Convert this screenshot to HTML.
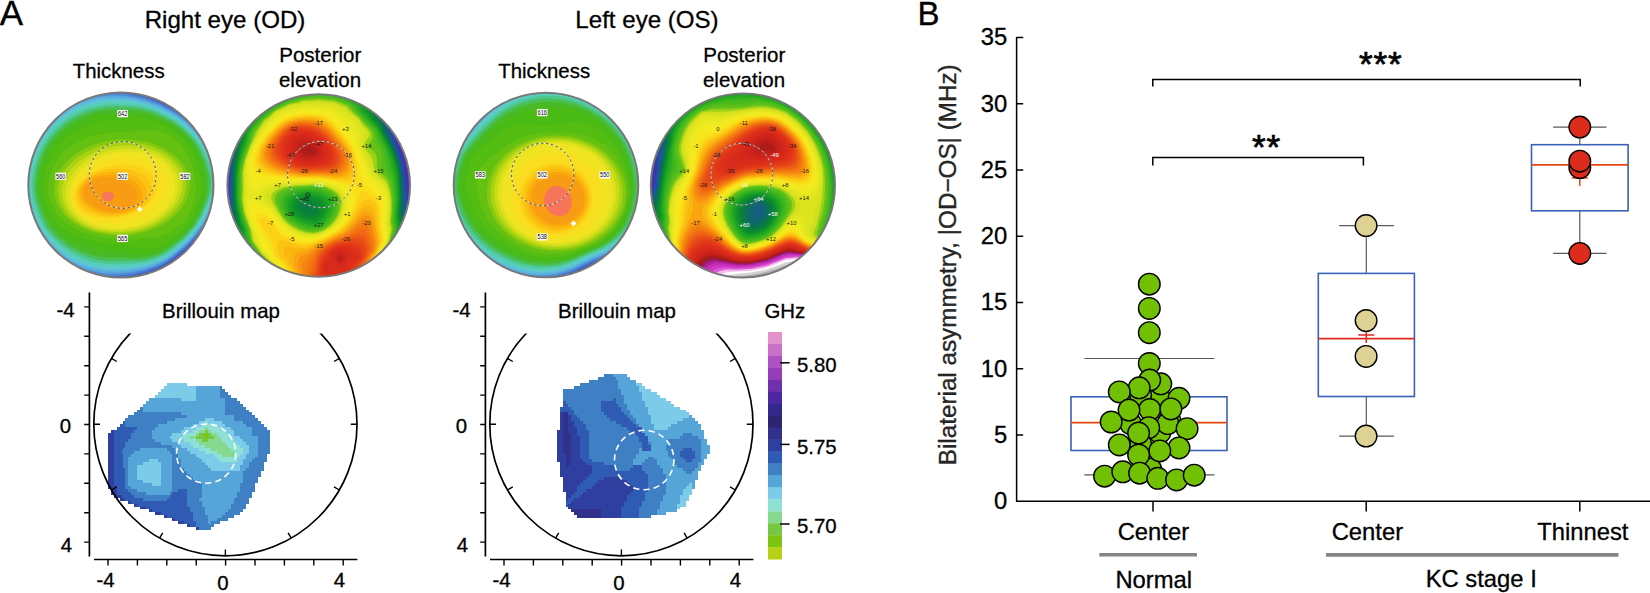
<!DOCTYPE html>
<html lang="en"><head><meta charset="utf-8"><title>Figure</title>
<style>
html,body{margin:0;padding:0;background:#fff;}
body{width:1650px;height:593px;overflow:hidden;}
svg{display:block;}
svg text{font-family:"Liberation Sans",Arial,Helvetica,sans-serif;stroke:#000;stroke-width:0.3px;}
svg text.sm, svg .sm text{stroke:none;}
</style></head><body>
<svg width="1650" height="593" viewBox="0 0 1650 593">
<rect width="1650" height="593" fill="#fff"/>
<text x="-0.3" y="25" font-size="35" text-anchor="start" fill="#000" >A</text>
<text x="917.6" y="25" font-size="33" text-anchor="start" fill="#000" >B</text>
<text x="225" y="27.7" font-size="24.1" text-anchor="middle" fill="#000" >Right eye (OD)</text>
<text x="647" y="27.7" font-size="24.1" text-anchor="middle" fill="#000" >Left eye (OS)</text>
<text x="118.7" y="77.6" font-size="20.4" text-anchor="middle" fill="#000" >Thickness</text>
<text x="544.2" y="77.6" font-size="20.4" text-anchor="middle" fill="#000" >Thickness</text>
<text x="320.3" y="62.2" font-size="20.5" text-anchor="middle" fill="#000" >Posterior</text>
<text x="320" y="87.1" font-size="20.5" text-anchor="middle" fill="#000" >elevation</text>
<text x="744.3" y="61.6" font-size="20.5" text-anchor="middle" fill="#000" >Posterior</text>
<text x="744" y="87.1" font-size="20.5" text-anchor="middle" fill="#000" >elevation</text>
<defs><clipPath id="bclip"><rect x="0" y="333.6" width="900" height="260"/></clipPath></defs>
<clipPath id="odec"><circle cx="318.7" cy="185.5" r="91.3"/></clipPath><g clip-path="url(#odec)" fill-rule="evenodd"><rect x="225.39999999999998" y="92.2" width="186.6" height="186.6" fill="#9A9A9A"/><path fill="#AEAEAE" d="M224.4,91.2 412.4,91.2 412.4,279.2 224.4,279.2Z"/><path fill="#D2D2D2" d="M224.4,91.2 412.4,91.2 412.4,279.2 224.4,279.2Z"/><path fill="#FEFBFE" d="M224.4,91.2 412.4,91.2 412.4,279.2 224.4,279.2Z"/><path fill="#F5BAED" d="M224.4,91.2 412.4,91.2 412.4,279.2 224.4,279.2Z"/><path fill="#DE57D4" d="M224.4,91.2 412.4,91.2 412.4,279.2 224.4,279.2Z"/><path fill="#D038C5" d="M224.4,91.2 412.4,91.2 412.4,279.2 224.4,279.2Z"/><path fill="#C52EB9" d="M224.4,91.2 412.4,91.2 412.4,279.2 224.4,279.2Z"/><path fill="#B0239E" d="M224.4,91.2 412.4,91.2 412.4,279.2 224.4,279.2Z"/><path fill="#9C1A61" d="M224.4,91.2 412.4,91.2 412.4,279.2 224.4,279.2Z"/><path fill="#9E1A1F" d="M224.4,91.2 412.4,91.2 412.4,279.2 224.4,279.2Z"/><path fill="#B01D18" d="M224.4,91.2 412.4,91.2 412.4,279.2 224.4,279.2ZM307.4,149 307,149.2 306.8,150.2 308.1,151.2 310.4,151.5 311.9,151.2 312.1,150.2 310.7,149.2 308.4,148.8Z"/><path fill="#C02019" d="M224.4,91.2 412.4,91.2 412.4,279.2 224.4,279.2ZM305.4,144.2 302.5,145.2 300.9,147.2 300.8,150.2 302.4,152.8 305.4,154.7 309.4,155.6 313.4,155.2 315.4,154.1 316.4,152.8 316.7,151.2 316.4,149.8 315.4,148.2 313.4,146.5 310.4,145 307.4,144.2ZM340.4,257 339.2,258.2 339.4,259.2 340.4,259.9 341.4,259.7 341.7,258.2 341.4,257.4Z"/><path fill="#CA231A" d="M224.4,91.2 412.4,91.2 412.4,279.2 224.4,279.2ZM301.4,142.1 299.6,143.2 298.4,144.6 297.6,146.2 297.4,148.2 297.7,150.2 298.6,152.2 301.4,155.2 305.4,157.1 310.4,157.8 314.4,157.2 316.4,156.3 317.7,155.2 318.8,153.2 318.8,150.2 317.4,147.7 314.9,145.2 311.4,142.9 308.4,141.8 304.4,141.4ZM339.4,255 337.9,256.2 337.4,258.2 338.4,260.5 339.4,261.3 340.4,261.5 341.4,261.3 342.4,260.3 342.8,259.2 342.9,257.2 342.4,256 341.4,255.1Z"/><path fill="#CF251B" d="M224.4,91.2 412.4,91.2 412.4,279.2 224.4,279.2ZM303.4,139.2 300.4,139.8 298.4,140.7 296.7,142.2 295.3,144.2 294.7,146.2 294.7,149.2 295.9,152.2 297.3,154.2 301.4,157.4 304.4,158.7 307.4,159.3 310.4,159.5 313.8,159.2 316.4,158.5 318.6,157.2 320.4,155.2 321.1,152.2 320.3,149.2 318.4,146.3 315.1,143.2 311.4,140.8 307.4,139.5ZM340.4,253.2 338.4,253.7 337.4,254.4 336.4,255.7 336,257.2 336.3,259.2 337.4,261.2 338.4,262.2 340.4,262.9 341.4,262.7 342.9,261.2 344,257.2 343.6,255.2 342.9,254.2Z"/><path fill="#D4271C" d="M224.4,91.2 412.4,91.2 412.4,279.2 224.4,279.2ZM302.4,137.2 299.4,137.7 296.4,139.2 294.3,141.2 292.6,144.2 292.1,147.2 292.4,149.7 293.4,152.2 295.4,155.1 297.7,157.2 300.4,158.8 304,160.2 307.4,160.9 311.4,161 315.4,160.5 318.4,159.4 320.4,158.2 322.2,156.2 323.1,153.2 322.2,149.2 320.3,146.2 316.4,142.2 312,139.2 307.4,137.6ZM338.4,252.1 336.5,253.2 335.4,254.5 334.6,256.2 334.6,258.2 335.4,260.2 337.4,262.9 339.4,264.2 341.4,264.3 342.4,263.7 343.5,262.2 345,257.2 345.1,255.2 344.4,253.4 342.9,252.2 340.4,251.7Z"/><path fill="#D82A1B" d="M224.4,91.2 412.4,91.2 412.4,279.2 224.4,279.2ZM298.4,136 295.4,137.3 292.4,140.1 290.6,143.2 289.8,146.2 289.9,149.2 291,152.2 293,155.2 295,157.2 297.8,159.2 301.4,160.9 305.4,162 309.4,162.4 314.4,162.1 318.3,161.2 321.4,159.7 323.2,158.2 324.5,156.2 325,154.2 324.5,150.2 322.3,146.2 317.4,141.1 313.4,138.1 308.4,136.1 303.4,135.4ZM325.4,266 324.7,267.2 325,268.2 325.4,268.9 326.4,269.3 327.4,268.4 327.5,267.2 326.4,265.9ZM337.4,251.1 335.4,252.4 333.9,254.2 333,257.2 333.4,259.2 336.4,263.7 338.4,265.5 340.4,266.2 342.4,265.9 343.4,265.2 344.4,263.5 345,260.2 346.6,256.2 346.8,254.2 346.5,253.2 344.6,251.2 342.4,250.4 339.4,250.4Z"/><path fill="#DA2C1A" d="M224.4,91.2 412.4,91.2 412.4,279.2 224.4,279.2ZM298.4,134.1 295.3,135.2 292.4,137.2 289.9,140.2 288,144.2 287.5,148.2 288.2,151.2 289.8,154.2 292.4,157.2 295.4,159.6 299.4,161.7 303.4,163 308.4,163.6 313.4,163.5 318.4,162.7 322.3,161.2 325,159.2 326.3,157.2 326.9,155.2 326.6,151.2 324.2,146.2 319.4,140.9 314.4,136.9 309.4,134.7 303.4,133.7ZM339.4,249.1 336.4,250.2 333.7,252.2 331.7,255.2 331.2,258.2 331.9,260.2 336.4,266.2 338.4,268 341.4,268.8 343.4,268.2 345.6,266.2 346.1,264.2 346.1,260.2 348.9,256.2 349.4,254.2 348.7,252.2 346.4,250.2 343.4,249.1ZM325.4,263.9 324.4,264.7 323.5,266.2 323.7,269.2 325.4,272.1 326.4,272.9 328.4,273.1 329.4,272.2 329.8,271.2 330.1,269.2 329.9,267.2 328.3,264.2 327.4,263.6Z"/><path fill="#DD2F19" d="M224.4,91.2 412.4,91.2 412.4,279.2 224.4,279.2ZM301.4,132.2 297.4,132.6 293.4,134.3 290,137.2 287.2,141.2 285.6,145.2 285.4,149.2 286.7,153.2 288.9,156.2 292.1,159.2 296.4,161.8 300.4,163.5 305.4,164.6 311.4,164.8 317.6,164.2 322.4,162.9 326.4,160.6 327.6,159.2 328.6,157.2 328.9,153.2 327.3,148.2 323.7,143.2 318.4,138 313.4,134.7 307.4,132.7ZM338.4,248.1 334.4,250 331.9,252.2 329.9,255.2 328.3,259.2 324.4,262.7 322.8,265.2 322.4,268.2 323.4,272.5 325.4,276.6 327.4,278 329.4,278.4 332.4,277.7 334.5,276.2 336.6,273.2 342.4,271.9 345.4,270.2 347.5,268.2 348.7,266.2 348.8,261.2 349.4,260.4 355.4,258.6 357.2,257.2 357.4,256.2 356.4,255.2 351.9,251.2 348.9,249.2 346.4,248.2 343.4,247.6Z"/><path fill="#E03418" d="M224.4,91.2 412.4,91.2 412.4,279.2 337.9,279.2 347.4,271.7 349.6,269.2 352.6,264.2 358.4,259.3 359.5,257.2 359.2,255.2 356.4,251.4 353.9,249.2 349.4,247.1 343.4,246.2 340.4,246.4 337.4,247.2 332.4,249.9 329.3,253.2 323.4,261.7 321.8,265.2 321.4,268.2 322.2,276.2 323.2,279.2 224.4,279.2ZM297.4,131.1 293.8,132.2 290.4,134.5 287.1,138.2 284.3,143.2 283.2,147.2 283.4,150.6 284.9,154.2 287.4,157.4 291.4,160.6 296.1,163.2 301.4,165.1 306.4,165.9 313.4,165.9 320.4,165 325.4,163.4 328.7,161.2 330.1,159.2 330.8,157.2 331,154.2 330.3,151.2 329,148.2 327.2,145.2 322,139.2 316.4,134.7 311.4,132.3 304.4,130.8Z"/><path fill="#E33B18" d="M224.4,91.2 412.4,91.2 412.4,279.2 342.7,279.2 348.4,273.7 354.7,265.2 359.6,260.2 360.8,258.2 361.2,256.2 360.9,254.2 359.4,251 358.2,249.2 356,247.2 351.4,245.5 344.4,244.9 339.4,245.4 334.4,247.3 330.2,250.2 326,255.2 322.4,260.7 321.1,264.2 320.6,267.2 320.6,273.2 320,277.2 320.2,279.2 224.4,279.2ZM295.4,130 291.4,131.9 287.6,135.2 284.5,139.2 281.9,144.2 281,148.2 281.2,151.2 283,155.2 285.6,158.2 289.4,161.2 295,164.2 300.4,166 305.4,166.9 313.4,167 321.4,166.1 327.4,164.4 330.6,162.2 332.1,160.2 333,157.2 332.9,154.2 332.1,151.2 330.8,148.2 328.3,144.2 321.4,136.7 316.4,133 310.4,130.5 302.4,129.4Z"/><path fill="#E64318" d="M224.4,91.2 412.4,91.2 412.4,279.2 346.1,279.2 350.4,274.2 356.1,266.2 361.1,260.2 362.2,258.2 362.8,255.2 362.2,250.2 361.2,248.2 359.4,245.9 357.4,244.6 355.4,243.9 349.4,243.3 341.4,243.8 336.4,245.1 330.8,248.2 326.4,252.2 322.7,257.2 320.8,261.2 319.6,267.2 319.5,272.2 317.9,277.2 317.8,279.2 224.4,279.2ZM299.4,128.2 294.4,128.9 290.4,130.9 285.7,135.2 281.4,141.2 279.2,146.2 278.8,150.2 279.9,154.2 282.4,157.7 286.5,161.2 291.8,164.2 298.4,166.7 304.4,167.9 313.4,168 323.4,167 329.4,165.4 332.4,163.4 334.1,161.2 334.8,159.2 335.1,156.2 334.6,153.2 333.6,150.2 331.4,146.2 325.4,138.6 319.4,133.2 314.4,130.4 307.4,128.5Z"/><path fill="#E94C17" d="M224.4,91.2 412.4,91.2 412.4,279.2 348.7,279.2 362.4,260.2 363.9,257.2 364.8,253.2 364.8,250.2 364.4,248.2 362.3,244.2 359.4,242 357.4,241.3 354.4,241.1 342.4,242.4 337.4,243.6 331.4,246.4 325.4,251.2 322.1,255.2 320,259.2 319.1,263.2 318.3,271.2 316.2,276.2 315.7,279.2 224.4,279.2ZM297.4,127.1 292.4,128.3 288,131.2 283.1,136.2 279,142.2 276.9,147.2 276.7,151.2 277.9,155.2 280.4,158.5 285.1,162.2 290.7,165.2 297.4,167.6 303.4,168.8 312.4,169 325.4,168 330.4,166.9 332.4,166 334.4,164.5 336,162.2 337,159.2 337.1,156.2 336.5,153.2 334.9,149.2 332.5,145.2 325.4,136.6 319.4,131.5 313.4,128.5 305.4,127Z"/><path fill="#EC5A15" d="M224.4,91.2 412.4,91.2 412.4,279.2 351,279.2 363.6,260.2 365.6,256.2 367,251.2 367.1,249.2 366.5,246.2 364.4,241.6 361.4,238.9 358.4,238.1 354.4,238.5 337.4,242.5 330.4,245.7 324.5,250.2 320.9,254.2 318.7,258.2 317.9,261.2 316.8,270.2 314.1,276.2 313.5,279.2 224.4,279.2ZM296.4,126.1 291.4,127.6 286.4,131 281.4,136.2 276.6,143.2 274.9,147.2 274.4,151.2 275.4,155.2 278.3,159.2 283.4,163.1 289.4,166.1 296.4,168.5 303.4,169.9 312.4,170 328.4,169 333.4,167.6 336.4,165.4 338.4,162.3 339.1,159.2 339.1,156.2 338,152.2 336.1,148.2 333.5,144.2 329.6,139.2 325.4,134.7 319.4,129.8 313.4,127.1 305.4,125.8Z"/><path fill="#F06812" d="M224.4,91.2 412.4,91.2 412.4,279.2 353,279.2 360.7,266.2 365.4,259.2 368.3,253.2 369.2,250.2 369.3,248.2 368.6,244.2 366.4,238.7 363.4,235.3 360.4,234.4 357.4,234.9 347.4,238.5 335.4,242.1 328.4,245.7 322.4,250.2 319.6,253.2 317.2,257.2 316.3,260.2 315.1,268.2 314.4,270.4 312,275.2 311.2,279.2 224.4,279.2ZM295.4,125.2 289.7,127.2 284.4,131.1 278.8,137.2 274.1,144.2 272.6,148.2 272.4,153 274,157.2 276.5,160.2 281.4,163.8 288.4,167.1 296.4,169.6 303.4,170.9 311.4,171 330.4,170.2 334.4,169.2 336.4,168.1 338.4,166.3 340.4,163.2 341.1,160.2 341,156.2 339.9,152.2 337.9,148.2 334.5,143.2 329.6,137.2 325.4,132.7 319.4,128.1 313.4,125.7 304.4,124.5Z"/><path fill="#F27611" d="M224.4,91.2 412.4,91.2 412.4,279.2 354.8,279.2 362,266.2 367.1,258.2 370.3,252.2 371.3,249.2 370.6,242.2 368.4,235.9 365.4,230.9 364.4,230.1 362.4,229.6 359.4,230.4 347.4,236.8 337.4,240.1 332.4,242.3 325.5,246.2 320.3,250.2 316.7,254.2 314.5,258.2 312.4,266.9 309.1,275.2 308.7,279.2 224.4,279.2ZM295.4,124.1 289.4,126.1 283.7,130.2 277.1,137.2 272.3,144.2 270.6,148.2 270.2,153.2 271.4,157.2 274.4,161 279.4,164.6 286.4,167.8 294.4,170.3 302.4,171.7 308.4,172 332.4,171.4 336.4,170.2 338.4,169 340.4,167.2 342.3,164.2 343.1,161.2 343.1,157.2 342.1,153.2 340.2,149.2 337,144.2 331.4,137.2 326.4,131.8 320.4,127.1 314.4,124.6 309.4,123.7 304.4,123.4Z"/><path fill="#F58310" d="M224.4,91.2 412.4,91.2 412.4,279.2 356.5,279.2 363.7,265.2 372.4,251.2 373,249.2 373.1,245.2 372.6,241.2 369.4,230.5 367.2,225.2 366.3,224.2 364.4,223.7 362.4,224.3 360.4,225.5 353.1,231.2 348.6,234.2 329.4,242.6 321.9,247.2 316.9,251.2 312.5,256.2 307.9,264.2 306,273.2 306.2,279.2 224.4,279.2ZM294.4,123.2 288.4,125.4 283.1,129.2 276.3,136.2 270.4,144.2 268.4,149.2 268.1,154.2 269.4,158.2 272.4,162 276.9,165.2 283.5,168.2 292.4,170.9 301.4,172.6 306.4,172.9 332.4,172.7 337.4,171.6 341.4,169.2 343.7,166.2 345,162.2 345.1,158.2 344.3,154.2 342,149.2 338.7,144.2 332.4,136.3 327.4,130.8 321.4,126 318.4,124.5 314.4,123.2 309.4,122.5 304.4,122.2 299.4,122.4Z"/><path fill="#F79310" d="M224.4,91.2 412.4,91.2 412.4,279.2 358.1,279.2 364.4,266.1 373.7,251.2 374.6,247.2 374.7,243.2 374.4,240.4 370.4,224.1 368.4,220.5 367.4,219.7 365.4,219.1 363.4,219.5 360.4,221.3 352.2,229.2 346.9,233.2 343.3,235.2 330.4,241 319.5,247.2 314.1,251.2 304.8,259.2 302.7,262.2 302,265.2 302.7,274.2 303.7,279.2 224.4,279.2ZM301.4,121.1 293.4,122.4 287.4,124.8 281.3,129.2 273.8,137.2 268.7,144.2 266.4,150.2 266,153.2 266.3,156.2 267.3,159.2 268.6,161.2 270.5,163.2 273.2,165.2 279.3,168.2 288.7,171.2 299.4,173.3 305.4,173.8 319.4,173.6 333.4,174 339.4,172.7 343.4,170.3 345.4,167.6 346.7,164.2 347.1,160.2 346.5,155.2 344.8,151.2 341.9,146.2 332.4,134.2 325.5,127.2 322.4,124.9 319.4,123.3 315.8,122.2 311.4,121.5Z"/><path fill="#F9A50F" d="M224.4,91.2 412.4,91.2 412.4,279.2 359.6,279.2 365.6,266.2 374.8,251.2 376.3,244.2 376.2,240.2 372.1,221.2 370.8,218.2 369.4,216.3 368.4,215.6 366.4,214.9 363.4,215.5 360.4,217.4 350.4,228.2 344.4,232.9 320.2,245.2 309.4,251.7 302.8,255.2 300.2,257.2 298.4,260.2 297.8,264.2 298.4,268.2 301.3,279.2 224.4,279.2ZM299.4,120.2 291.4,121.8 288.1,123.2 284.4,125.4 277.5,131.2 269.8,140.2 265.6,147.2 264,153.2 264.4,158.2 265.8,161.2 267.4,163.2 272.4,167 278.4,169.6 288.4,172.4 299.4,174.3 305.4,174.6 319.4,174.5 335.4,175.2 341.4,174 345.4,171.5 347.7,168.2 348.7,164.2 348.9,159.2 347.9,154.2 346.1,150.2 343,145.2 330.7,130.2 327.4,126.9 324.4,124.5 318.4,121.5 314.4,120.6 309.4,120Z"/><path fill="#FAB50F" d="M224.4,91.2 412.4,91.2 412.4,279.2 361.1,279.2 366.3,267.2 375.7,251.2 377.2,246.2 377.9,242.2 377.7,239.2 374.4,220.9 373.2,216.2 371.7,213.2 370.4,211.7 368.4,210.5 366.4,210.3 363.4,211.2 360.4,213.5 349.4,226.7 345.6,230.2 342.4,232.5 312.4,247.8 307.4,249.8 298.4,252.3 294.9,254.2 294.2,255.2 293.6,257.2 293.8,264.2 299.1,279.2 224.4,279.2ZM298.4,119.2 290.4,121.1 286.4,122.8 283.4,124.7 276.4,130.6 268.2,140.2 264,147.2 262.5,151.2 262,154.2 261.9,157.2 262.4,159.5 263.6,162.2 265.1,164.2 269.4,167.6 275.4,170.3 286.3,173.2 297.4,175 304.4,175.5 319.4,175.4 336.4,176.5 340.4,176.2 343.4,175.4 347.3,173.2 349.4,170.2 350.7,165.2 350.6,159.2 349.4,153.9 347.3,149.2 344.1,144.2 331.4,128.8 328.4,125.7 325.1,123.2 321.5,121.2 318.4,120.1 309.4,118.8 303.4,118.8Z"/><path fill="#FBC412" d="M224.4,91.2 412.4,91.2 412.4,279.2 362.5,279.2 367.5,267.2 376.6,251.2 378.4,246.2 379.5,241.2 377.1,227.2 375.8,216.2 374.9,212.2 373.6,209.2 372.1,207.2 369.4,205.3 367.4,204.9 364.4,205.7 361.4,208 358.4,211.6 350.1,223.2 345.6,228.2 341.4,231.5 335,235.2 319.4,242.9 313.4,245.5 308.4,247.2 304.4,248 300.4,248.2 288.4,247 286.4,247.3 284.9,248.2 284.2,249.2 283.9,251.2 284.5,254.2 288.4,260.7 290.4,265.2 293.9,271.2 297.1,279.2 224.4,279.2ZM298.4,118.1 289.4,120.2 286.4,121.5 282.4,124 275.4,129.9 267.4,139.1 262.3,147.2 260.8,151.2 260,154.2 259.8,157.2 260.2,160.2 261.4,163.2 262.8,165.2 267.4,169 273.4,171.5 283.4,173.9 295.4,175.8 303.4,176.4 319.4,176.3 333.4,177.7 339.4,178 345.4,177.3 347.4,176.5 349.4,175.2 350.9,173.2 351.8,171.2 352.7,166.2 352.3,159.2 350.8,153.2 348.5,148.2 345.4,143.4 332,127.2 326.4,122.2 322.9,120.2 319.4,118.9 314.4,117.9 309.4,117.6Z"/><path fill="#FBD216" d="M224.4,91.2 412.4,91.2 412.4,279.2 363.9,279.2 368.8,267.2 377.9,250.2 380.5,243.2 381.2,240.2 378.8,227.2 377.8,213.2 376.4,207.2 374.4,203.5 372.4,201.3 369.4,199.5 366.4,199 363.4,200.1 361.4,202.1 350.2,220.2 344.4,227.2 338,232.2 325.4,238.9 313.4,243.9 309.4,245 305.4,245.6 298.4,245.1 288.4,241.7 282.4,240.4 279.4,240.4 278.1,241.2 277.1,244.2 277.1,248.2 277.8,251.2 279.4,255.2 280.6,257.2 285.5,262.2 291,270.2 295.1,279.2 224.4,279.2ZM297.4,117 288.4,119.4 284.4,121.3 280.4,123.9 273.4,130.3 265.4,139.7 260.3,148.2 258,155.2 257.7,159.2 258.2,162.2 259.4,164.9 261.2,167.2 265.4,170.5 270.4,172.7 278.4,174.5 290.4,176.3 301.4,177.2 320.4,177.2 342.4,179.8 348.4,179.5 351.5,178.2 353.2,176.2 354,174.2 354.8,168.2 354.2,160.2 352.4,153.2 350.2,148.2 347.2,143.2 333.3,126.2 330.4,123.2 327.4,120.9 323.4,118.8 319.4,117.5 314.4,116.6 309.4,116.3 302.4,116.4ZM267.4,224.9 268.2,226.2 268.6,226.2 268.4,224.8Z"/><path fill="#F9DF1A" d="M224.4,91.2 412.4,91.2 412.4,279.2 365.3,279.2 370,267.2 379.3,249.2 382.4,241.2 382.7,239.2 380,225.2 379.7,209.2 378,203.2 375.4,198.8 371.4,194.9 366.4,192.1 362.4,191.1 361.4,191.4 360.4,192.5 356,205.2 351.7,214.2 347.5,221.2 343.4,226.2 338.4,230.4 330.4,235.3 321.4,239.6 312.4,242.7 306.4,243.6 300.4,243.1 296.4,241.9 284.4,236.8 280.4,234.5 277.9,232.2 275.9,229.2 272.7,223.2 270.4,220.6 267.4,218.7 264.4,217.6 262.4,217.4 260.4,218.4 259.9,219.2 259.7,221.2 260.6,224.2 270.4,239.2 272,243.2 274,251.2 276.3,256.2 277.6,258.2 283.4,263.2 288.2,269.2 290.7,273.2 293.3,279.2 224.4,279.2ZM302.4,115.2 297.4,115.8 291.4,117.2 287.4,118.5 284.4,119.9 276.4,125.5 267.4,135.1 260.3,145.2 258.2,149.2 256.5,154.2 255.8,158.2 255.8,162.2 256.6,165.2 258.4,168.2 261.4,171.1 264.4,173 268.4,174.4 273.4,175.4 296.4,177.9 321.4,178.2 352.4,183.5 354.4,183.7 356.3,183.2 357.2,181.2 357.4,176.2 357.1,168.2 356.2,161.2 354.6,155.2 352.8,150.2 350.4,145.2 347.4,140.7 340.4,132.8 333.4,123.7 330.4,120.9 327.4,118.9 322.4,116.8 316.4,115.5 310.4,115Z"/><path fill="#F7E71D" d="M224.4,91.2 412.4,91.2 412.4,279.2 366.6,279.2 370.7,268.2 376.4,256.2 379.7,250.2 383.9,240.2 383.7,236.2 381.5,225.2 381.3,221.2 382,210.2 381.5,206.2 380.4,201.8 378.4,197.6 376.4,194.7 373.4,191.6 366,185.2 362.5,180.2 360.7,175.2 358.2,162.2 356.3,155.2 352.3,145.2 348.5,139.2 341.4,131.6 334.6,122.2 330.4,118.6 326.4,116.4 321.4,114.8 315.4,113.9 309.4,113.6 298.4,114.3 287.4,117.1 284.4,118.4 279.9,121.2 274.4,125.6 265.4,135.5 260,143.2 257.2,148.2 255.2,153.2 253.8,159.2 253.6,163.2 254.4,167.4 255.8,170.2 258.5,173.2 261.4,175.1 265.4,176.3 271.4,177.1 294.4,178.8 316.4,178.8 321.4,179.1 338.4,182.6 343.8,184.2 347.4,185.7 350.4,187.6 352.8,190.2 354.1,193.2 354.6,196.2 354.5,200.2 353.6,204.2 352,209.2 349.2,215.2 345.6,221.2 342.4,225.2 338.4,228.9 333.6,232.2 325.4,236.7 318.4,239.6 311.4,241.5 306.4,241.9 302.4,241.5 298.4,240.4 285.4,234.4 282.4,232.4 280.1,230.2 273.4,220.8 269.4,217 266.4,215 263.4,213.6 260.4,212.9 258.1,213.2 256.8,214.2 256,216.2 256,219.2 256.7,222.2 258.6,226.2 263.8,234.2 268.4,243.2 271.1,251.2 276,259.2 282,264.2 287,270.2 289.3,274.2 291.5,279.2 224.4,279.2Z"/><path fill="#F4E91F" d="M224.4,91.2 412.4,91.2 412.4,279.2 368,279.2 372.3,267.2 377.3,256.2 380.6,250.2 384.9,240.2 384.8,235.2 383,226.2 382.7,223.2 383.8,212.2 383.8,208.2 383.1,203.2 382,199.2 380.4,195.5 378.3,192.2 375.5,189.2 369,183.2 365.2,178.2 363.1,173.2 358.7,157.2 352.8,142.2 349.5,137.2 342.5,130.2 336.6,121.2 332.1,117.2 326.4,114.4 319.4,112.8 310.4,112.1 299.4,112.7 286.4,115.9 283.4,117.3 277.4,121.2 273.4,124.6 264.4,134.7 258.5,143.2 255.3,149.2 252.8,156.2 251.7,162.2 251.8,168.2 253,173.2 254.4,176 255.5,177.2 257.4,178.3 260.4,179 298.4,180 319.4,179.8 324.4,180.6 331.5,182.2 338.4,184.2 342.4,185.8 346.4,188.2 348.6,190.2 350.5,193.2 351.6,197.2 351.7,201.2 350.9,206.2 349.2,211.2 346.9,216.2 343.8,221.2 339.5,226.2 335.4,229.7 329.9,233.2 323.4,236.5 316.4,239 310.4,240.2 305.4,240.2 298.4,238.5 286.4,232.6 281.4,228.5 273.4,218.2 268.4,213.6 264.4,211 261.4,209.8 258.4,209 255.4,209.2 254.4,209.7 253.4,211.1 253,213.2 253.3,217.2 254.4,222 256.4,226.4 261.8,235.2 267.9,250.2 274.3,259.2 280.4,264.6 284.3,269.2 287,273.2 289.8,279.2 224.4,279.2Z"/><path fill="#EEE920" d="M224.4,91.2 412.4,91.2 412.4,279.2 369.3,279.2 373.9,266.2 377.8,257.2 381.9,249.2 385.8,240.2 385.9,233.2 384.4,226.2 384.1,223.2 385.4,212.2 385.5,207.2 384.7,201.2 383.4,196.5 381.4,192.2 379.4,189.2 370.4,180.5 367.2,176.2 365,171.2 361.6,160.2 353.8,139.2 351.2,135.2 344.3,129.2 340.5,122.2 338.4,119.3 336.3,117.2 333.5,115.2 327.4,112.5 322.4,111.4 311.4,110.4 298.4,111.3 284.4,115 274.7,121.2 266.3,130.2 263.4,133.8 255.9,145.2 253.9,149.2 251.4,156.2 250.2,161.2 249.6,168.2 249.8,173.2 250.8,178.2 252.4,181.7 253.4,182.8 255.4,183.7 258.4,183.6 268.4,181.8 276.4,181 316.4,180.6 325.4,181.8 336.8,185.2 341.4,187.4 345.2,190.2 347.5,193.2 348.8,196.2 349.4,200.2 349.1,205.2 347.7,210.2 345.1,216.2 342,221.2 338.7,225.2 334.1,229.2 328.4,232.9 322.4,235.8 316.4,237.8 310.4,238.8 305.4,238.7 301.4,237.8 297.4,236.4 290.4,233 286,230.2 281.4,225.9 272.4,214.7 268.4,211 265.4,208.8 261.4,206.8 257.4,205.4 254.4,204.9 252.4,205.4 251.4,206.5 250.7,208.2 250.3,211.2 252.4,221 254.4,226.1 259.6,235.2 261.4,241.2 264.7,249.2 266,251.2 273.8,260.2 279.2,265.2 281.8,268.2 285.3,273.2 288.1,279.2 224.4,279.2Z"/><path fill="#E6E71F" d="M224.4,91.2 412.4,91.2 412.4,279.2 370.6,279.2 375.4,265.2 378.7,257.2 381.9,251.2 385.4,243.3 386.8,239.2 387.1,232.2 385.6,225.2 385.4,223.2 386.9,212.2 387,207.2 386.3,200.2 384.8,194.2 383,190.2 381,187.2 372.4,179 368.9,174.2 367.1,170.2 363.8,160.2 359.2,149.2 355.4,135 352.6,131.2 347.2,127.2 344,121.2 341.8,118.2 338.8,115.2 336.4,113.5 329.4,110.6 324.4,109.5 311.4,108.5 298.4,109.4 292.4,111.3 287.4,112.1 283.4,113.4 274.4,119.2 264.3,130.2 257.4,140.5 254,146.2 249.1,159.2 248.3,164.2 247.6,172.2 248.3,180.2 249.4,185.8 250.4,188.7 251.4,190.3 252.4,190.9 254.4,190.5 261.2,187.2 266.4,185.2 272.4,183.5 278.4,182.6 316.4,181.5 322.4,182.1 330.1,184.2 335.6,186.2 340.4,188.8 343.4,191.3 346,195.2 347.2,199.2 347.3,204.2 345.9,210.2 343.4,216.2 340.3,221.2 336.9,225.2 332.2,229.2 326.4,232.8 321.4,235.1 315.4,236.9 309.4,237.5 304.4,237 297.4,234.7 288.4,229.9 282.9,225.2 273.4,213.3 267.4,207.4 263.4,204.7 255.9,201.2 252.4,199 251.4,198.7 250.4,199.2 249.4,200.8 248.6,204.2 248.2,209.2 248.5,212.2 252,224.2 257.9,236.2 259.5,242.2 263.9,251.2 279.4,267.2 283.6,273.2 286.5,279.2 224.4,279.2Z"/><path fill="#DDE41D" d="M224.4,91.2 412.4,91.2 412.4,279.2 371.9,279.2 376.5,265.2 379.3,258.2 382.8,251.2 386.6,242.2 388,237.2 388.3,230.2 386.9,225.2 386.8,223.2 388.3,212.2 388.4,207.1 387.7,199.2 386.1,192.2 384.4,188.2 382.5,185.2 373.4,176.6 370,171.2 366.3,160.2 361.8,151.2 360.4,147.2 359.7,143.2 360,134.2 359.4,131.2 357.4,127.3 354.4,122.9 352.6,121.2 346.4,116.9 340.4,111.8 336.4,109.7 326.4,107 318.4,107.1 311.4,106.1 300.4,106.9 295.4,107.9 285.4,110.6 278.9,113.2 276.4,114.9 270.8,120.2 263.4,128.8 256.4,139.8 251.9,148.2 248.2,158.2 247.1,163.2 245.9,173.2 247,191.2 246.3,199.2 246.6,209.2 247.3,213.2 250.8,224.2 254.7,233.2 256.4,240.2 262.5,251.2 277.9,267.2 281.9,273.2 284.9,279.2 224.4,279.2ZM292.1,183.2 313.4,182.4 320.4,182.7 326.4,184.2 332.4,186.3 337.4,188.8 340.7,191.2 343.2,194.2 344.6,197.2 345.4,201.2 345.3,205.2 344.2,210.2 342.2,215.2 339.3,220.2 336.1,224.2 332.9,227.2 328.4,230.5 323.4,233.2 319.4,234.7 314.4,235.9 310.4,236.2 306.4,235.9 301.4,234.7 293.4,231.2 286.4,226.5 282.1,222.2 273.4,210.8 269.4,206.2 265.4,202.6 258.4,198.2 258,197.2 258.4,195.2 261.2,192.2 265.6,189.2 271.4,186.4 278.4,184.4Z"/><path fill="#D1E01C" d="M224.4,91.2 412.4,91.2 412.4,279.2 373.2,279.2 378.7,262.2 384.9,248.2 387.8,241.2 388.8,237.2 389.7,230.2 389.5,228.2 388.4,224.8 388.3,222.2 389.7,211.2 389.4,201.3 388.2,193.2 385.8,186.2 383.1,182.2 376.2,176.2 373.4,172.7 371.8,169.2 368.7,159.2 362.7,148.2 362,145.2 362.2,142.2 365,134.2 364.8,132.2 363.9,130.2 356.2,119.2 348.9,114.2 343.1,109.2 339.4,107.2 334.2,105.2 330.4,104.3 316.4,103.6 305.4,103.4 295.4,105.7 290.4,106.3 283.4,109.6 277.4,111.8 275.4,113.1 267.3,121.2 260.4,130.2 251.6,146.2 246.7,159.2 244.6,171.2 245,191.2 244.4,199.2 245.6,211.2 250.1,225.2 253,232.2 254.4,240.2 262.4,252.7 274,264.2 276.5,267.2 280.4,273.2 283.3,279.2 224.4,279.2ZM294.5,184.2 313.4,183.3 320.4,183.7 325.9,185.2 331.4,187.2 336.4,189.9 339.4,192.4 341.6,195.2 343.3,199.2 343.7,203.2 343.3,207.2 341.9,212.2 339.6,217.2 336.9,221.2 333.3,225.2 327.4,229.8 321.4,232.9 315.4,234.6 309.4,234.9 303.4,233.9 296.4,231.1 289.4,227.1 284.4,222.7 280.6,218.2 267.7,200.2 266.3,197.2 266.3,195.2 267.4,193.2 269.3,191.2 272,189.2 276,187.2 283.4,185.4Z"/><path fill="#9CD118" d="M224.4,91.2 412.4,91.2 412.4,279.2 374.5,279.2 377,270.2 380.1,261.2 388.9,240.2 391,230.2 391.1,228.2 389.9,224.2 389.6,221.2 390.8,211.2 390.6,200.2 389.7,193.2 388.4,187.6 386.5,183.2 384.5,180.2 377.5,174.2 375.8,172.2 374.2,168.2 372.9,161.2 372,158.2 370.3,155.2 366.4,150.5 365,148.2 364.4,146.2 364.7,143.2 365.7,141.2 368.7,137.2 369.4,135.2 369.3,133.2 367.7,130.2 362.4,124.3 358.1,118.2 351.7,113.2 346.4,107.5 344.4,106.4 333.4,101.9 325.4,101.5 318.4,100.4 311.4,101.3 303.8,101.2 296.4,103.7 289.4,104.8 283.4,108.1 275.4,111.4 270.4,116.4 264.7,121.2 258.4,130.2 250.5,146.2 245.4,160.2 243.3,172.2 243.5,191.2 243,200.2 244.7,212.2 251.5,231.2 253,240.2 261.7,253.2 274.4,266.2 278.3,272.2 281.7,279.2 224.4,279.2ZM296,185.2 313.4,184.3 320.4,184.8 326.4,186.6 332.4,189.2 335.7,191.2 338.8,194.2 340.7,197.2 341.8,201.2 341.9,205.2 340.9,210.2 339,215.2 336.7,219.2 333.6,223.2 329.2,227.2 324.4,230.4 318.4,232.8 312.4,233.7 306.4,233.2 299.4,231 292.4,227.4 287.4,223.8 283,219.2 278.1,212.2 272.9,203.2 271.1,198.2 271.4,195.2 272.5,193.2 274.4,191.2 279.4,188.3 286.4,186.5Z"/><path fill="#65C21A" d="M224.4,91.2 412.4,91.2 412.4,279.2 375.8,279.2 380.8,262.2 390,239.2 392.4,229.2 392.3,227.2 391.1,223.2 390.9,220.2 391.9,211.2 391.7,198.2 390.6,190.2 389.4,185.1 387.8,181.2 386,178.2 383.4,175.6 379.1,172.2 377.7,170.2 376.9,166.2 376.9,158.2 375.9,154.2 374.4,152.1 369.3,148.2 367.8,146.2 368.4,144.2 371.4,140.4 372.4,137.4 372.3,133.2 370.6,130.2 363.7,123.2 359.2,117.2 353.2,112.2 347.4,105.4 333.5,100.2 318.4,98.7 311.4,99.5 303.4,99.9 296.4,102.1 289.4,103.7 276.4,109.7 274.1,111.2 269.4,115.7 263.6,120.2 255.8,131.2 249.6,146.2 244.4,160.2 242.2,172.2 242.3,191.2 241.8,199.2 243.8,212.2 250.2,230.2 252,240.2 253,242.2 260.6,253.2 265.4,258.8 272.2,265.2 273.8,267.2 277.4,273.2 280.2,279.2 224.4,279.2ZM297.3,186.2 312.4,185.4 317.4,185.5 320.4,185.9 326.4,187.8 331.4,190.2 334.5,192.2 337.5,195.2 339.2,198.2 340.2,202.2 340.1,206.2 339,211.2 336.9,216.2 334.3,220.2 330.9,224.2 327.4,227.2 322.4,230.2 317.4,231.9 312.4,232.4 306.4,231.8 299.4,229.5 292.4,225.8 287.4,222 283.1,217.2 278.7,210.2 275.4,203.2 274.5,199.2 274.6,197.2 275.2,195.2 277.6,192.2 282.4,189.3 288.4,187.6Z"/><path fill="#55BE1B" d="M224.4,91.2 412.4,91.2 412.4,279.2 377.1,279.2 381.2,264.2 390.8,239.2 393.4,229.2 393.4,227.2 392.2,222.2 392,219.2 392.8,212.2 392.9,199.2 391.5,187.2 389.5,180.2 387.4,176 382.3,170.2 381.2,168.2 380.9,165.2 381.4,158.2 380.8,153.2 379.8,150.2 376.4,145.2 375.6,143.2 374.5,134.2 373.5,131.2 364.7,122.2 359.7,116.2 355.3,112.2 350.4,106.2 348.4,104.4 334.4,99.2 318.4,97.4 303.4,98.8 288.4,103 275.4,109.3 263.4,119 254,131.2 251.2,140.2 243.7,159.2 241.3,172.2 241.2,191.2 240.8,199.2 243.3,213.2 249,229.2 251.1,240.2 252.4,242.7 259.5,253.2 264.5,259.2 272.4,267.2 275.4,272.2 278.7,279.2 224.4,279.2ZM298.5,187.2 312.4,186.4 317.4,186.6 320.4,187.1 325.4,188.8 330.4,191.2 333.4,193.2 336.2,196.2 337.8,199.2 338.5,203.2 338.3,207.2 337,212.2 335.2,216.2 332.6,220.2 329.1,224.2 325.4,227.2 321.4,229.4 316.4,230.9 311.4,231.2 305.3,230.2 298.4,227.6 292.4,224.2 287.4,220.2 283.2,215.2 279.9,209.2 277.7,203.2 277.3,199.2 278.4,195.6 281.4,192.3 285.3,190.2 291.4,188.4Z"/><path fill="#48BA1D" d="M224.4,91.2 412.4,91.2 412.4,279.2 378.4,279.2 382.6,263.2 391.7,239.2 394.1,230.2 394.3,227.2 393.1,221.2 392.9,218.2 393.6,212.2 394,199.2 392.9,187.2 391.4,180.3 389.4,174.7 385.3,167.2 384.9,165.2 384.6,158.2 383.4,151.9 382.4,149 378.2,142.2 374.9,131.2 373.4,129.1 366.3,122.2 361.1,116.2 356.9,112.2 352.1,106.2 349.4,103.8 343.4,101.1 334.4,98.1 325.4,96.7 318.4,96.2 303.4,97.8 288.4,102.1 274.4,109.1 263.4,117.8 253.1,130.2 249.8,141.2 242.9,159.2 240.4,172.2 240,199.2 242.4,212.6 247.9,228.2 250,239.2 251.4,242.5 257.6,252.2 263.4,259.4 271.6,268.2 274.5,273.2 277.2,279.2 224.4,279.2ZM299.7,188.2 312.4,187.6 317.4,187.8 320.4,188.4 325.3,190.2 329.3,192.2 332.4,194.4 334.9,197.2 336.3,200.2 336.9,204.2 336.5,208.2 335.3,212.2 333.4,216.4 330.4,220.8 327.2,224.2 323.3,227.2 319.4,229 314.4,229.9 309.4,229.7 303.4,228.2 297.4,225.6 291.4,221.9 287.4,218.4 284.1,214.2 281.2,208.2 279.9,203.2 279.9,199.2 281.1,196.2 283.9,193.2 287.5,191.2 293.4,189.3Z"/><path fill="#3CB51E" d="M224.4,91.2 412.4,91.2 412.4,279.2 379.7,279.2 383.8,263.2 392.5,239.2 394.9,230.2 395.1,226.2 393.9,218.2 395,199.2 394.1,187.2 393.4,182.6 391.4,174.1 388,166.2 387.2,159.2 386.3,155.2 384.4,149 379.7,141.2 376.1,131.2 374.1,128.2 358.3,112.2 353.4,105.7 350.4,103.2 344.4,100.3 336.4,97.5 327.4,95.6 319.4,95.1 313.4,95.3 305.4,96.4 298.4,98 289.4,100.8 283.8,103.2 274.4,108.2 263.4,116.8 260,120.2 252,130.2 248.5,142.2 244.4,152.5 241.9,160.2 239.6,172.2 239.3,199.2 241.6,212.2 244,220.2 247.1,228.2 248.8,238.2 250.4,242.2 256.4,252 262.8,260.2 270.8,269.2 273.1,273.2 275.7,279.2 224.4,279.2ZM301.1,189.2 312.4,188.8 316.4,189 320.4,189.8 324.4,191.3 328.4,193.5 331.4,195.7 333.5,198.2 334.7,201.2 335.1,205.2 334.5,209.2 333.2,213.2 331.2,217.2 328.3,221.2 325.3,224.2 321.4,226.9 317.4,228.3 313.4,228.7 308.4,228.1 303.4,226.7 297.4,224 291.4,220.2 288,217.2 285.1,213.2 282.9,208.2 282,204.2 282.1,200.2 283.4,197.1 286.1,194.2 289.5,192.2 295.4,190.2Z"/><path fill="#30AF20" d="M224.4,91.2 412.4,91.2 412.4,279.2 381,279.2 384.9,263.2 393.7,238.2 395.6,230.2 395.9,226.2 394.7,217.2 395.9,198.2 395.2,186.2 393.4,175.3 390.1,165.2 388.9,158.2 385.6,148.2 380.8,140.2 377.2,131.2 374.5,127.2 359.7,112.2 355.6,106.2 352.3,103.2 345.4,99.5 338.4,96.9 328.4,94.6 320.4,93.9 310.4,94.5 299.4,96.6 290.4,99.5 280.4,103.9 271.6,109.2 262.4,116.6 257.2,122.2 251,130.2 249.6,134.2 247.3,143.2 244.3,150.2 242,157.2 239.3,169.2 238.5,185.2 238.6,198.2 239.3,204.2 240.4,210.2 242.8,219.2 246.3,228.2 247.4,236.2 249.1,241.2 256.1,253.2 269.9,270.2 274.2,279.2 224.4,279.2ZM303.1,190.2 313.4,190.1 320.4,191.4 324.4,193 328,195.2 330.4,197.3 332.4,200.2 333.1,203.2 333.2,206.2 332.5,210.2 331,214.2 328.7,218.2 326.4,221.2 323.4,224 320.4,226 316.4,227.2 312.4,227.3 307.4,226.4 302.4,224.8 297.1,222.2 292.4,219.2 288.4,215.6 286.2,212.2 284.7,208.2 284,204.2 284.5,200.2 286.1,197.2 288.4,195 292.4,192.7 297.4,191.1Z"/><path fill="#23A922" d="M224.4,91.2 412.4,91.2 412.4,279.2 382.3,279.2 386.3,262.2 394.8,237.2 396.8,227.2 395.5,216.2 396.8,199.2 396.2,185.2 394.3,172.2 391.9,165.2 390.6,158.2 386.4,147.2 382.2,140.2 378.2,131.2 376.5,128.2 369.8,121.2 365.4,116.1 361,112.2 357.5,106.2 355.6,104.2 351.4,101.4 344.4,97.9 340.4,96.3 329.4,93.6 321.4,92.8 310.4,93.3 298.4,95.9 291.4,98.2 280.4,103 270.3,109.2 263.4,114.7 256.9,121.2 252.4,126.6 250.1,130.2 248.5,134.2 246.4,143.2 243.8,149.2 242.1,154.2 239.9,162.2 238.7,168.2 238.2,173.2 237.8,186.2 237.9,198.2 238.7,205.2 242.3,220.2 245.5,228.2 246.1,235.2 247.7,240.2 255,253.2 268.3,270.2 270.5,274.2 272.7,279.2 224.4,279.2ZM298.8,192.2 303.4,191.4 307.4,191.3 312.4,191.5 317.4,192.2 320.6,193.2 324.4,195 327.5,197.2 329.4,199.2 330.5,201.2 331.2,204.2 331.1,207.2 330.3,211.2 328.6,215.2 326.8,218.2 324.3,221.2 321.4,223.7 318.4,225.3 315.4,225.8 311.4,225.7 306.4,224.6 301.4,222.7 296.4,220.1 292.2,217.2 289.1,214.2 287.4,211.2 286.3,207.2 286.1,203.2 286.9,200.2 288.9,197.2 291.4,195.2 295.4,193.2Z"/><path fill="#1BA125" d="M224.4,91.2 412.4,91.2 412.4,279.2 383.7,279.2 387.5,262.2 395.7,237.2 397.7,226.2 396.3,216.2 397.6,199.2 397.2,186.2 395.8,173.2 393.4,165.2 392,158.2 387,146.2 382.9,139.2 378.8,130.2 377,127.2 371.1,121.2 366.3,115.2 361.8,111.2 359.6,106.2 356.7,103.2 345.4,97.2 340.4,95.1 328.4,92.2 320.4,91.6 310.4,92.2 298.4,94.8 291.4,97.2 279.4,102.5 268.9,109.2 263.4,113.6 255.4,121.6 251.4,126.6 249.1,130.2 247.1,135.2 245.5,143.2 242.1,151.2 238.3,166.2 237.4,174.2 237.2,186.2 237.2,197.2 238.1,206.2 241.6,221.2 244.6,228.2 244.9,234.2 246.3,239.2 253.9,253.2 267.3,271.2 271.2,279.2 224.4,279.2ZM300.9,193.2 308.4,192.7 313.4,193.2 317.4,194 323.4,196.7 325.4,198.2 327.3,200.2 328.4,202.2 329,205.2 328.9,208.2 328.2,211.2 325.4,217.2 323,220.2 320.4,222.5 317.4,223.9 314.4,224.2 310.4,223.9 306.4,222.9 301.4,220.9 296.4,218.2 292.4,215.2 290.4,213.1 289,210.2 288.1,206.2 288.3,203.2 289.4,200.2 290.9,198.2 293.4,196.1 297.3,194.2Z"/><path fill="#139927" d="M224.4,91.2 309.8,91.2 294.4,95 280.4,101 266.4,110.1 256.4,119.2 251.4,125.2 248.1,130.2 246.6,133.2 245.5,137.2 244.8,142.2 241.8,149.2 238,163.2 236.5,178.2 236.4,194.2 237.1,204.2 237.6,208.2 239.4,214.4 240.7,221.2 243.3,228.2 243.5,233.2 244.1,236.2 245.7,240.2 252.2,252.2 265.7,271.2 269.6,279.2 224.4,279.2ZM329.3,91.2 412.4,91.2 412.4,279.2 385,279.2 388.6,262.2 396.6,237.2 398.5,226.2 397,215.2 397.9,207.2 398.4,198.2 398.1,185.2 396.7,172.2 394.6,165.2 393.1,158.2 388.6,147.2 383.5,138.2 378.1,127.2 376.4,125 371.5,120.2 367.4,114.2 363.9,110.2 363.1,107.2 361.8,105.2 356.3,101.2 344.4,95.4 339.4,93.6ZM305.2,194.2 312.4,194.9 318.4,196.6 322.9,199.2 325.5,202.2 326.3,204.2 326.6,207.2 325.6,212.2 324.3,215.2 322.4,217.9 320.4,220 318.4,221.4 315.4,222.3 312.4,222.3 308.4,221.6 304.4,220.2 299.4,217.9 295.4,215.3 293.1,213.2 291.4,210.8 290.4,207.2 290.5,204.2 291.5,201.2 293,199.2 295.3,197.2 298.4,195.6 301.4,194.7Z"/><path fill="#0E912B" d="M224.4,91.2 305.4,91.2 293.4,94.6 279.4,100.8 266.4,109.3 255.5,119.2 250.6,125.2 247.3,130.2 245.7,133.2 244.4,137.2 243.8,142.2 240.9,149.2 237.3,163.2 235.9,178.2 235.8,194.2 236.5,204.2 237.2,209.2 239,215.2 239.8,221.2 242,228.2 242.1,232.2 242.8,235.2 244.8,240.2 247.8,245.2 251.4,252.3 264.5,271.2 268.4,279.2 224.4,279.2ZM333.7,91.2 412.4,91.2 412.4,279.2 386.1,279.2 389.1,264.2 393.4,249.2 397.1,238.2 399.3,226.2 399,222.2 397.6,215.2 398.6,207.2 399,200.2 398.8,185.2 397.4,171.7 393.4,156.7 388.9,146.2 383.4,136.2 379.1,127.2 377.4,124.8 373.4,121.1 371.9,119.2 366.6,110.2 365.3,106.2 364.7,105.2 358.9,101.2 345.4,94.9 340.4,93ZM301,196.2 303.4,195.7 306.4,195.6 313.4,196.9 319.2,199.2 322.4,201.8 324.1,205.2 324.4,207.2 324.1,210.2 322.4,214.7 319.4,218.4 317.4,219.7 314.4,220.5 311.4,220.4 308.4,219.8 304.4,218.5 300.4,216.6 296.7,214.2 294.6,212.2 293.3,210.2 292.6,208.2 292.4,205.2 292.8,203.2 293.8,201.2 295.6,199.2 298.4,197.2Z"/><path fill="#0C8931" d="M224.4,91.2 301.9,91.2 291.4,94.5 282.4,98.5 277.4,101.2 264.4,110 253.7,120.2 247,129.2 243.9,135.2 243,138.2 242.5,142.2 240,149.2 238.7,156.2 236.6,163.2 235.3,177.2 235.3,195.2 236.2,207.2 238.3,215.2 238.9,221.2 240.3,227.2 240.6,232.2 242.9,238.2 247,245.2 250.5,252.2 263.2,271.2 267.1,279.2 224.4,279.2ZM337.7,91.2 412.4,91.2 412.4,279.2 387.2,279.2 390,264.2 393.9,250.2 397.8,238.2 400.1,226.2 399.9,222.2 398.3,215.2 399.3,207.2 399.7,196.2 399.4,185.2 398.4,174.2 398,171.2 394.9,159.2 393.4,154.8 389.6,146.2 382.4,132.6 380,127.2 378.1,124.2 373,119.2 368.8,110.2 367.3,106.2 366,104.2 363.5,102.2 359.4,100 344.4,93.4ZM303.7,197.2 307.4,197.5 314.4,199.6 317.7,201.2 320.4,203.7 321.5,206.2 321.6,210.2 320,214.2 317.4,217 315.4,218 312.4,218.4 306.4,217.2 300.1,214.2 297.5,212.2 295.8,210.2 295,208.2 294.7,206.2 295,204.2 295.8,202.2 298.7,199.2 301.4,197.8Z"/><path fill="#0A813A" d="M224.4,91.2 298.7,91.2 289.4,94.5 281.4,98.2 276.4,101 264.4,109.2 252.8,120.2 245.5,130.2 242.4,136.2 241.4,139.2 238.8,150.2 237.9,156.2 235.9,163.2 234.7,177.2 234.7,195.2 235.5,207.2 237.5,215.2 239.2,232.2 241.8,238.2 246.4,245.8 250.1,253.2 261.9,271.2 265.8,279.2 224.4,279.2ZM341.3,91.2 412.4,91.2 412.4,279.2 388.3,279.2 391,264.2 394.5,251.2 398.6,238.2 400.9,225.2 400.7,221.2 399,215.2 400.1,207.2 400.3,195.2 399.4,177.2 398.4,170 394.4,155.5 391.3,148.2 383,132.2 380.4,126.1 378.4,123 374.4,119.1 369.7,107.2 367.4,103.5 364.7,101.2 361.4,99.4ZM301.4,200.2 303.4,199.4 305.4,199.4 313.4,202.6 316.1,204.2 317.7,206.2 318.3,208.2 318,211.2 316.9,213.2 314.4,215.1 310.4,215.6 305.3,214.2 300.4,211.3 298.1,208.2 297.7,205.2 299.1,202.2Z"/><path fill="#0A784A" d="M224.4,91.2 295.8,91.2 282.4,96.9 275.4,100.9 263.4,109.2 251.8,120.2 243.9,131.2 239.9,139.2 237,156.2 235.1,163.2 234.1,177.2 234.4,185.2 234,194.2 234.6,200.2 234.8,207.2 236.6,215.2 238,232.2 240.7,238.2 245.6,246.2 249.7,254.2 260.6,271.2 264.6,279.2 224.4,279.2ZM344.4,91.2 412.4,91.2 412.4,279.2 389.4,279.2 392.2,263.2 395.4,251.2 399.4,238.2 401.8,225.2 401.5,220.2 399.9,215.2 400.8,207.2 401,194.2 400.1,177.2 398.4,167 394.7,154.2 392.1,148.2 383.3,131.2 381.1,125.2 379.4,122.4 376.1,118.2 372.1,108.2 369.2,103.2 366.4,100.6 363.4,98.8ZM303.3,205.2 304.4,204.6 306.7,205.2 310.2,207.2 311.1,208.2 311.2,209.2 310.5,210.2 309.4,210.5 307.4,210.3 305.4,209.5 303.7,208.2 303.1,207.2Z"/><path fill="#0C6F5C" d="M224.4,91.2 293.4,91.2 279.4,97.6 266.4,106.1 261.2,110.2 250.9,120.2 242.8,131.2 238.6,139.2 236.1,155.2 234.5,162.2 233.4,177.2 233.8,185.2 233.4,194.2 234,200.2 234,207.2 235.5,215.2 236.9,232.2 239.6,238.2 244.6,246.2 250.4,257 259.3,271.2 263.3,279.2 224.4,279.2ZM347.3,91.2 412.4,91.2 412.4,279.2 390.5,279.2 393.2,263.2 396.3,251.2 400.2,238.2 402.3,228.2 402.8,224.2 402.5,219.2 401,214.2 401.7,207.2 401.5,200.2 401.8,194.2 400.8,177.2 398.7,165.2 395.1,153.2 387.6,137.2 384.2,131.2 382.3,125.2 378.6,118.2 377.4,114.7 373.1,106.2 371.1,103.2 368.2,100.2 364.4,97.8Z"/><path fill="#116770" d="M224.4,91.2 291.2,91.2 278.4,97.4 265.4,105.9 254.7,115.2 250,120.2 241.8,131.2 237.8,138.2 237,141.2 233.8,161.2 232.8,176.2 233.2,185.2 232.7,194.2 233.3,200.2 233.2,207.2 234.3,215.2 235.8,232.2 237.9,237.2 244.1,247.2 249.4,257.1 258,271.2 261.9,279.2 224.4,279.2ZM350.3,91.2 412.4,91.2 412.4,279.2 391.7,279.2 394.2,263.2 396.9,252.2 401.3,237.2 403.4,227.2 403.9,222.2 403.7,218.2 402.3,213.2 402.6,207.2 402.1,200.2 402.5,193.2 401.5,177.2 399.3,164.2 395.8,153.2 394.3,149.2 391.1,143.2 388.1,136.2 384.8,130.2 383.2,124.2 378.8,113.2 373.1,103.2 370.4,100.2 366.2,97.2 361.7,95.2Z"/><path fill="#175E84" d="M224.4,91.2 289.2,91.2 277.4,97.1 265.4,105.1 260.2,109.2 250.8,118.2 241.4,130.2 237.1,137.2 235.8,141.2 233.9,153.2 232.5,165.2 232.1,177.2 232.6,185.2 232,194.2 232.5,200.2 232.4,208.2 234.5,231.2 236.7,237.2 243.4,247.8 248.4,257.2 256.2,270.2 260.6,279.2 224.4,279.2ZM353.9,91.2 412.4,91.2 412.4,279.2 392.8,279.2 395.5,262.2 397.9,252.2 402.1,237.2 404.3,227.2 405.1,221.2 405,217.2 403.7,212.2 402.9,201.2 403.3,193.2 402.5,185.2 402.4,178.2 399.6,162.2 395.6,150.2 391.9,143.2 389.1,136.2 386.2,130.2 384.7,124.2 380.8,113.2 376.5,105.2 372.5,100.2 368.4,96.9 363.4,94.4Z"/><path fill="#1F5597" d="M224.4,91.2 287.2,91.2 276.4,96.9 264.4,104.9 259.2,109.2 249.8,118.2 241,129.2 236.4,136.2 234.7,141.2 232.7,153.2 231.6,165.2 231.3,177.2 231.9,185.2 231.3,194.2 232,217.2 233.5,231.2 234.4,234.5 236.1,238.2 243.1,249.2 255.5,271.2 259.3,279.2 224.4,279.2ZM358.1,91.2 412.4,91.2 412.4,279.2 394,279.2 396.7,261.2 404.7,230.2 406.3,220.2 406.3,217.2 405,211.2 403.8,200.2 404.1,193.2 403.2,186.2 403.1,177.2 400.4,162.2 398.2,156.2 396.5,150.2 392.3,142.2 387.8,130.2 386.4,124.2 383,114.2 379.7,107.2 375.5,101.2 371.3,97.2 365.4,93.8Z"/><path fill="#274CA9" d="M224.4,91.2 285.4,91.2 275.4,96.6 263.4,104.8 254.4,112.6 248.8,118.2 239.1,130.2 235.3,136.2 233.6,141.2 231.5,153.2 230.6,167.2 230.5,177.2 231.1,185.2 230.5,193.2 230.5,206.2 230.9,218.2 232.4,231.2 233.4,234.7 235,238.2 242.5,250.2 254.2,271.2 257.9,279.2 224.4,279.2ZM362.4,91.2 412.4,91.2 412.4,279.2 395.1,279.2 396.4,269.2 398,260.2 405.9,229.2 407.5,219.2 407.4,216.2 406.4,211.2 404.9,200.2 405,194.2 403.9,185.2 403.9,177.2 402.5,170.2 401.6,163.2 399,156.2 397,149.2 393.3,142.2 389.7,131.2 387.9,123.2 384.4,113.2 382.1,108.2 378.3,102.2 373.6,97.2 368.4,93.7Z"/><path fill="#2F42AF" d="M224.4,91.2 283.5,91.2 275.4,95.7 263,104.2 253.7,112.2 247.7,118.2 238.7,129.2 234.7,135.2 232.5,141.2 230.5,152.2 229.5,168.2 230.3,185.2 229.5,204.2 229.8,218.2 231.3,231.2 233.8,238.2 242.4,252.1 252.9,271.2 256.6,279.2 224.4,279.2ZM366.2,91.2 412.4,91.2 412.4,279.2 396.3,279.2 397.5,269.2 399.3,259.2 407.2,228.2 408.7,219.2 408.5,215.2 406.3,200.2 405.8,192.2 404.7,185.2 404.8,177.2 403.3,170.2 402.5,163.2 399.9,156.2 398.1,149.2 394.1,141.2 391.3,131.2 389.6,123.2 386.6,114.2 384.4,109 381,103.2 376.8,98.2 371.9,94.2Z"/><path fill="#3838AD" d="M224.4,91.2 281.8,91.2 273.4,96.1 261.4,104.5 251.5,113.2 245.8,119.2 237.5,129.2 233.7,135.2 231.4,141.2 229.4,152.1 228.4,169.2 229.3,185.2 228.4,202.2 228.7,218.2 230,230.2 231.4,235.2 233.2,239.2 241.8,253.2 251.6,271.2 255.2,279.2 224.4,279.2ZM369.5,91.2 412.4,91.2 412.4,279.2 397.6,279.2 398.6,269.2 400.3,259.2 408.5,227.2 409.8,219.2 409.7,215.2 408.2,202.2 405.7,185.2 405.7,177.2 404.3,170.2 403.6,163.2 400.8,155.2 399.2,149.2 395.4,140.6 393.1,132.2 391.3,123.2 388.7,115.2 386.3,109.2 382.9,103.2 378.9,98.2 374.4,94.2Z"/><path fill="#4533AD" d="M224.4,91.2 280.1,91.2 272.4,95.8 260.4,104.3 250.4,113.2 243.9,120.2 236.4,129.2 232.6,135.2 230.4,141.2 228.4,151.2 227.4,168.2 228.4,185.2 227.4,203.2 227.6,219.2 229,230.2 230.3,235.2 232,239.2 241.4,254.6 249.7,270.2 253.8,279.2 224.4,279.2ZM372.4,91.2 412.4,91.2 412.4,279.2 398.8,279.2 399.9,268.2 401.7,258.2 409.6,227.2 411,219.2 411,215.2 409.7,202.2 407,186.2 406.8,177.2 404.7,163.2 400.8,150.2 396,137.2 392.7,122.2 388.6,110.2 385.4,104.2 381.8,99.2 377.4,94.7Z"/><path fill="#5431AF" d="M224.4,91.2 278.4,91.2 266.4,99 257.4,105.8 248.2,114.2 238.4,125.2 233.8,131.2 231,136.2 229,142.2 227.3,151.2 226.4,168.2 227.4,186.2 226.4,202.2 226.4,215.2 226.8,222.2 227.9,230.2 229.2,235.2 230.9,239.2 241.4,256.9 248.4,270.2 252.5,279.2 224.4,279.2ZM375.1,91.2 412.4,91.2 412.4,279.2 400,279.2 401.1,268.2 402.8,258.2 411,226.2 412.2,218.2 411.1,202.2 408.6,187.2 407.8,176.2 405.9,163.2 403.6,154.2 397.1,135.2 394.1,121.2 390.3,110.2 387.3,104.2 383.8,99.2 379.4,94.5Z"/><path fill="#6232B4" d="M224.4,91.2 276.8,91.2 265.4,98.7 256.4,105.6 247.1,114.2 238.1,124.2 233.3,130.2 230,136.2 228,142.2 226.4,150.2 225.4,166.2 226.4,186.2 225.4,202.2 225.3,215.2 225.7,222.2 226.6,229.2 228.1,235.2 230.2,240.2 241.4,259.2 247.6,271.2 251.1,279.2 224.4,279.2ZM377.6,91.2 412.4,91.2 412.4,201.6 410.6,191.2 408.7,170.2 407.3,163.2 405.3,154.2 401.3,143.2 398.6,134.2 394.7,117.2 391.7,109.2 387.9,102.2 383.3,96.2ZM412.4,225.2 412.4,279.2 401.3,279.2 402.5,267.2 404.3,256.2Z"/><path fill="#6E35BA" d="M224.4,91.2 275.2,91.2 261.4,100.6 251.4,109 242.2,118.2 236,125.2 232.4,129.9 228.9,136.2 226.4,144.2 224.9,153.2 224.4,164.8ZM380,91.2 412.4,91.2 412.4,193.8 409.6,167.2 406.8,154.2 403.2,144.2 400.6,135.2 396.1,116.2 393,108.2 389.4,101.6 385.3,96.2ZM224.4,169.2 224.4,168.9 225.4,186.2 224.4,202ZM224.4,220.2 224.4,219.8 225.7,230.2 228.1,238.2 230.6,243.2 241.4,261.7 246.2,271.2 249.6,279.2 224.4,279.2ZM412.3,230.2 412.4,229.9 412.4,279.2 402.6,279.2 403.6,268.2 405.3,257.2 407.4,248.1Z"/><path fill="#7A38C0" d="M224.4,91.2 273.6,91.2 262.4,98.9 253.4,106.1 244.7,114.2 235.6,124.2 231.1,130.2 228.3,135.2 226.1,141.2 224.4,148.9ZM382.4,91.2 412.4,91.2 412.4,181.2 411.5,169.2 408.6,155.2 402.6,136.2 397.4,115 394.3,107.2 391,101.2 387.3,96.2ZM224.4,230.2 224.4,229.3 225.9,235.2 228.3,241.2 240.4,262.2 244.8,271.2 248.2,279.2 224.4,279.2ZM412.4,234.2 412.4,279.2 403.9,279.2 404.8,268.2 406.3,258.2 408.4,248.8Z"/><path fill="#7A38C0" d="M224.4,91.2 272.1,91.2 262.4,97.9 254.4,104.2 245.5,112.2 237.9,120.2 232.4,126.7 228.8,132.2 226.4,137.2 224.4,143.6ZM384.6,91.2 412.4,91.2 412.4,166 409.6,153.2 405.2,139.2 400.6,120.2 398.2,112.2 395.6,106.2 392.3,100.2 388.5,95.2ZM224.4,234.2 227.6,242.2 239.4,263 243.4,271.2 246.8,279.2 224.4,279.2ZM412.2,239.2 412.4,238.4 412.4,279.2 405.2,279.2 406.1,268.2 407.4,259.2 409.3,250.2Z"/></g><circle cx="318.7" cy="185.5" r="91.3" fill="none" stroke="#787878" stroke-width="2.0"/><clipPath id="odtc"><circle cx="120.9" cy="185" r="92.6"/></clipPath><g clip-path="url(#odtc)" fill-rule="evenodd"><rect x="26.30000000000001" y="90.4" width="189.2" height="189.2" fill="#64C111"/><path fill="#64C111" d="M25.3,89.4 216.3,89.4 216.3,280.4 25.3,280.4ZM121.3,139.3 109.3,140.2 95.3,143.9 90.3,145.7 79.3,151.3 74.7,154.4 65.5,162.4 59.7,170.4 57,175.4 54.6,183.4 54,190.4 55.1,198.4 58.7,207.4 62,212.4 69.3,220.2 80.3,227.5 84.3,229.6 91.3,231.4 99.3,234.2 116.3,236.1 125.3,235.4 133.3,235.5 137.3,234.6 143.3,232.4 150.3,231.3 154.3,229.7 159.3,226.4 166.3,223.3 168.9,221.4 172.3,218.1 177.3,214.6 180.1,211.4 182.4,207.4 185.4,203.4 186.9,200.4 189.2,192.4 190,188.4 189.7,181.4 188.9,176.4 187.5,172.4 184.2,165.4 182.3,162.8 175.3,155 172.3,152.8 167.8,150.4 161.3,146 158.3,144.8 152.3,143.4 146.3,141.1 142.3,140.3 136.3,140 129.3,139Z"/><path fill="#54BD12" d="M25.3,89.4 216.3,89.4 216.3,280.4 25.3,280.4ZM143.3,130.3 136.3,131.2 127.3,131.5 108.3,132.8 90.3,136.7 82.3,139.8 73.3,144.4 67.3,148.7 61.3,154.5 56.3,161.5 53.3,167.1 51.3,171.9 48.8,181.4 48.4,189.4 49,194.4 50,199.4 53.6,208.4 55.9,212.4 58.1,215.4 65.1,222.4 69.3,225.3 81.3,232 90.3,234.4 97.3,236.8 115.3,239 125.3,238.6 133.3,239.2 137.3,238.9 144.3,237.3 154.3,237.4 159.3,236.2 168.3,232.8 173,230.4 178.3,226.6 184.3,221.2 188.3,215.4 192.3,206.9 194.6,199.4 195.9,191.4 196,184.4 194.9,176.4 192.3,167.2 189.3,159.3 185.3,151 182.3,146.4 177.3,141.2 170.9,136.4 165.1,133.4 158.3,131.5 149.3,130.2Z"/><path fill="#4ABA14" d="M25.3,89.4 216.3,89.4 216.3,280.4 25.3,280.4ZM134.3,118.4 121.3,119.7 108.3,120.2 103.3,120.8 95.3,122.5 86.3,125.7 75.3,131.3 66.7,137.4 59.3,144.5 56.3,148.2 53.3,152.7 48.3,163 44.7,174.4 43.2,184.4 44.1,194.4 45.3,200 47.4,206.4 49.4,211.4 52.3,216.7 55.3,221 58.3,224.3 62.3,227.7 66.3,230.5 74.3,234.8 79.3,237 96.3,241.5 115.3,243.6 125.3,244.2 141.3,247.8 146.3,248.3 151.3,248.2 156.3,247.4 159.3,246.3 169.3,240.6 180.3,232.1 187.3,225.1 190.3,221.1 195.3,212.3 199.3,201.1 200.6,195.4 201.4,186.4 200.8,178.4 198.8,169.4 195.3,157.9 190.4,147.4 187.5,143.4 181,136.4 173.3,130.5 168.3,127.4 159.3,123.4 149.3,120.1 142.3,118.7Z"/><path fill="#47BA26" d="M25.3,89.4 216.3,89.4 216.3,280.4 25.3,280.4ZM128.3,113.4 107.3,113.9 100.3,115 94.3,116.4 85.3,119.7 77.6,123.4 71,127.4 63.3,133.4 58.3,138.3 52.4,145.4 48.3,152.4 45.4,158.4 42,168.4 40.6,174.4 39.4,183.4 39.8,190.4 41.3,199.4 44.4,209.4 46.4,214.4 51.3,223.3 54.3,227 60.3,232.8 71.3,240.5 76.3,243.1 84.3,246.3 98.3,250.4 107.3,251.6 121.3,251.9 134.3,254.1 146.3,253.8 153.3,252.5 158.3,251 168.2,245.4 181.1,235.4 190.6,225.4 198.3,212.7 203.2,199.4 205.2,187.4 205.1,180.4 203.2,170.4 198.2,155.4 192.3,144.2 182.4,133.4 171.3,125.2 156.7,118.4 148.3,115.5 143.6,114.4 135.3,113.3Z"/><path fill="#49BF54" d="M25.3,89.4 216.3,89.4 216.3,280.4 25.3,280.4ZM104.3,110.3 95.3,112 88,114.4 80.6,117.4 71.3,122.6 67.3,125.4 59,132.4 52.3,139.9 48.9,144.4 43.3,155.1 41.3,160.4 38.3,170.4 36.5,182.4 36.4,187.4 38,198.4 42.3,212.5 49.3,226.2 59.3,236.9 71.3,245.7 82.3,251.2 91.2,254.4 96.3,256 107.3,257.7 119.3,257.5 134.3,258.5 147.3,256.9 159.3,253.5 171.3,246.1 183,236.4 192.4,226.4 200.3,213.4 205.7,199.4 207.9,189.4 208.5,184.4 208.2,179.4 206.3,170.4 201.6,156.4 194.3,142.9 184.7,132.4 172.9,123.4 161.2,117.4 147.3,112.2 135.3,110 110.3,109.8Z"/><path fill="#4DC894" d="M25.3,89.4 216.3,89.4 216.3,280.4 25.3,280.4ZM104.3,107.3 95.3,108.9 87.2,111.4 79.3,114.6 70.8,119.4 65.1,123.4 57.1,130.4 50.8,137.4 46.4,143.4 41.7,152.4 38.9,159.4 35.7,170.4 34.2,180.4 34,187.4 35.2,196.4 36.5,202.4 39.7,212.4 42.3,218.5 47.1,227.4 50.3,231.5 56.8,238.4 62.7,243.4 69.3,248.2 78.9,253.4 85.3,256.1 96.3,259.6 104.3,260.9 110.3,261.4 136.3,261.1 147.3,259.4 157.3,256.4 162.3,254.1 171.2,248.4 183.3,238.4 193.5,227.4 201.3,215 207.3,200.4 210.2,190.4 211.1,185.4 211.1,181.4 210.3,176.4 206.3,162.7 202.3,152.9 197.5,144.4 194.6,140.4 184.3,129.7 176.2,123.4 171.3,120.3 161.8,115.4 154.5,112.4 147.3,109.9 140.7,108.4 134.6,107.4 129.3,107.1 111.3,106.8Z"/><path fill="#57CEB6" d="M25.3,89.4 216.3,89.4 216.3,280.4 25.3,280.4ZM108.3,104.3 99.6,105.4 91.3,107.3 82.3,110.4 75.3,113.7 67.6,118.4 60.3,124 53.6,130.4 47.7,137.4 43,144.4 39.1,152.4 35.7,161.4 33.3,170.8 32,179.4 31.7,186.4 32.4,193.4 34.2,202.4 36.9,211.4 40.2,219.4 43.9,226.4 48.1,232.4 54.3,239.3 60.3,244.8 67.3,250.1 75.3,254.8 83.2,258.4 91.3,261.2 98.3,262.9 106.3,264 114.3,264.3 132.3,263.9 139.3,263.1 147.3,261.5 154.3,259.4 160.3,257 165.1,254.4 171.3,250.3 184.4,239.4 195.2,227.4 203.3,214.2 207.5,204.4 211.4,193.4 212.9,188.4 213.5,184.4 213.3,179.8 212.3,174.7 209.3,164.7 206.5,157.4 203.1,150.4 198.2,142.4 194.3,137.5 187.3,130.2 182.3,125.9 175.3,120.7 169.3,117.2 160.3,112.8 151.3,109.1 144.3,107 136.3,105.4 130.3,104.8 117.3,104.3Z"/><path fill="#5CC9CF" d="M25.3,89.4 216.3,89.4 216.3,280.4 25.3,280.4ZM104.3,102.3 95.3,103.8 86.3,106.3 78.3,109.4 71.3,113 64.3,117.7 57.3,123.4 50.3,130.5 44.8,137.4 39.9,145.4 35.8,154.4 32.8,163.4 30.4,174.4 29.6,181.4 29.7,189.4 30.7,196.4 32.8,205.4 35.4,213.4 39.3,222.4 43.3,229.3 47.7,235.4 54.2,242.4 60.3,247.8 67.9,253.4 75.3,257.6 82.3,260.8 90.3,263.5 98.3,265.5 106.3,266.6 116.3,266.9 130.3,266.3 138.3,265.3 147.3,263.4 154.3,261.2 160.3,258.8 165.3,256.1 171.3,252.1 177.3,247.4 185.3,240.3 191.3,234 196,228.4 201.4,220.4 205.2,213.4 208.8,205.4 214.1,191.4 215.2,187.4 215.7,183.4 215.3,178.4 214.2,173.4 211.4,164.4 208.6,157.4 204.6,149.4 200.1,142.4 195.3,136.3 188.6,129.4 182.3,124 175.3,118.9 167.4,114.4 159.2,110.4 150.3,106.9 142.3,104.6 134.3,103.1 125.3,102.2 113.3,101.8Z"/><path fill="#5CBBDD" d="M25.3,89.4 216.3,89.4 216.3,173.1 213.5,164.4 211.1,158.4 206.6,149.4 202.8,143.4 197.3,136.3 192.8,131.4 185.2,124.4 177.3,118.5 170.3,114.2 160.3,109.1 152.3,105.8 144.3,103.3 136.3,101.5 127.3,100.3 117.3,99.7 108.3,99.7 100.3,100.6 93.3,101.9 84.4,104.4 77.3,107.2 71.3,110.2 65.3,114.1 58.3,119.4 52.3,125 47.3,130.4 43.3,135.6 38.4,143.4 35.4,149.4 32,158.4 30.2,164.4 28,175.4 27.4,183.4 27.6,190.4 28.5,196.4 30.8,206.4 33.2,213.4 36.5,221.4 39.7,227.4 45,235.4 50.3,241.5 56.3,247.4 62.4,252.4 69.9,257.4 77.3,261.3 85.3,264.5 94.3,267.1 102.3,268.5 110.3,269.2 119.3,269.2 129.3,268.5 137.3,267.5 145.3,265.7 153.3,263.3 160.3,260.5 165.9,257.4 172.3,253.1 180.3,246.6 187,240.4 193.5,233.4 198.9,226.4 203.5,219.4 208.2,210.4 216.3,190.7 216.3,280.4 25.3,280.4Z"/><path fill="#58A6DF" d="M25.3,89.4 216.3,89.4 216.3,166.2 213.2,158.4 208,148.4 204.8,143.4 198.5,135.4 193.8,130.4 186.2,123.4 181.1,119.4 174.3,114.8 166.4,110.4 157.3,106.1 149.3,103 142.3,100.9 133.3,99.1 124.3,98 114.3,97.4 106.3,97.7 98.3,98.6 91.3,100.1 83.3,102.3 76.3,105.1 70.3,108.1 65,111.4 57.3,117.2 51.6,122.4 46,128.4 42.3,133 37.4,140.4 34.2,146.4 30.6,155.4 28.6,161.4 26.2,172.4 25.3,179.4ZM25.3,189.4 25.3,188.7 26.3,196.4 28.8,207.4 30.8,213.4 35.1,223.4 38.3,229.2 43.8,237.4 53.3,247.7 58.7,252.4 66.3,257.9 72.3,261.5 79.3,264.7 86.3,267.3 95.3,269.6 103.3,270.9 111.3,271.5 119.3,271.4 128.3,270.7 136.3,269.6 144.3,267.8 152.3,265.3 159.3,262.5 165.3,259.4 171.3,255.5 179,249.4 185.3,243.8 192.3,236.6 197.3,230.6 203.1,222.4 208.2,213.4 216.3,195.7 216.3,280.4 25.3,280.4Z"/><path fill="#4E8AD5" d="M25.3,89.4 216.3,89.4 216.3,160.5 213.4,154.4 208.8,146.4 205.3,141.4 198.8,133.4 186,121.4 174.3,113.1 158.3,104.8 144.3,99.7 136.3,97.8 127.3,96.3 118.3,95.5 110.3,95.4 96.3,96.7 87.3,98.8 80.3,100.9 74.3,103.4 68.3,106.5 63.3,109.7 55.7,115.4 50.2,120.4 43.7,127.4 39.8,132.4 35.9,138.4 32.6,144.4 30,150.4 27.1,158.4 25.3,165.1ZM216,200.4 216.3,199.8 216.3,280.4 25.3,280.4 25.3,202.6 27.1,209.4 29.6,216.4 33.1,224.4 36.3,230.1 41.1,237.4 45.1,242.4 51.8,249.4 57.3,254.2 64.3,259.4 69.3,262.5 76.3,266 83.3,268.7 92.3,271.2 99.3,272.6 107.3,273.5 115.3,273.7 130.3,272.5 138.3,271 145.3,269.3 153.3,266.6 159.3,264.1 165.3,261 171.3,257.1 184.3,246.4 191.4,239.4 196.3,233.8 202.6,225.4 205.8,220.4 211.4,210.4Z"/><path fill="#4670CA" d="M25.3,89.4 216.3,89.4 216.3,155.9 212.7,149.4 208.9,143.4 199,131.4 186.3,119.7 174.3,111.4 158.3,103.1 144.3,97.9 128.3,94.5 120.3,93.6 112.3,93.2 97.3,94.3 82.3,97.8 76.3,99.9 70.3,102.6 60.3,108.8 54.3,113.4 49.3,117.8 43.3,124.1 38.9,129.4 34.8,135.4 30.9,142.4 28.1,148.4 25.3,156ZM216,204.4 216.3,203.7 216.3,280.4 25.3,280.4 25.3,211.3 28.4,219.4 31.6,226.4 35.1,232.4 39.8,239.4 44.3,244.9 50.5,251.4 55.3,255.6 61.7,260.4 67.3,264 72.3,266.7 79.3,269.8 85.3,271.8 93.3,273.8 100.3,275 109.3,275.8 116.3,275.8 130.3,274.4 145.3,271 159.3,265.7 165.3,262.6 171.3,258.7 184.3,248.1 196.3,235.6 206.1,222.4 212.5,211.4Z"/><path fill="#4058BE" d="M25.3,89.4 216.3,89.4 216.3,151.9 209.5,141.4 199.2,129.4 187,118.4 173.8,109.4 158.3,101.4 144.3,96.1 128.3,92.5 113.3,91.1 98.3,91.9 84.3,94.7 78.3,96.6 72.3,99 66.3,102 61.3,105 55.2,109.4 49.3,114.4 39.3,124.9 35.1,130.4 31.3,136.4 28.1,142.4 25.3,148.7ZM215.8,208.4 216.3,207.4 216.3,280.4 25.3,280.4 25.3,218.2 28.5,225.4 31.7,231.4 36.2,238.4 40.3,243.8 45.3,249.5 51.3,255.3 57.3,260.2 63.3,264.4 69.3,267.9 75.3,270.7 81.3,272.9 88.3,274.9 95.3,276.5 101.3,277.3 110.3,278 117.3,277.9 130.3,276.4 145.3,272.7 159.3,267.3 165.3,264.1 171.3,260.3 184.7,249.4 196.4,237.4 207,223.4Z"/><path fill="#4045B4" d="M25.3,89.4 100.6,89.4 89.3,91.1 77.2,94.4 67.3,98.6 57.3,104.7 47.3,112.7 38.3,122 31.3,131.4 25.3,142.2ZM119.8,89.4 216.3,89.4 216.3,148.2 209.4,138.4 199.4,127.4 187.3,116.8 175.3,108.5 160.3,100.5 147.3,95.3 132.3,91.3ZM216,211.4 216.3,210.8 216.3,280.4 25.3,280.4 25.3,224.3 28.4,230.4 32.6,237.4 36.9,243.4 41,248.4 46.3,254 51.3,258.5 57.3,263.2 63.3,267.2 69.3,270.6 75.6,273.4 82.3,275.7 89.3,277.6 102.3,279.7 110.3,280.1 117.3,280 130.3,278.3 145.3,274.5 159.3,269 171.3,261.9 185.3,250.5 196.3,239.3 207.2,225.4Z"/><path fill="#4637AC" d="M25.3,89.4 85.9,89.4 76.3,92.1 67.3,95.8 59.3,100.2 51.3,105.8 43.7,112.4 36.3,120.2 30.3,128.1 25.3,136.3ZM132.5,89.4 216.3,89.4 216.3,144.7 209.3,135.6 200.7,126.4 189.3,116.4 179.3,109.3 171.3,104.5 156.3,97 145.3,92.8ZM216,214.4 216.3,213.8 216.3,280.4 129.7,280.4 143.3,276.9 156.3,272 164.3,267.9 174.3,261.4 186.3,251.2 197.3,240 208.1,226.4ZM25.3,230.4 25.3,229.9 32.3,241.3 38.3,249.1 46.3,257.4 54.3,264.1 62.3,269.5 71.3,274.2 80.3,277.6 91.2,280.4 25.3,280.4Z"/><path fill="#4A30A8" d="M25.3,89.4 76.4,89.4 68.5,92.4 61.3,96 54.3,100.3 47.5,105.4 41.3,110.9 35.1,117.4 30.3,123.4 25.3,130.8ZM140.3,89.4 216.3,89.4 216.3,141.5 209.7,133.4 202.3,125.6 191.8,116.4 183.3,110.1 174.3,104.3 161.3,97.4 150.3,92.7ZM215.9,217.4 216.3,216.7 216.3,280.4 137.8,280.4 148.3,277 159.3,272.3 167.3,267.8 176.3,261.5 188,251.4 198.3,240.8 209.1,227.4ZM25.3,235.4 31.3,244.4 36.9,251.4 43.3,258.1 50.3,264.2 57.4,269.4 65.3,274.1 73.3,277.7 81.2,280.4 25.3,280.4Z"/><path fill="#4A30A8" d="M25.3,89.4 68.9,89.4 63.3,91.9 56.9,95.4 50.8,99.4 45.3,103.6 39.9,108.4 34.3,114.1 29.8,119.4 25.3,125.5ZM146.6,89.4 216.3,89.4 216.3,138.4 210.3,131.4 203.5,124.4 194.3,116.3 186.3,110.2 177.3,104.2 165.3,97.5 156.3,93.2ZM215.7,220.4 216.3,219.5 216.3,280.4 144,280.4 153.3,276.7 162.3,272.4 171.3,266.9 178.3,261.6 188.8,252.4 198.6,242.4 209.3,229.4ZM25.3,240.4 30.3,247.4 35.3,253.5 41.3,259.8 47.3,265.2 53.3,269.7 60.3,274.2 66.3,277.4 73.4,280.4 25.3,280.4Z"/><path fill="#4A30A8" d="M25.3,89.4 62.3,89.4 52.3,95 42.3,102.4 33.3,110.9 25.3,120.5ZM151.9,89.4 216.3,89.4 216.3,135.5 210,128.4 203.9,122.4 194.6,114.4 187.3,108.9 178.3,102.9 169.3,97.7 160.3,93.1ZM216.2,222.4 216.3,222.2 216.3,280.4 149,280.4 158.3,276.2 165.3,272.5 173.3,267.2 180.7,261.4 189.7,253.4 199.4,243.4 210.3,230.4ZM25.3,245.4 25.3,245.1 34.3,256.4 44.3,266.1 55.3,274.2 66.7,280.4 25.3,280.4Z"/><ellipse cx="122.0" cy="187.5" rx="68.0" ry="48.0" fill="#84C910" transform="rotate(-4.0 122.0 187.5)"/><ellipse cx="122.1" cy="188.1" rx="64.2" ry="45.5" fill="#A8D212" transform="rotate(-5.5 122.1 188.1)"/><ellipse cx="122.2" cy="188.8" rx="60.5" ry="43.0" fill="#C6DC18" transform="rotate(-7.0 122.2 188.8)"/><ellipse cx="122.4" cy="189.4" rx="56.8" ry="40.5" fill="#DEE11C" transform="rotate(-8.5 122.4 189.4)"/><ellipse cx="122.5" cy="190.0" rx="53.0" ry="38.0" fill="#F0E322" transform="rotate(-10.0 122.5 190.0)"/><ellipse cx="119.2" cy="190.8" rx="47.5" ry="32.0" fill="#F9DE20" transform="rotate(-11.0 119.2 190.8)"/><ellipse cx="116.0" cy="191.5" rx="42.0" ry="26.0" fill="#FCD218" transform="rotate(-12.0 116.0 191.5)"/><ellipse cx="114.5" cy="192.4" rx="38.0" ry="23.8" fill="#FCC412" transform="rotate(-6.0 114.5 192.4)"/><ellipse cx="113.0" cy="193.3" rx="34.0" ry="21.5" fill="#FCB40E"/><ellipse cx="111.8" cy="193.9" rx="30.5" ry="19.2" fill="#FAA60E" transform="rotate(4.0 111.8 193.9)"/><ellipse cx="110.5" cy="194.5" rx="27.0" ry="17.0" fill="#F89C14" transform="rotate(8.0 110.5 194.5)"/><ellipse cx="108" cy="196.5" rx="6" ry="4.8" fill="#F7765A" transform="rotate(0 108 196.5)"/></g><circle cx="120.9" cy="185" r="92.6" fill="none" stroke="#787878" stroke-width="2"/><clipPath id="ostc"><circle cx="546" cy="185" r="92.3"/></clipPath><g clip-path="url(#ostc)" fill-rule="evenodd"><rect x="451.7" y="90.7" width="188.6" height="188.6" fill="#64C111"/><path fill="#64C111" d="M450.7,89.7 640.7,89.7 640.7,279.7 450.7,279.7ZM547.7,135.6 538.7,137.5 532.7,138.3 527.7,139.9 512.7,147.9 501.4,157.7 493.1,168.7 490.3,174.7 487.9,182.7 487.1,186.7 487,196.7 487.3,200.7 490.8,212.7 493.9,218.7 501.3,228.7 510.5,236.7 513.7,239 526.7,246 531.7,247.9 538.7,248.9 547.7,250.9 556.7,250.8 562.7,251.3 566.7,251 582.7,246.3 594.1,241.7 599.2,238.7 604.7,234.7 611.7,227.9 616.9,221.7 623.8,207.7 625.9,193.7 625.5,187.7 623.1,176.7 621.1,171.7 618.7,167.4 614.2,160.7 611.8,157.7 599.7,147.3 591.7,143.5 585.7,139.9 581.7,138.4 574.7,137.6 564.7,135.4Z"/><path fill="#54BD12" d="M450.7,89.7 640.7,89.7 640.7,279.7 450.7,279.7ZM544.7,132.6 527.7,135.5 511.7,142.5 508.1,144.7 497,152.7 484.6,162.7 482.5,164.7 480.2,167.7 477.7,173.7 476.7,178.4 476.3,182.7 477.2,190.7 480.7,204.7 484.3,213.7 487,218.7 491.4,224.7 496.5,230.7 500.7,234.3 509.3,240.7 524.7,248.9 530.7,251 547.7,254 556.7,253.6 562.7,253.8 567.7,253.2 588.7,246.1 597.7,241.9 602.7,238.7 607.8,234.7 612.7,229.9 617.2,224.7 619.7,220.7 624.9,209.7 625.9,206.7 628.1,191.7 626.4,178.7 625.1,173.7 623.1,168.7 616.7,157.2 611.7,151.5 604.7,145.1 600.7,142.3 593.7,139.1 586.7,135.3 582.7,134.2 575.4,133.7 564.7,131.9 556.7,132.3 548.7,132.1Z"/><path fill="#4ABA14" d="M450.7,89.7 640.7,89.7 640.7,279.7 450.7,279.7ZM572.7,121.6 560.1,124.7 555.7,125.4 536.7,125.8 522.7,124.3 517.7,124.9 511.7,126.7 506.7,129.2 501.7,132.4 480.7,149.6 473.7,156.7 471.6,159.7 469.7,164 467.6,170.7 466.2,177.7 465.7,182.7 466,187.7 467.7,194.7 470.7,203 474.5,211.7 478.7,219.2 481.8,223.7 486.9,229.7 490.9,233.7 495.8,237.7 508.7,245.7 525.6,253.7 531.7,255.3 545.7,257.4 563.7,256.4 570.7,254.9 594.4,245.7 599.7,242.9 605.7,238.8 610.7,234.7 615.6,229.7 620.8,222.7 627.3,208.7 630.2,191.7 628.8,177.7 627.4,171.7 624.7,164.1 621.7,157.1 617.7,150.2 613.7,144.6 606.7,136.7 601.7,132.4 594,126.7 588.5,123.7 582.7,121.7 577.7,121.1Z"/><path fill="#47BA26" d="M450.7,89.7 640.7,89.7 640.7,279.7 450.7,279.7ZM542.7,107.7 531.7,109 518.7,112.8 507,118.7 495.7,127.4 476.7,146 470.7,152.8 467.9,156.7 465.8,161.7 462.9,170.7 461.2,179.7 460.6,184.7 461.3,189.7 463.4,198.7 469.3,213.7 476.6,225.7 482.7,232.8 486.7,236.7 497.4,244.7 508.7,250.7 519.7,255.9 524.9,257.7 532.7,259.6 546.7,260.9 560.7,259.5 571.7,256.9 581,252.7 597.7,246.1 603.7,242.4 610.7,237.2 617.3,230.7 622,224.7 623.7,221.7 626.3,214.7 629.6,207.7 630.6,199.7 632.1,193.7 632.3,189.7 631.4,178.7 630.5,172.7 625.7,156.7 618.7,143 610.7,132.7 607.7,129.7 598.7,121.7 588.7,115.5 585.2,113.7 574.7,109.8 569.7,108.7 559.7,107.3Z"/><path fill="#49BF54" d="M450.7,89.7 640.7,89.7 640.7,279.7 450.7,279.7ZM539.7,102.6 531.7,103.7 521.6,106.7 516.7,108.6 508.7,112.7 504.7,115.1 494.8,122.7 484.5,132.7 473.7,144 467.7,151.5 464.8,155.7 459.7,170.1 457.7,180.3 457.2,185.7 457.9,190.7 459.9,199.7 465.6,214.7 472.7,226.7 483.4,238.7 495.1,247.7 506.4,253.7 518.7,259.3 531.7,262.7 546.7,263.9 559.7,262.3 572.7,258.6 581.7,254.3 599.7,246.9 606.4,242.7 614.2,236.7 619.2,231.7 624.6,224.7 626.6,220.7 628.5,214.7 631.4,209.7 632.4,205.7 632.7,200.1 634.4,193.7 634.6,188.7 633.9,177.7 632.8,170.7 629.7,159.3 627.8,153.7 620.7,140.1 612.7,129.7 602.7,120.4 600.6,118.7 588.7,111.2 574.7,105.4 559.7,102.3 546.7,102Z"/><path fill="#4DC894" d="M450.7,89.7 640.7,89.7 640.7,279.7 450.7,279.7ZM543.7,98.6 535.7,99.6 529.7,100.7 521.7,103.1 515.2,105.7 507.7,109.6 502.8,112.7 494.7,119 489.5,123.7 481.7,131.4 472.7,141.1 466.7,148.5 463.3,153.7 459.7,161.7 457.2,169.7 455.2,178.7 454.7,185.7 455.2,191.7 457,199.7 459.5,207.7 462.8,215.7 466.6,222.7 470.7,228.9 475.7,234.8 481.7,241 489.7,247.5 494.7,250.9 505.7,256.7 515.7,261.1 520.7,262.8 530.7,265.1 545.7,266.2 559.7,264.4 572.7,260.5 583.7,255.2 600.7,248.1 608,243.7 616.1,237.7 621.4,232.7 625.8,227.7 628.2,223.7 632.7,214 634.7,208.7 636.2,201.7 637.1,194.7 637.3,189.7 636.7,178.7 635.7,171.7 633.5,162.7 630.7,154.3 626.7,145.7 622.7,138.7 616.7,130.7 611.7,125.1 603.4,117.7 597.7,113.7 588.7,108.3 578.3,103.7 571.7,101.6 560.7,99.3 551.7,98.6Z"/><path fill="#57CEB6" d="M450.7,89.7 640.7,89.7 640.7,279.7 450.7,279.7ZM542.7,95.7 534.7,96.7 526,98.7 518.7,101.2 510.7,104.8 503.7,108.9 497.1,113.7 490.1,119.7 481.7,127.8 472.7,137.4 466.6,144.7 462.7,150.3 459.3,156.7 456.5,163.7 453.3,174.7 452.3,180.7 452.2,187.7 452.9,194.7 455.7,205.3 458,211.7 461.8,219.7 465.3,225.7 470.7,233.1 475.7,238.7 481.7,244.4 488.3,249.7 494.7,253.9 503.6,258.7 512.9,262.7 519.7,265 528.7,267 535.7,267.9 544.7,268.3 551.7,267.7 559.7,266.4 565.7,264.8 572.7,262.3 584.7,256.4 597.7,251.2 602.7,248.8 611.1,243.7 619.3,237.7 625.1,232.7 627.7,229.8 631,224.7 635.4,216.7 637.8,209.7 639.6,202.7 640.3,190.7 639.6,179.7 638.2,170.7 635.6,160.7 631.8,150.7 628.4,143.7 622.7,134.6 618.9,129.7 611.7,121.8 605.8,116.7 597.7,110.8 587.7,105.2 579.7,101.6 570.7,98.6 560.7,96.5 551.7,95.6Z"/><path fill="#5CC9CF" d="M450.7,89.7 640.7,89.7 640.7,169.3 639,162.7 637,156.7 633.2,147.7 630,141.7 624.9,133.7 621.7,129.4 613.9,120.7 608.7,116.1 597.7,108.1 586.7,102 579.7,99 571.7,96.2 564.7,94.6 553.7,92.9 544.7,92.7 538.7,93.2 532.7,94.2 524.7,96.2 518.7,98.3 511.1,101.7 505.7,104.7 498.7,109.4 492.7,114.2 483.4,122.7 474.6,131.7 469.7,137.3 463.1,145.7 460,150.7 455.5,159.7 453.6,164.7 450.7,174.8ZM450.7,197.7 450.7,197.3 452.9,205.7 455,211.7 461.5,224.7 470.5,236.7 481.7,247.6 487.7,252.2 494.5,256.7 500.7,260 507.7,263.2 514.7,265.8 521.7,267.8 528.7,269.2 535.7,270 542.7,270.2 549.7,269.9 557.7,268.7 563.7,267.2 573.7,263.6 585.7,257.6 599.7,252 606.2,248.7 618.8,240.7 625.4,235.7 628.7,232.7 632.6,227.7 636.7,221.1 638.9,216.7 640.7,211.5 640.7,279.7 450.7,279.7Z"/><path fill="#5CBBDD" d="M450.7,89.7 640.7,89.7 640.7,159 637.4,150.7 634,143.7 625,129.7 614.2,117.7 602.9,108.7 597.7,105.4 586.7,99.3 572.7,93.8 566.7,92.2 556.7,90.4 550.7,89.9 544.7,89.9 533.7,91.1 525.7,93.1 519.7,95 506.7,101.2 494.7,109.5 479.7,123.1 470.5,132.7 463.2,141.7 459.7,146.7 455.3,154.7 452.9,159.7 450.7,165.6ZM450.7,208.7 450.7,207.9 453.3,214.7 457.3,222.7 463.2,231.7 470.8,240.7 478.7,248.2 483.7,252.2 495.7,260.2 502.7,263.7 508.7,266.1 522.7,270.2 536.7,272 543.7,272.1 550.7,271.6 557.7,270.5 564.7,268.6 573.7,265.2 586.9,258.7 605.8,250.7 617.9,243.7 629,235.7 632,232.7 635.3,228.7 640.7,220 640.7,279.7 450.7,279.7Z"/><path fill="#58A6DF" d="M450.7,89.7 527.4,89.7 518.7,92.5 507.7,97.6 499.7,102.7 490.7,109.7 478.8,120.7 466.5,133.7 458.2,144.7 450.7,158.5ZM567.7,89.7 640.7,89.7 640.7,151.6 635.9,141.7 628.1,129.7 620.5,120.7 613.3,113.7 602.7,105.6 589,97.7 577.7,92.8ZM450.7,216.7 450.7,215.7 453.6,221.7 457.1,227.7 461.4,233.7 466.3,239.7 477.9,250.7 488.7,258.7 498.7,264.4 510.7,269.2 523.7,272.4 536.7,273.9 543.7,273.9 550.7,273.4 556.7,272.4 563.7,270.7 572.7,267.3 588.7,259.5 605.2,252.7 616.7,246.7 628.7,239 634.5,233.7 640.7,225.8 640.7,279.7 450.7,279.7Z"/><path fill="#4E8AD5" d="M450.7,89.7 518.2,89.7 507.7,94.6 499.7,99.5 490.7,106.4 479.7,116.4 468.6,127.7 461.8,135.7 455.9,143.7 450.7,152.7ZM577.1,89.7 640.7,89.7 640.7,145 635.4,135.7 629.1,126.7 622.1,118.7 615.7,112.4 606.7,105.3 598.7,100.2 587.7,94.2ZM450.7,222.7 450.7,222.2 453.8,227.7 458,233.7 466.6,243.7 477.7,253.8 489.7,262.2 500.3,267.7 510.7,271.5 522.7,274.3 536.7,275.8 546.7,275.5 555.7,274.3 564.7,272 572.7,269 589.6,260.7 609,252.7 620.7,246.7 627.3,242.7 632.7,238.7 637,234.7 640.7,230.5 640.7,279.7 450.7,279.7Z"/><path fill="#4670CA" d="M450.7,89.7 511.2,89.7 502.7,94.4 494.7,99.9 487.7,105.6 477.7,114.8 467.7,124.9 461.7,131.7 455.6,139.7 450.7,147.3ZM584.5,89.7 640.7,89.7 640.7,139.1 635.3,130.7 630.1,123.7 623.9,116.7 617.7,110.7 610.3,104.7 602.7,99.5 592.7,93.7ZM450.7,228.7 450.7,228 454.7,233.9 459.7,240.2 467.9,248.7 477.7,257 489.7,265.1 499.7,270 510.7,273.8 522.7,276.4 535.7,277.6 543.7,277.5 554.7,276.3 562.7,274.3 570.7,271.5 589.7,262.2 609.7,254.2 621.2,248.7 632.6,241.7 636.7,238.4 640.7,234.5 640.7,279.7 450.7,279.7Z"/><path fill="#4058BE" d="M450.7,89.7 505.1,89.7 497.7,94.3 490.7,99.6 475,113.7 460.8,128.7 455.2,135.7 450.7,142.2ZM591.1,89.7 640.7,89.7 640.7,133.6 636,126.7 631.2,120.7 625.7,114.6 619.5,108.7 613.5,103.7 606.7,98.8 598.7,93.9ZM450.7,233.7 450.7,233.2 454.8,238.7 460,244.7 469.5,253.7 479.7,261.6 490.7,268.4 500.7,273 511.7,276.3 522.7,278.5 535.7,279.5 543.7,279.3 553.7,278.2 560.7,276.6 568.7,274 575.7,270.9 590.7,263.4 610.6,255.7 621.6,250.7 632.3,244.7 640.7,238.1 640.7,279.7 450.7,279.7Z"/><path fill="#4045B4" d="M450.7,89.7 499.5,89.7 487.7,98.4 472.7,112.1 459.8,125.7 450.7,137.3ZM597.2,89.7 640.7,89.7 640.7,128.3 631.7,116.9 621.7,106.9 610.7,98.1ZM450.7,238.7 450.7,238.2 458,246.7 466.5,254.7 474.7,261.3 482.7,266.7 490.7,271.2 498.7,274.7 506.7,277.4 516.8,279.7 450.7,279.7ZM640.3,241.7 640.7,241.4 640.7,279.7 555.2,279.7 562.7,277.8 569.7,275.4 591.7,264.6 610.7,257.5 619.7,253.8 631.6,247.7Z"/><path fill="#4637AC" d="M450.7,89.7 494.3,89.7 483.7,98 470.7,110.1 459.6,121.7 450.7,132.5ZM603.2,89.7 640.7,89.7 640.7,123.1 632.7,113.6 623.7,104.7 613.7,96.7ZM450.7,243.7 450.7,242.8 457.7,250.4 465.7,257.7 472.1,262.7 478.7,267.3 485.7,271.4 492.3,274.7 499.7,277.6 506.5,279.7 450.7,279.7ZM640.3,244.7 640.7,244.4 640.7,279.7 562.3,279.7 572.7,275.9 592.7,265.9 612.7,258.7 622.7,254.6 632.6,249.7Z"/><path fill="#4A30A8" d="M450.7,89.7 489.2,89.7 479.7,97.6 468.7,107.9 458.7,118.3 450.7,127.7ZM608.9,89.7 640.7,89.7 640.7,118.1 633.7,110.1 626,102.7 617.7,95.9ZM450.7,247.7 450.7,247.3 455.9,252.7 462.5,258.7 473.7,267.2 485.7,274.3 498.3,279.7 450.7,279.7ZM640.2,247.7 640.7,247.4 640.7,279.7 567.8,279.7 575.7,276.3 593.7,267.3 615.4,259.7 625.4,255.7 633.6,251.7Z"/><path fill="#4A30A8" d="M450.7,89.7 484.2,89.7 475.7,97 466.6,105.7 457.9,114.7 450.7,122.9ZM614.6,89.7 640.7,89.7 640.7,113.1 634.8,106.7 628.5,100.7 621.7,95ZM639.9,250.7 640.7,250.2 640.7,279.7 572.4,279.7 593.7,269.3 623.7,258.6 632.6,254.7ZM450.7,252.7 450.7,251.7 460.7,261 471.7,269.2 481.7,275.2 491.2,279.7 450.7,279.7Z"/><path fill="#4A30A8" d="M450.7,89.7 479.2,89.7 464.1,103.7 450.7,118ZM620.2,89.7 640.7,89.7 640.7,108.1 630.7,98.3ZM639.4,253.7 640.7,253 640.7,279.7 576.6,279.7 594.7,270.9 624.2,260.7 632.7,257.1ZM450.7,256.7 450.7,256 459.4,263.7 468.7,270.6 476.7,275.5 484.8,279.7 450.7,279.7Z"/><ellipse cx="556.5" cy="193.2" rx="69.5" ry="57.6" fill="#84C910"/><ellipse cx="556.6" cy="193.2" rx="66.1" ry="55.7" fill="#A8D212"/><ellipse cx="556.8" cy="193.2" rx="62.8" ry="53.8" fill="#C6DC18"/><ellipse cx="556.9" cy="193.2" rx="59.4" ry="51.9" fill="#DEE11C"/><ellipse cx="557.0" cy="193.2" rx="56.0" ry="50.0" fill="#F0E322"/><ellipse cx="556.4" cy="195.9" rx="46.2" ry="42.8" fill="#F9DE20"/><ellipse cx="555.7" cy="198.6" rx="36.5" ry="35.5" fill="#FCD218"/><ellipse cx="556.3" cy="198.8" rx="33.9" ry="32.8" fill="#FCC412"/><ellipse cx="556.9" cy="198.9" rx="31.2" ry="30.0" fill="#FCB40E"/><ellipse cx="557.4" cy="199.1" rx="28.6" ry="27.2" fill="#FAA60E"/><ellipse cx="558.0" cy="199.3" rx="26.0" ry="24.5" fill="#F89C14"/><ellipse cx="558" cy="201" rx="13.5" ry="15.5" fill="#F7765A" transform="rotate(-20 558 201)"/></g><circle cx="546" cy="185" r="92.3" fill="none" stroke="#787878" stroke-width="2"/><clipPath id="osec"><circle cx="742.9" cy="185.5" r="92.1"/></clipPath><g clip-path="url(#osec)" fill-rule="evenodd"><rect x="648.8" y="91.4" width="188.2" height="188.2" fill="#9A9A9A"/><path fill="#AEAEAE" d="M647.8,90.4 837.8,90.4 837.8,280.4 818.4,280.4 805.8,266.9 802.8,264.7 799.8,263.8 795.8,264.5 789.8,267.3 781.8,269.7 773.8,273.1 758.8,276.8 750.8,277.8 736.4,280.4 647.8,280.4Z"/><path fill="#D2D2D2" d="M647.8,90.4 837.8,90.4 837.8,280.4 820.8,280.4 805.8,264.5 802.8,262.3 799.8,261.6 794.8,262.4 788.8,264.8 783.8,266 773.8,269.8 766.8,271.8 755.8,274.1 733.8,277.4 725.1,280.4 647.8,280.4Z"/><path fill="#FEFBFE" d="M647.8,90.4 837.8,90.4 837.8,280.4 823,280.4 805.8,262.4 802.8,260.4 799.8,259.8 785.8,262.4 776.8,266 764.8,269.9 750.8,272.5 742.8,273.2 729.8,274.9 722.8,277.3 717.7,280.4 647.8,280.4Z"/><path fill="#F5BAED" d="M647.8,90.4 837.8,90.4 837.8,280.4 825.3,280.4 807.7,262.4 803.8,259.3 800.8,258.3 785.8,260.1 768.8,266.8 762.8,268.4 749.8,270.7 728.8,271.9 725.8,272.4 721.8,273.7 718.8,275.2 712.3,280.4 647.8,280.4Z"/><path fill="#DE57D4" d="M647.8,90.4 837.8,90.4 837.8,280.4 827.4,280.4 807.8,260.9 803.8,258 800.8,257.1 785.8,258.3 766.8,265.7 751.8,268.8 736.8,269.7 726.8,269.6 721.6,270.4 718.6,271.4 715.2,273.4 710.8,277.2 707.8,280.4 647.8,280.4Z"/><path fill="#D038C5" d="M647.8,90.4 837.8,90.4 837.8,280.4 829.6,280.4 808.8,260.4 803.8,256.8 800.8,256.1 789.8,256.4 785.8,256.9 766.8,264.3 751.8,267.3 737.8,268.1 723.8,267.6 717.8,268.3 713.8,270.2 709.9,273.4 706.8,276.6 704,280.4 647.8,280.4Z"/><path fill="#C52EB9" d="M647.8,90.4 837.8,90.4 837.8,280.4 831.8,280.4 811.5,261.4 804.9,256.4 801.8,255.3 790.8,255.1 786.8,255.3 783.8,256.1 772.8,260.8 764.8,263.5 751.8,266.1 738.8,266.7 721.8,265.4 717.8,265.5 714.8,266 711.8,267.4 707,271.4 703.8,275.3 700.7,280.4 647.8,280.4Z"/><path fill="#B0239E" d="M647.8,90.4 837.8,90.4 837.8,280.4 834,280.4 813,261.4 805.8,256 801.8,254.6 789.8,253.8 785.8,254.3 782.8,255.1 772.8,259.5 765.8,262 750.8,265.1 737.8,265.4 718.8,263.1 715.8,263.1 712.8,263.7 708.8,265.6 704.5,269.4 701.5,273.4 697.8,280.4 647.8,280.4Z"/><path fill="#9C1A61" d="M647.8,90.4 837.8,90.4 837.8,280.4 836.2,280.4 814.5,261.4 806.8,255.7 802.8,254 797.8,253.7 789.8,252.6 786.8,252.9 782.8,254 771.8,258.8 764.8,261.2 750.8,264 744.8,264.4 737.8,264.2 731.8,263.5 717.8,260.9 714.8,260.8 711.6,261.4 706.8,263.6 702.3,267.4 699.5,271.4 695.2,280.4 647.8,280.4Z"/><path fill="#9E1A1F" d="M647.8,90.4 837.8,90.4 837.8,279.8 816,261.4 807.8,255.4 802.8,253.3 797.8,252.9 792.8,251.7 789.8,251.4 786.8,251.7 782.8,252.8 771.8,257.6 764.8,260.1 757.8,261.8 749.8,263.1 742.8,263.3 735.8,262.9 715.8,258.8 712.8,258.8 709.8,259.4 706.8,260.7 703.9,262.4 699.8,266.3 697.3,270.4 692.8,280.4 647.8,280.4Z"/><path fill="#B01D18" d="M647.8,90.4 837.8,90.4 837.8,278 816.2,260.4 807.8,254.6 803.8,252.9 797.8,252.1 792.8,250.5 789.8,250.3 786.8,250.6 782.8,251.8 770.8,257 764.8,259.1 756.8,261 748.8,262.2 742.8,262.3 736.8,261.9 730.8,260.8 716.8,257 712.8,256.7 709.8,257.1 706.8,258.1 703.8,259.6 700.8,261.8 698.3,264.4 695.8,268.4 690.6,280.4 647.8,280.4Z"/><path fill="#C02019" d="M647.8,90.4 837.8,90.4 837.8,276.7 817.3,260.4 808.6,254.4 803.8,252.4 797.8,251.5 792.8,249.7 789.8,249.5 786.8,249.8 782.8,251 770.8,256.2 763.8,258.7 755.8,260.5 748.8,261.5 742.8,261.6 736.8,261.1 729.8,259.6 716.8,255.7 712.8,255.3 708.8,255.7 705.8,256.7 702.6,258.4 699.8,260.6 697.1,263.4 694.7,267.4 689,280.4 647.8,280.4ZM762.8,142.2 759.8,143.9 758.1,146.4 758.1,148.4 759.8,150.3 762.8,151 768.8,150.7 772.8,151.6 774.1,151.4 775.2,150.4 775.8,149.4 775.8,147.4 773.8,144.9 766.8,142 764.8,141.8Z"/><path fill="#CA231A" d="M647.8,90.4 837.8,90.4 837.8,275.5 818.4,260.4 809.6,254.4 803.8,251.9 798.8,251 792.8,248.8 789.8,248.6 786.8,249.1 782.8,250.3 770.8,255.5 763.8,258 755.8,259.9 748.8,260.8 742.8,260.9 736.8,260.4 729.8,258.8 715.8,254.2 711.8,253.8 707.8,254.3 704.8,255.4 701.3,257.4 698.8,259.4 696.1,262.4 693.2,267.4 687.6,280.4 647.8,280.4ZM766.8,138.4 763.8,138.8 760.8,139.9 758.3,141.4 756.2,143.4 754.8,145.4 753.9,148.4 754.2,150.4 755.7,152.4 757.8,153.5 760.8,154 771.8,153.5 775.8,152.5 778.2,150.4 778.9,147.4 778.2,145.4 776.8,143.3 774.8,141.4 771.8,139.5 768.8,138.5Z"/><path fill="#CF251B" d="M647.8,90.4 837.8,90.4 837.8,274.2 819.6,260.4 809.8,253.9 804.8,251.6 798.8,250.3 793.8,248.2 790.8,247.8 787.8,248.1 783.8,249.2 770.8,254.8 762.8,257.6 754.8,259.4 747.8,260.2 741.8,260.2 735.8,259.4 729.8,257.9 715.8,252.9 711.8,252.3 707.8,252.6 704.8,253.6 700.8,255.8 697.8,258.3 695.8,260.5 692.7,265.4 686.1,280.4 647.8,280.4ZM764.8,136.3 761.1,137.4 757.8,139.1 754.9,141.4 752.4,144.4 750.9,147.4 750.3,150.4 750.7,152.4 752.3,154.4 754.8,155.6 757.8,156.2 764.8,156.2 770.8,155.2 775.8,153.9 777.8,153.2 780,151.4 781.1,149.4 781,146.4 779.8,143.7 777.8,141.3 774.4,138.4 770.8,136.5 767.8,136Z"/><path fill="#D4271C" d="M647.8,90.4 837.8,90.4 837.8,273 819.3,259.4 809.9,253.4 804.8,251.1 798.8,249.6 794,247.4 790.8,247 787.8,247.3 783.8,248.4 770.8,254.1 762.8,256.9 754.8,258.8 747.8,259.6 741.8,259.6 735.8,258.7 729.8,257 715.8,251.6 710.8,250.8 706.8,251.2 703.2,252.4 699.9,254.4 696.8,257.1 694.8,259.6 691.4,265.4 684.7,280.4 647.8,280.4ZM764.8,134.4 760.8,135.6 756.8,137.6 753.2,140.4 750.5,143.4 747.9,147.4 746.4,151.4 746.4,153.4 747.8,155.7 750.8,157.3 753.8,158 757.8,158.4 762.8,158.2 768.8,157.3 777.8,154.8 779.8,154 781.8,152.4 783,150.4 783.3,147.4 782.3,144.4 779.3,140.4 775.8,137.2 771.8,134.8 768.8,134.1Z"/><path fill="#D82A1B" d="M647.8,90.4 837.8,90.4 837.8,271.9 820.5,259.4 811,253.4 805.8,251 799.8,249.2 794.8,246.9 792.8,246.4 788.8,246.4 784.8,247.4 769.8,253.9 761.8,256.5 753.8,258.3 746.8,259 740.8,258.8 734.8,257.7 728.8,255.8 715.8,250.3 711.8,249.4 708.8,249.2 704.8,249.9 701.4,251.4 697.8,254 694.8,257.3 690.8,263.8 683.3,280.4 647.8,280.4ZM762.8,133.3 758.8,134.8 754.8,137 751.7,139.4 748.8,142.4 744.3,148.4 742,152.4 741.2,155.4 741.8,157.4 744.8,158.9 749.8,159.8 755.8,160.3 761.8,160.1 767.8,159.1 778.8,156.2 781.8,154.9 783.7,153.4 785.3,150.4 785.4,148.4 785.1,146.4 783,142.4 779.4,138.4 774.8,134.6 770.8,132.7 766.8,132.5Z"/><path fill="#DA2C1A" d="M647.8,90.4 837.8,90.4 837.8,270.7 821.7,259.4 812,253.4 806.8,250.8 799.8,248.6 794.8,246.1 792.8,245.6 788.8,245.7 784.8,246.6 769.8,253.2 761.8,255.9 753.8,257.7 746.8,258.4 740.8,258.2 734.8,257 728.8,254.9 715.8,248.9 711.8,247.8 707.8,247.6 703.8,248.3 700.8,249.7 697.8,251.8 694.8,255 690.2,262.4 682,280.4 647.8,280.4ZM764.8,131.4 760.8,132.4 756.2,134.4 752.8,136.5 749.2,139.4 741.9,147.4 733.7,157.4 731.4,161.4 731.2,162.4 731.7,163.4 733.8,163.6 742.8,162.1 756.8,162 763.8,161.4 779.8,157.7 782.8,156.5 784.8,155.2 786.8,152.4 787.3,150.4 787.3,148.4 786,144.4 783.1,140.4 777.8,135.2 772.8,131.9 769.8,131.1Z"/><path fill="#DD2F19" d="M647.8,90.4 837.8,90.4 837.8,269.6 823,259.4 813.1,253.4 806.8,250.3 799.8,247.9 794.8,245.4 792.8,244.9 788.8,244.9 784.8,245.9 769.8,252.5 760.8,255.5 752.8,257.3 745.8,257.8 739.8,257.4 734.8,256.3 728.8,254 714.8,247.2 710.8,246.1 706.8,245.9 702.8,246.7 699.8,248.2 696.8,250.5 693.8,253.8 689.8,260.6 680.6,280.4 647.8,280.4ZM763.8,130.3 756.8,132.6 750.4,136.4 746.8,139.4 729.6,156.4 726.2,160.4 724.6,163.4 724.4,166.4 725.7,168.4 727.8,169.2 729.8,169.2 737.8,166 742.8,164.6 747.8,164 759.8,163.4 766.8,162.3 781.8,158.9 784.8,157.6 786.8,156.1 788,154.4 788.9,152.4 789.1,148.4 787.6,144.4 783.9,139.4 777.8,133.7 772.8,130.5 768.8,129.7Z"/><path fill="#E03418" d="M647.8,90.4 837.8,90.4 837.8,268.5 824.3,259.4 814.3,253.4 807.8,250.2 800.4,247.4 794.8,244.7 792.8,244.2 788.8,244.2 784.8,245.2 769.8,251.9 760.8,254.9 752.8,256.7 745.8,257.2 739.8,256.7 734.4,255.4 727.8,252.6 714.8,245.7 709.8,244.3 705.8,244.1 701.8,245 698.8,246.6 695.8,249.1 693,252.4 689.8,257.9 679.3,280.4 647.8,280.4ZM762.8,129.3 755.8,131.7 749.3,135.4 726.8,155.4 722.6,160.4 720.6,164.4 720.2,166.4 720.4,168.4 721.7,170.4 724.8,171.7 729.8,171.6 738.8,167.8 742.8,166.5 747.8,165.6 762.8,164.4 780.8,161 785.6,159.4 788.4,157.4 789.8,155.4 790.5,153.4 790.9,151.4 790.7,148.4 789.2,144.4 785.5,139.4 779.2,133.4 773.1,129.4 768.8,128.6Z"/><path fill="#E33B18" d="M647.8,90.4 837.8,90.4 837.8,267.4 824,258.4 814.8,253.1 795.8,244.4 792.8,243.5 788.8,243.5 784.8,244.4 769.8,251.2 760.8,254.3 752.8,256.1 745.8,256.6 739.8,256.1 734.8,254.8 727.8,251.7 713.8,243.8 708.8,242.5 704.8,242.3 701.8,242.9 698.6,244.4 695.8,246.6 692.8,250.1 689.8,255.1 677.9,280.4 647.8,280.4ZM761.8,128.4 754.8,130.7 748.3,134.4 743.2,138.4 723.8,155.2 720.3,159.4 717.6,164.4 716.6,169.4 717,171.4 717.7,172.4 719.2,173.4 721.8,173.9 728.8,173.5 743.8,167.8 748.8,167 761.8,165.9 781.8,162.5 786.8,161 789.8,158.9 791.5,156.4 792.1,154.4 792.5,151.4 792.2,148.4 790.7,144.4 786,138.4 779.6,132.4 773.3,128.4 768.8,127.5Z"/><path fill="#E64318" d="M647.8,90.4 837.8,90.4 837.8,266.3 825.4,258.4 815.8,253 795.8,243.7 792.8,242.8 788.8,242.7 784.8,243.7 769.8,250.6 760.8,253.7 751.8,255.6 744.8,256 737.8,255 731.8,252.8 726.8,250.2 716.8,243.8 712.8,241.9 707.8,240.5 703.8,240.4 699.8,241.4 696.8,243.1 694.3,245.4 691.8,248.7 689.6,252.4 682.1,269.4 676.6,280.4 647.8,280.4ZM761.8,127.3 754.8,129.4 747.3,133.4 727.4,149.4 721.8,154.4 717.6,159.4 714.5,165.4 713,171.4 713,173.4 713.8,175.5 715.3,176.4 717.8,176.7 725.8,175.6 730.8,174.3 739.8,170.6 744.8,169 749.8,168.2 760.8,167.2 783.8,163.8 788.4,162.4 791.3,160.4 792.8,158.3 793.7,155.4 794,152.4 793.8,149.4 793,146.4 792.1,144.4 787.8,138.8 779.9,131.4 773.8,127.6 768.8,126.6Z"/><path fill="#E94C17" d="M647.8,90.4 837.8,90.4 837.8,265.2 826.8,258.4 816.8,252.8 795.8,243 792.8,242.1 788.8,242 784.8,242.9 769.8,249.9 760.8,253 751.8,255 744.8,255.4 738.1,254.4 731.8,252 725.5,248.4 716.8,242.4 712.8,240.3 707.8,238.7 702.8,238.3 699.8,239 696.8,240.4 693.8,243 691.8,245.6 688.8,250.9 682.4,266.4 675.3,280.4 647.8,280.4ZM761.8,126.2 753.8,128.6 746.4,132.4 725.8,148.4 719.8,153.7 715.2,159.4 711.8,166.2 708.4,177.4 708.2,179.4 708.8,181.1 709.8,181.4 711.8,181.2 727.8,176.6 740.8,171.5 745.8,170.1 784.8,165.3 789.8,164 792.8,162 794,160.4 795.1,157.4 795.5,154.4 795.3,150.4 793.8,145.3 789.7,139.4 781.8,131.7 777.8,128.7 774.8,127.1 771.8,126 768.8,125.6Z"/><path fill="#EC5A15" d="M647.8,90.4 837.8,90.4 837.8,264.2 819.2,253.4 795.8,242.2 792.8,241.3 788.8,241.2 784.8,242.2 769.8,249.3 759.8,252.7 751.8,254.4 744.8,254.8 738.8,253.9 732.2,251.4 725.6,247.4 716.8,240.9 711.8,238.2 706.8,236.6 701.8,236.2 698.8,236.8 695.8,238.3 692.8,241 690.8,243.7 687.8,249.6 684.7,258.4 681.2,266.4 673.9,280.4 647.8,280.4ZM760.8,125.4 752.8,127.7 744.8,131.8 723,148.4 717.5,153.4 713.6,158.4 709.9,165.4 703.5,181.4 703,184.4 703.8,185.9 705.8,186.7 708.8,186.2 719.8,180.8 731.8,176.4 740.8,172.7 744.8,171.5 750.8,170.4 787.8,166.6 791.9,165.4 794.7,163.4 796,161.4 796.8,158.4 797,154.4 796.6,150.4 794.5,144.4 790.2,138.4 781.8,130.5 777.8,127.7 774.8,126.1 771.8,125.1 768.8,124.7Z"/><path fill="#F06812" d="M647.8,90.4 837.8,90.4 837.8,263.1 819.8,253 803.2,245.4 795.8,241.5 792.8,240.5 788.8,240.4 784.8,241.4 769.8,248.6 759.8,252.1 750.8,254 743.8,254.2 737.8,253 731.8,250.4 725.7,246.4 716.8,239.4 711.8,236.6 705.8,234.3 700.8,233.8 697.8,234.4 694.8,236 692.1,238.4 689.8,241.5 687.5,246.4 684.3,256.4 681.4,263.4 677.1,272.4 672.6,280.4 647.8,280.4ZM760.8,124.3 751.8,126.9 743.8,130.9 721.6,147.4 715.8,152.6 712.7,156.4 709.8,161.3 701.6,180.4 700.8,183.4 700.7,185.4 702.1,188.4 703.5,189.4 704.8,189.8 707.8,189.4 721.8,181.6 739.8,174.2 744.8,172.6 750.8,171.5 772.8,169.2 788.8,168.2 792.8,167.4 796.2,165.4 797.6,163.4 798.4,160.4 798.6,156.4 798.2,152.4 796.1,145.4 794.5,142.4 791.4,138.4 783.1,130.4 779,127.4 775.8,125.6 772.8,124.5 768.8,123.8Z"/><path fill="#F27611" d="M647.8,90.4 837.8,90.4 837.8,262.1 820.1,252.4 803.8,245 795.8,240.7 791.8,239.6 788.8,239.6 784.8,240.6 769.8,248 758.8,251.7 748.8,253.6 744.8,253.6 740.8,253.1 735.8,251.5 730.8,248.9 725.8,245.4 717.8,238.7 711.8,234.9 704.8,231.8 699.8,231.1 696.8,231.8 693.8,233.5 690.8,236.4 688.7,239.4 686.5,244.4 683.5,255.4 681.2,261.4 676.8,270.6 671.2,280.4 647.8,280.4ZM760.8,123.4 751.8,125.6 747.5,127.4 742.8,129.9 720.1,146.4 713.8,152.1 710.8,156.1 708.3,160.4 699.8,180.7 699.1,183.4 698.9,186.4 699.7,189.4 700.8,191 701.8,191.8 703.8,192.5 705.8,192.4 707.8,191.8 723.3,182.4 738.8,175.7 744.8,173.7 750.8,172.6 771.8,170.5 791.8,169.7 795.8,168.7 797.9,167.4 799.3,165.4 800.1,162.4 800.3,158.4 799.7,153.4 798.8,149.4 797.3,145.4 795.6,142.4 792.7,138.4 784.6,130.4 780.6,127.4 776.8,125.2 773.8,123.9 769.8,123.1 765.8,122.9Z"/><path fill="#F58310" d="M647.8,90.4 837.8,90.4 837.8,261.1 822.8,253 803.9,244.4 795.8,239.9 791.8,238.7 788.8,238.7 784.8,239.8 769.8,247.3 758.8,251.1 748.8,253 744.8,253 740.8,252.5 735.8,250.8 730.8,248 725.9,244.4 717.8,237.2 709.8,231.9 703.8,229 698.8,228.1 695.8,228.8 692.8,230.8 689.8,234 687.5,237.4 685.3,242.4 682.6,254.4 680.5,260.4 675.8,270.2 669.8,280.4 647.8,280.4ZM760.8,122.4 755.8,123.3 750.8,124.8 745.8,126.8 741.8,129 718.7,145.4 715,148.4 712.1,151.4 709.1,155.4 706.5,160.4 697.7,182.4 697.1,186.4 697.4,189.4 698.6,192.4 699.8,193.9 702.8,195.3 706.8,194.6 709.8,193 719,186.4 724.1,183.4 737.8,177.1 744.8,174.7 751.8,173.4 771.8,171.7 793.8,171.4 798.1,170.4 800.7,168.4 801.8,165.7 802.1,162.4 801.7,157.4 800.8,152.4 799.6,148.4 797.9,144.4 795.8,140.9 793.1,137.4 784.7,129.4 780.7,126.4 776.8,124.2 773.8,123.1 769.8,122.2 765.8,122Z"/><path fill="#F79310" d="M647.8,90.4 837.8,90.4 837.8,260.1 823.8,252.7 805.2,244.4 795.8,239.1 791.8,237.8 788.8,237.9 784.8,239 770.8,246.2 758.8,250.5 748.8,252.4 744.8,252.5 740.8,251.8 735.8,250 730.8,247.1 726.1,243.4 716.8,235 706.8,227.9 701.8,225.2 697.8,224.5 694.8,225.4 691.8,227.7 688.8,231.5 685.8,236.4 683.8,241.4 682,252.4 679.8,259.4 674.8,269.9 668.4,280.4 647.8,280.4ZM760.8,121.4 755.1,122.4 749.8,123.9 744.8,125.9 740.8,128 716.8,144.6 713.4,147.4 710.5,150.4 707.7,154.4 705.1,159.4 696,183.4 695.4,187.4 695.7,191.4 696.8,194.8 698.8,197.4 701.8,198.5 705.8,197.5 709.8,195.2 718.8,188.2 724.7,184.4 737.8,178.1 744.8,175.6 751.8,174.4 771.8,172.8 795.8,173.2 799.8,172.4 802.6,170.4 803.6,168.4 803.9,164.4 803.5,159.4 802.3,153.4 800.8,148.4 799,144.4 794.3,137.4 785.8,129.1 781.8,126.1 777.8,123.8 773.8,122.2 769.8,121.4 765.8,121.1Z"/><path fill="#F9A50F" d="M647.8,90.4 837.8,90.4 837.8,259.1 824.8,252.4 805.8,244 795.8,238.2 791.8,236.9 788.8,236.9 784.8,238.1 770.8,245.6 758.8,249.9 748.8,251.8 744.8,251.9 740.8,251.2 736,249.4 731.1,246.4 726.3,242.4 717.8,234.3 703.8,222.8 699.8,220.1 696.8,219.5 694.8,220.1 691.8,222.8 688.8,227.1 684.8,234.3 682.4,240.4 681.1,251.4 679.1,258.4 673.9,269.4 667,280.4 647.8,280.4ZM761.8,120.3 756.8,121 750.8,122.4 745.1,124.4 740.8,126.5 714.8,143.9 711.7,146.4 708.8,149.5 706.2,153.4 703.7,158.4 699.2,171.4 695.3,181.4 694.1,185.4 693.6,190.4 694.2,195.4 695.8,199.8 697.8,202.1 698.8,202.7 700.8,202.8 703.8,201.7 707.8,199.1 718.8,189.7 723.8,186.2 735,180.4 743.8,176.9 751.8,175.3 771.8,173.9 779.8,174 792.8,175.1 797.8,175 801.8,174 803.8,172.6 804.8,171.4 805.7,168.4 805.7,165.4 804.9,159.4 803.5,153.4 800.1,144.4 797.7,140.4 794.8,136.6 790.8,132.4 785.8,128 781.8,125.1 777.8,122.8 774.8,121.6 770.8,120.6 766.8,120.2Z"/><path fill="#FAB50F" d="M647.8,90.4 837.8,90.4 837.8,258.1 824.8,251.6 808,244.4 802.8,241.6 795.8,237.2 791.8,235.9 788.8,235.9 785.8,236.8 770.8,244.9 758.8,249.2 752.8,250.7 747.8,251.3 743.8,251.2 740.3,250.4 734.8,247.9 728.7,243.4 709.1,224.4 703.4,217.4 701.8,213.4 701.8,210.4 703.2,207.4 706.5,203.4 716.5,193.4 721.8,188.9 727.8,185.1 737.8,180.1 743.8,177.8 748.8,176.7 766.8,175.2 778.8,175.2 794.8,176.9 798.8,176.9 801.8,176.3 803.7,175.4 805,174.4 806.4,172.4 807.3,169.4 807.4,165.4 806.4,159.4 804.8,153.4 802.7,147.4 800.7,143.4 798.2,139.4 794.8,135.2 790.8,131.2 785.2,126.4 780.8,123.5 776.8,121.5 772.8,120.2 768.8,119.5 763.8,119.3 758.8,119.7 752.8,120.8 747,122.4 742.8,124 738.2,126.4 723.8,136.2 712.8,143 708.9,146.4 706.5,149.4 704.1,153.4 702.3,157.4 698.2,170.4 692.6,185.4 691.9,189.4 691.7,193.4 693.1,207.4 692.7,211.4 691.3,215.4 681.3,238.4 680.6,241.4 680.4,248.4 679.8,252.4 678.8,256.4 676.8,261.4 671.8,270.8 665.6,280.4 647.8,280.4Z"/><path fill="#FBC412" d="M647.8,90.4 837.8,90.4 837.8,257 825.8,251.2 809.4,244.4 803.7,241.4 795.8,236.1 791.8,234.8 788.8,234.9 785.8,235.8 771.8,243.8 766.8,245.9 759.8,248.3 753.8,249.8 748.8,250.6 744.8,250.7 740.8,249.9 734.8,247.1 728.8,242.4 713.3,226.4 708,219.4 706.3,215.4 705.9,211.4 707.1,207.4 710.2,202.4 716.3,195.4 722.8,189.6 729.2,185.4 737.8,181 743.8,178.7 748.8,177.6 766.8,176.2 779.8,176.4 794.8,178.7 799.8,178.8 802.8,178.2 804.8,177.2 806.7,175.4 807.8,173.8 808.9,170.4 809,166.4 808.2,161.4 806.4,154.4 804.2,148.4 801.9,143.4 799.3,139.4 795.4,134.4 785.8,125.7 781.8,123 776.8,120.5 772.8,119.3 767.8,118.5 762.8,118.4 757.8,118.8 751.8,119.9 746.2,121.4 741.8,123.1 737.1,125.4 722.8,135 710.8,141.9 707.8,144.5 704.8,148.3 701.2,155.4 696.6,171.4 690.6,187.4 689.7,192.4 688.9,204.4 687.3,214.4 685.1,223.4 679.7,238.4 679.2,241.4 679.2,250.4 678.3,254.4 676.5,259.4 671.4,269.4 664.1,280.4 647.8,280.4Z"/><path fill="#FBD216" d="M647.8,90.4 837.8,90.4 837.8,256 826.8,250.8 808.9,243.4 803.4,240.4 795.8,234.8 791.8,233.5 788.8,233.7 785.8,234.7 771.8,243.1 761.8,247 754.8,249 749.8,249.9 745.8,250.1 741.8,249.5 735.8,246.8 730,242.4 716.2,227.4 711,220.4 709,215.4 708.7,211.4 709.7,207.4 712.4,202.4 718.1,195.4 723.5,190.4 729.4,186.4 737.8,182 743.8,179.6 748.8,178.5 755.8,177.7 766.8,177.2 779.8,177.7 795.8,180.5 800.8,180.8 803.8,180.1 805.8,179 807.8,177.2 809.5,174.4 810.5,170.4 810.4,166.4 809.6,161.4 807.7,154.4 803,143.4 799.8,138.4 795.7,133.4 785.8,124.5 781.8,122 776.8,119.6 772.8,118.4 767.8,117.6 762.8,117.4 756.8,117.9 745.8,120.3 736.8,123.9 731.8,126.9 721.8,133.7 709.8,139.9 706.6,142.4 703.8,145.8 701.7,149.4 699.8,154 695.4,171.4 690,184.4 688.4,189.4 684.8,209.4 683.2,222.4 678.1,239.4 678.3,249.4 677.6,253.4 675.9,258.4 670.8,268.4 662.6,280.4 647.8,280.4Z"/><path fill="#F9DF1A" d="M647.8,90.4 837.8,90.4 837.8,255 826.8,249.9 813.8,244.9 808.4,242.4 803.2,239.4 795.8,233.4 793.8,232.5 791.8,232.1 788.8,232.4 785.8,233.6 771.8,242.4 762.8,246 755.8,248.1 749.8,249.3 745.8,249.5 741.8,248.8 736.5,246.4 730.2,241.4 718.7,228.4 713.6,221.4 711.5,216.4 711,211.4 712.2,206.4 715,201.4 719.7,195.4 724.8,190.7 730.8,186.7 738.8,182.5 743.8,180.5 749.8,179.2 757.8,178.5 768.8,178.2 780.8,179 796.8,182.5 801.8,182.8 804.8,182.1 806.8,181 808.8,179.3 810.8,175.9 811.8,172.2 812,167.4 810.9,161.4 808.9,154.4 806.2,147.4 803.7,142.4 800.3,137.4 796.1,132.4 785.9,123.4 781.8,120.9 776.8,118.6 772.8,117.4 766.8,116.6 761.8,116.4 755.8,116.9 744.8,119.3 735.8,122.8 730.8,125.6 720.8,132.4 707.8,138.1 704.8,140.5 702.5,143.4 700.3,147.4 698.3,152.4 694.5,170.4 692.7,175.4 686.9,188.4 682.7,205.4 681.7,211.4 681,223.4 677.8,234.8 676.9,239.4 677.4,246.4 677.2,250.4 675.2,257.4 669.8,267.9 661.1,280.4 647.8,280.4Z"/><path fill="#F7E71D" d="M647.8,90.4 837.8,90.4 837.8,254 827.8,249.5 813.8,244.1 808.8,241.7 803.2,238.4 795.8,231.6 793.8,230.7 791.8,230.4 789.8,230.7 786.8,231.9 772.8,241.1 765.5,244.4 757.8,246.9 751.8,248.3 746.8,248.9 742.8,248.4 739.8,247.4 736.8,245.7 731.4,241.4 722.7,231.4 716.1,222.4 713.7,217.4 712.9,212.4 713.8,207.4 716.1,202.4 720.4,196.4 724.8,192 730.8,187.8 738.9,183.4 743.8,181.4 749.8,180.1 757.8,179.4 768.8,179.2 781.8,180.4 796.8,184.4 802.8,184.9 805.8,184.3 808.8,182.5 810.8,180.2 812.2,177.4 813.4,172.4 813.4,167.4 812.5,162.4 810.2,154.4 804.9,142.4 801.5,137.4 796.8,131.6 786.8,122.8 782.8,120.4 776.8,117.6 772.8,116.5 765.8,115.5 760.8,115.4 754.8,115.9 743.8,118.3 735.2,121.4 729.5,124.4 718.8,131.3 709.8,133.9 706.2,135.4 703.5,137.4 701,140.4 698.8,144.6 696.3,151.4 695.3,156.4 694.1,166.4 693,171.4 691,176.4 684.8,189.4 679.9,206.4 679.2,211.4 679.3,223.4 676.1,237.4 675.8,240.4 676.5,248.4 675.8,252.4 674.5,256.4 672.3,261.4 668.8,267.5 659.5,280.4 647.8,280.4Z"/><path fill="#F4E91F" d="M647.8,90.4 837.8,90.4 837.8,252.9 826.8,248.1 814.2,243.4 808,240.4 803.4,237.4 796.8,230 794.8,228.6 792.8,228.2 790.8,228.5 787.8,229.8 772.8,240.3 766.8,243.2 758.8,245.9 751.8,247.7 746.8,248.2 742.8,247.8 737.6,245.4 731.6,240.4 724,231.4 718.3,223.4 715.9,218.4 714.7,213.4 715.3,208.4 717.7,202.4 721,197.4 725.9,192.4 731.6,188.4 739.8,184 744.8,182 750.8,180.8 759.8,180.2 769.8,180.3 776.8,180.9 782.8,181.9 797.8,186.7 803.8,187.3 806.8,186.7 809.8,185 812.1,182.4 813.8,178.7 814.8,173.4 814.8,167.4 813.9,162.4 811.6,154.4 805.6,141.4 797.8,131.1 786.8,121.5 776.8,116.5 772.8,115.4 764.8,114.4 759.8,114.3 753.8,114.9 743.8,116.9 734.8,119.9 727.8,123.3 717.8,129.5 707.8,130.7 704.8,131.6 701.8,133.6 698.8,137.3 696.5,142.4 694.2,150.4 693.5,155.4 692.9,165.4 691.8,171.4 689.8,176.3 682.8,189.4 677.8,205.4 677,211.4 677.6,223.4 675.2,235.4 675,240.4 675.6,247.4 675.1,251.4 673.9,255.4 671.6,260.4 667.8,267.1 662.8,274.3 657.9,280.4 647.8,280.4Z"/><path fill="#EEE920" d="M647.8,90.4 837.8,90.4 837.8,251.9 827.8,247.6 814.1,242.4 806.5,238.4 803.1,235.4 797.8,227.4 794.8,225.3 792.8,225.2 789.8,226.6 774.4,238.4 769.8,241.2 764.3,243.4 756.8,245.8 750.8,247.2 746.8,247.6 743.8,247.3 741,246.4 737.8,244.6 734.9,242.4 728.4,235.4 721.1,225.4 717.9,219.4 716.6,214.4 716.7,209.4 718.3,204.4 721.7,198.4 726.3,193.4 731.8,189.4 739.8,184.9 744.8,182.9 751.8,181.6 760.8,181.1 770.8,181.4 777.8,182.2 783.4,183.4 797.8,188.9 801.8,189.9 804.8,190.1 808.8,189.3 811.5,187.4 813.8,184.3 815.4,180.4 816.4,174.4 816.3,167.4 815.3,162.4 812.9,154.4 807,141.4 798.7,130.4 787.8,120.9 776.8,115.3 772.8,114.4 763.8,113.2 758.8,113.2 751.8,114 741.8,116.1 734,118.4 727.8,121 718.8,125.8 716.8,126.5 713.8,126.6 706.8,125.8 703.8,126.5 701.8,127.6 699.8,129.4 696.8,133.4 694,139.4 692,147.4 691.4,153.4 691.6,165.4 690.6,171.4 688.8,175.8 682.9,185.4 680.4,190.4 677.5,198.4 675.7,205.4 675,211.4 676.1,223.4 674.2,233.4 674,239.4 674.8,246.4 674.5,249.4 673.5,253.4 671,259.4 666.9,266.4 661.8,273.6 656.3,280.4 647.8,280.4Z"/><path fill="#E6E71F" d="M647.8,90.4 837.8,90.4 837.8,250.8 814.3,241.4 807.2,237.4 804.9,235.4 803.6,233.4 799.8,224 798.8,222.8 796.8,221.8 793.8,221.7 790.8,223.1 777,235.4 773.1,238.4 769.8,240.4 757.8,244.8 751.8,246.3 747.8,246.8 744.8,246.8 742.8,246.3 739.8,244.9 736.2,242.4 730.4,236.4 723.2,226.4 720,220.4 718.2,214.4 718.3,209.4 719.8,204.4 722.5,199.4 726.8,194.3 732.8,189.9 740.8,185.4 746.5,183.4 753.8,182.3 763.8,182 772.8,182.7 783.8,185 799.8,192.3 803.8,193.4 806.8,193.7 808.8,193.4 810.8,192.6 813.3,190.4 815.7,186.4 817.3,181.4 818,175.4 817.7,167.4 817,163.4 814,153.4 807.8,140.4 798.8,128.8 787.8,119.4 776.8,114.1 762.8,112 757.8,112.1 750.8,112.9 734.8,116.3 717.8,122.1 714.8,122.1 706.8,120.5 703.8,120.9 701.8,122 699.8,123.6 694.6,130.4 691.2,137.4 689.2,145.4 688.9,151.4 690.2,165.4 689.4,171.4 687.1,176.4 681.5,184.4 678.7,189.4 675.8,197.2 673.9,205.4 673.3,212.4 674.6,223.4 673.1,231.4 673.1,238.4 673.9,246.4 672.8,252.4 670.3,258.4 666.3,265.4 660.8,273 654.8,280.1 654.6,280.4 647.8,280.4Z"/><path fill="#DDE41D" d="M647.8,90.4 837.8,90.4 837.8,249.8 814.9,240.4 809.8,237.4 807.3,235.4 805.9,233.4 805,230.4 805.2,222.4 804.8,219.4 803.8,217.6 801.8,216.7 799.8,216.7 796.8,217.4 791.8,219.8 789.8,221.5 781.3,230.4 773.2,237.4 769.8,239.6 762.9,242.4 752.8,245.3 745.8,246.1 742.8,245.5 740.5,244.4 734.8,239.9 730.1,234.4 724.6,226.4 721.5,220.4 720,215.4 719.7,210.4 721.2,204.4 723.9,199.4 727.8,194.8 735.4,189.4 740.8,186.5 744.8,184.8 753.8,183.2 765.8,183.1 775.8,184.3 783.5,186.4 787.9,188.4 799.8,195.7 805.8,198.8 808.8,199.6 810.8,199.2 813.8,196.8 815.8,193.8 817.6,189.4 818.8,184.5 819.6,179.4 819.7,175.4 819.2,167.4 818.5,163.4 815.1,152.4 810.3,142.4 807.8,138.1 801.9,130.4 798.8,127.1 790,119.4 786.8,117.3 779.8,113.8 773.8,112.2 764.8,110.9 759.8,110.7 747.8,112 719.8,118 715.8,118 707.8,116.6 704.8,116.7 702.7,117.4 699.8,119.3 694.8,125 689.8,133.4 687,141.4 686.2,145.4 686.1,149.4 688.7,164.4 688.4,170.4 686.2,175.4 679.4,184.4 676.7,189.4 673.8,197.6 672.1,206.4 671.7,212.4 673,223.4 671.8,231.4 673.1,245.4 672.8,248.4 671.8,252.4 669.7,257.4 666.2,263.4 661.8,269.8 656.8,275.9 652.8,280.4 647.8,280.4Z"/><path fill="#D1E01C" d="M647.8,90.4 837.8,90.4 837.8,248.6 819.9,241.4 815.9,239.4 810.6,235.4 808.9,232.4 809,229.4 811.6,224.4 812.8,221 815,210.4 819.9,192.4 821.5,179.4 820.9,168.4 820,163.4 816.9,153.4 811.9,142.4 807.8,135.8 803.6,130.4 799.8,126.2 792.2,119.4 787.8,116.3 783.8,114.1 775.8,111.1 764.8,109.4 760.8,109.2 751.8,109.9 721.8,114.6 716.8,114.6 708.8,113.8 704.8,114.1 701.8,115.1 699.7,116.4 696.5,119.4 693.1,123.4 689.8,128.3 687.6,132.4 685.8,136.8 684.1,142.4 683.5,146.4 683.6,150.4 686.9,163.4 687.3,169.4 686.8,171.5 685.3,174.4 678.7,182.4 675.8,187 673.6,192.4 671.7,199.4 670.3,210.4 671.5,222.4 670.4,229.4 672.3,245.4 671.9,248.4 670.8,252.2 668.8,256.8 666.2,261.4 658.8,271.6 651,280.4 647.8,280.4ZM751.3,184.4 759.8,183.9 767.8,184.3 775.8,185.6 782.8,187.7 789.3,191.4 796.4,197.4 799.4,201.4 800.1,203.4 800.3,205.4 799.5,208.4 796.8,212.4 789.8,219 780.8,229.4 771.9,237.4 766.8,240.1 758.8,242.9 750.8,245 745.8,245.4 742.2,244.4 737.8,241.5 733.7,237.4 729.8,232.4 726,226.4 723,220.4 721.5,215.4 721.3,210.4 722,206.4 723.6,202.4 726,198.4 728.8,195.3 734,191.4 741,187.4 745.8,185.5Z"/><path fill="#9CD118" d="M647.8,90.4 837.8,90.4 837.8,247.5 818.8,239.4 815.9,237.4 813.6,234.4 813.3,233.4 813.5,231.4 815.8,226.7 819,214.4 822.1,197.4 823.3,180.4 822.3,167.4 821,161.4 818.8,154.4 813.5,142.4 806.8,131.9 797.8,122.2 787.8,114.6 784.3,112.4 775.8,109.6 764.8,107.8 760.8,107.6 752.8,108.2 741.8,110 727.8,111.4 718.8,111.7 710.8,111.4 705.8,111.9 702.8,112.6 699.8,114.1 693,120.4 687.8,127.6 685.8,131.4 683.7,136.4 681.4,144.4 681.1,149.4 682,154.4 685.5,165.4 685.9,168.4 685.7,170.4 684.3,173.4 677.1,181.4 674.1,186.4 671.6,193.4 669.8,202.4 669,212.4 670.1,221.4 669.1,228.4 671.3,244.4 670.8,248.7 667.8,256.4 662.1,265.4 657.8,270.9 651.8,277.6 649.1,280.4 647.8,280.4ZM750.9,185.4 758.8,184.8 767.8,185.3 775.8,186.9 781.8,189 787.5,192.4 791.8,196.4 794.5,200.4 795.2,202.4 795.5,205.4 794.4,209.4 791.3,214.4 781.1,227.4 776.4,232.4 771.8,236.4 766.8,239.3 758.8,242.1 750.8,244.1 745.8,244.5 742.2,243.4 737.9,240.4 734.1,236.4 730.4,231.4 726.7,225.4 724,219.4 722.8,214.4 722.7,210.4 723.5,206.4 725,202.4 727.4,198.4 729.8,195.8 734.8,192.1 741.2,188.4 745.8,186.5Z"/><path fill="#65C21A" d="M647.8,90.4 837.8,90.4 837.8,246.3 821.6,239.4 818.8,237.4 816.8,234.4 816.8,232.4 818.2,228.4 819.5,222.4 822.3,214.4 824.5,200.4 825.1,183.4 824.2,169.4 821.5,157.4 815.7,143.4 807.8,130.8 798.8,121.2 796.9,119.4 785.8,111.5 774.8,107.7 770.8,106.8 759.8,105.8 750.8,106.6 741.8,108.3 713.8,109 708.8,109.6 700.8,111.8 698.3,113.4 693.7,117.4 689.8,121.4 687.8,124.2 684.7,129.4 682.5,134.4 679.4,144.4 678.9,149.4 679.9,155.4 683.7,166.4 684,170.4 682.8,172.5 675.8,180 673.1,184.4 670.8,190.6 668.7,200.4 667.9,212.4 668.7,217.4 668.9,221.4 667.9,228.4 670.2,243.4 669.8,248.4 667.1,255.4 662.8,262.4 655.8,271.3 647.8,279.7ZM750.7,186.4 757.8,185.8 765.8,186.1 772.9,187.4 779.8,189.7 784.4,192.4 788.8,196.4 791.3,200.4 792.1,203.4 792.2,205.4 791.7,208.4 790.5,211.4 784.2,221.4 778.8,228.4 771.8,235.3 766.8,238.3 758.8,241.3 750.8,243.3 745.8,243.6 742.3,242.4 738.8,239.9 734.8,235.7 731,230.4 727.6,224.4 725.5,219.4 724.3,214.4 724.2,210.4 724.9,206.4 726.4,202.4 728.1,199.4 730.8,196.4 735.8,192.7 741.8,189.2 745.8,187.5Z"/><path fill="#55BE1B" d="M647.8,90.4 837.8,90.4 837.8,245.1 823.8,239 820.4,236.4 819.2,234.4 819.2,231.4 821,224.4 824.4,214.4 826.7,200.4 827,185.4 826.2,171.4 822.8,156.5 817.7,144.4 816.8,142.4 808.3,129.4 798.8,119.4 786.8,110.7 771.8,105 757.8,103.7 750.8,104.6 742.8,106.3 724.8,106.1 712.8,107 700.8,110.4 696.3,113.4 690.6,118.4 687.8,121.4 683.4,128.4 681.1,133.4 677.6,144.4 677.1,148.4 677.8,155.6 681.2,166.4 681.4,169.4 680.5,171.4 674.8,177.9 671.8,183 669.8,188.6 667.4,200.4 667,211.4 667.8,220.4 666.9,228.4 669.1,242.4 669,247.4 666.8,253.5 662.1,261.4 655.8,269.4 647.8,277.8ZM750.7,187.4 757.8,186.8 765.8,187.2 772.8,188.6 778.8,190.9 782.9,193.4 786.8,197.4 788.9,201.4 789.4,203.4 789.5,206.4 788.9,209.4 787.8,212.4 783.3,220.4 778.2,227.4 771.8,234 767.8,236.8 761.8,239.4 752.8,242 746.8,242.7 743.8,242 739.8,239.5 736.7,236.4 733,231.4 729.5,225.4 727.3,220.4 725.9,215.4 725.7,210.4 726.4,206.4 727.4,203.4 728.9,200.4 731.4,197.4 736.7,193.4 741.8,190.4 745.8,188.6Z"/><path fill="#48BA1D" d="M647.8,90.4 837.8,90.4 837.8,243.8 824.8,237.8 822,235.4 821,233.4 820.9,231.4 821.4,229.4 825.8,215.1 828.3,200.4 828.6,185.4 827.6,171.4 823.8,155.4 818.1,142.4 809.7,129.4 799.1,118.4 788.1,110.4 785.8,109 772.8,103.8 757.8,101.4 742.8,103.7 727.8,103.3 713.8,104.9 700.8,109.2 698.5,110.4 694.5,113.4 686.9,120.4 682.3,127.4 679.8,132.4 676.1,144.4 675.5,147.4 675.9,156.4 677.7,165.4 677.8,168.4 677.2,170.4 672,178.4 669.8,183.5 668.4,188.4 666.4,199.4 666,210.4 666.7,219.4 666,227.4 668,241.4 668.2,244.4 667.8,247.4 665.6,253.4 661.3,260.4 655.8,267.4 647.8,275.8ZM750.9,188.4 757.8,187.8 764.8,188.2 771,189.4 776.8,191.6 781.3,194.4 785,198.4 786.8,202.4 787.3,206.4 786.8,209.4 785.9,212.4 781.8,220.4 776.8,227.4 771,233.4 766.6,236.4 759.8,239.2 751.8,241.3 746.8,241.6 743.8,240.8 740.2,238.4 736.8,234.8 733.7,230.4 730.4,224.4 728.4,219.4 727.3,214.4 727.2,210.4 727.8,206.4 728.9,203.4 730.5,200.4 732.8,197.8 737.2,194.4 742.2,191.4 746.8,189.4Z"/><path fill="#3CB51E" d="M647.8,90.4 837.8,90.4 837.8,242.5 826.8,237.2 823.8,234.6 822.8,232.4 823.1,229.4 827.3,214.4 829.6,200.4 829.9,185.4 828.8,170.8 824.8,155 818.8,141.6 810.8,129.4 799.8,117.8 789.6,110.4 785.8,108.1 772.8,102.6 757.8,99.6 737.8,101 726.8,101 712.8,103.6 703.8,106.8 698.3,109.4 692.8,113.4 686.8,118.7 682.6,124.4 679.1,130.4 674.3,146.4 674.1,155.4 674.7,164.4 674.5,167.4 668,184.4 665.2,199.4 665.1,209.4 665.8,217.4 665.1,226.4 667,241.4 666.6,247.4 664.2,253.4 660.5,259.4 654.8,266.6 647.8,273.9ZM751.3,189.4 757.8,188.8 763.8,189.1 770,190.4 775.8,192.7 779.8,195.4 783.3,199.4 784.9,203.4 785.2,207.4 783.7,213.4 780.3,220.4 776.2,226.4 770.8,232.2 766.3,235.4 760.8,237.8 752.8,240.1 747.8,240.5 744.8,239.9 741.8,238.2 738.8,235.4 735.1,230.4 731.8,224.4 729.8,219.4 728.8,214.4 728.7,210.4 729.4,206.4 730.4,203.4 732.3,200.4 734.1,198.4 737.8,195.4 742.8,192.4 746.8,190.6Z"/><path fill="#30AF20" d="M647.8,90.4 837.8,90.4 837.8,241 832.3,238.4 827.8,235.6 825.6,233.4 824.9,231.4 825.2,228.4 829,212.4 830.7,200.4 831.1,185.4 829.8,170.4 826.6,157.4 824.8,152.6 819.7,141.4 811.1,128.4 800.5,117.4 791.2,110.4 785.8,107.1 773.8,101.9 760.8,98.8 756.8,98.2 742.8,98.2 726.8,99.2 711.8,102.6 702.8,106.1 696.6,109.4 691.1,113.4 685.6,118.4 681.1,124.4 677.6,130.4 673.2,146.4 672.1,166.4 666.4,185.4 664.2,199.4 664.1,208.4 664.9,216.4 664.1,225.4 665.8,238.4 665.9,243.4 665.6,246.4 663.8,251.5 659.8,258.2 654.8,264.5 647.8,271.9ZM751.9,190.4 757.8,189.8 763.8,190.2 769.8,191.7 774.8,193.9 778.8,196.8 781.6,200.4 783,204.4 783.2,208.4 781.7,214.4 778.8,220.4 774.7,226.4 769.8,231.6 765.8,234.5 759.8,237.1 752.8,239 747.8,239.3 744.8,238.5 741.8,236.6 738.8,233.6 735.9,229.4 733.2,224.4 731.3,219.4 730.3,214.4 730.3,210.4 731,206.4 732.1,203.4 733.8,200.8 736.1,198.4 740,195.4 743.8,193.2 747.8,191.5Z"/><path fill="#23A922" d="M647.8,90.4 837.8,90.4 837.8,239.5 832.1,236.4 829.5,234.4 827.8,232.4 827.2,230.4 827.5,226.4 830.8,209.4 832,197.4 832,183.4 831.1,172.4 830.2,167.4 826.9,155.4 822.2,144.4 818.8,138.2 812.1,128.4 802.8,118.4 794.8,111.9 785.8,106.2 774.8,101.2 762.8,97.9 755.8,96.8 742.8,96.4 726.8,97.6 715.8,100.2 708.8,102.4 701.8,105.4 694.9,109.4 689.6,113.4 684.3,118.4 680.3,123.4 676.7,129.4 675.3,133.4 672.2,146.4 670.2,165.4 665.1,185.4 663.4,198.4 663.1,207.4 664,216.4 663.1,224.4 664.6,235.4 664.8,241.4 664.5,245.4 662.9,250.4 659.5,256.4 654.8,262.4 647.8,269.9ZM752.7,191.4 757.8,190.9 763.8,191.4 769.8,193.1 774.4,195.4 777.9,198.4 780,201.4 781.3,205.4 781.4,209.4 780.2,214.4 777.3,220.4 773.2,226.4 768.8,230.9 764.8,233.7 759.8,235.9 753.8,237.6 748.8,238.1 745.8,237.5 742.8,235.7 739.8,232.8 737.4,229.4 734.7,224.4 732.9,219.4 731.9,214.4 731.9,210.4 732.4,207.4 733.4,204.4 734.8,202.1 737.1,199.4 740.9,196.4 744.8,194.1 748.8,192.4Z"/><path fill="#1BA125" d="M647.8,90.4 837.8,90.4 837.8,237.7 834,235.4 831.6,233.4 830.1,231.4 829.4,228.4 830.1,220.4 832.2,208.4 833.3,194.4 832.8,179.1 831,166.4 827.9,155.4 823.7,145.4 818.8,136.5 813.2,128.4 805,119.4 795.8,111.6 785.8,105.2 775.8,100.6 764.8,97.2 754.8,95.4 741.8,94.9 726.8,96.2 717.8,98.3 707.8,101.6 701.8,104.3 693.8,109 688.8,112.7 682.9,118.4 678.9,123.4 675.3,129.4 674,133.4 671,147.4 668.6,165.4 666.6,172.4 664,185.4 662.4,198.4 662,207.4 663.1,215.4 661.9,223.4 663.6,234.4 663.7,241.4 663.2,245.4 661.4,250.4 658.5,255.4 653.8,261.5 647.8,267.8ZM753.9,192.4 758.8,192.1 763.8,192.6 768.8,194.2 773,196.4 776.4,199.4 778.4,202.4 779.6,206.4 779.5,210.4 778.3,215.4 775.8,220.4 771.8,226.1 767.8,230.2 763.8,232.9 758.8,235 753.7,236.4 748.8,236.6 745.8,235.8 742.8,233.9 740.5,231.4 737.8,227.4 735.8,223.2 734.3,218.4 733.6,214.4 733.6,210.4 734.2,207.4 735.3,204.4 736.8,202.1 739.4,199.4 742.8,196.8 746.8,194.5 749.8,193.4Z"/><path fill="#139927" d="M647.8,90.4 837.8,90.4 837.8,235.8 834.7,233.4 832.9,231.4 832,229.4 831.5,227.4 831.6,221.4 833.5,208.4 834.4,193.4 833.8,178.4 832,166.4 829.5,157.4 825.6,147.4 820.3,137.4 815,129.4 807.3,120.4 797.8,112 792.8,108.4 785.8,104.2 777.8,100.3 765.8,96.2 753.8,94 740.8,93.4 728.8,94.5 718.8,96.6 707.8,100.4 701.8,103.2 693,108.4 687.8,112.3 681.5,118.4 677.5,123.4 674.1,129.4 672.5,134.4 671.5,141.4 668,158.4 667.4,164.4 665.2,172.4 664.5,178.4 663,185.4 661.6,197.4 661,208.4 662.1,215.4 660.5,222.4 660.9,226.4 662.5,233.4 662.5,239.4 662,244.4 660.4,249.4 657.8,253.9 653.7,259.4 647.8,265.7ZM755.7,193.4 759.8,193.3 764.8,194.2 768.8,195.7 772.8,198.3 775.6,201.4 777.2,204.4 777.8,207.4 777.7,211.4 776.7,215.4 774.2,220.4 770.6,225.4 766.6,229.4 762.8,231.9 757.8,234 752.8,235.1 748.8,235 745.8,234 743.5,232.4 740.9,229.4 738.8,226 736.8,221.4 735.8,217.4 735.3,213.4 735.6,209.4 737.4,204.4 739.6,201.4 741.8,199.4 744.8,197.2 748.2,195.4 751.8,194.1Z"/><path fill="#0E912B" d="M647.8,90.4 837.8,90.4 837.8,233.9 834.5,230.4 833.6,228.4 833,225.4 833.2,219.4 834.6,207.4 835.3,192.4 834.6,177.4 832.6,165.4 830.3,157.4 826,146.4 820.6,136.4 815.8,129.4 807.8,120 798.1,111.4 793.8,108.3 786.8,104 778.8,99.9 765.8,95.3 753.8,93 741.8,92.2 729.8,93.2 719.8,95.2 707.8,99.5 701.8,102.3 692.8,107.6 687.6,111.4 680.4,118.4 676.4,123.4 673.5,128.4 671.4,134.4 670.6,142.4 668.8,149.4 666.3,164.4 664.4,171.4 661,196.4 659.9,208.4 660.9,215.4 659.4,219.4 659.2,221.4 659.6,225.4 661.6,233.4 661.6,238.4 661.1,243.4 659.5,248.4 656.8,253.3 652.8,258.6 647.8,264ZM756,194.4 760.8,194.4 764.8,195.4 768.8,197.2 771.9,199.4 774.5,202.4 775.9,205.4 776.5,208.4 776.2,212.4 775,216.4 772.8,220.4 769.8,224.6 765.8,228.5 761.8,231.1 757.8,232.8 753.8,233.7 749.8,233.8 746.8,232.9 744.8,231.6 742.6,229.4 740.5,226.4 738.7,222.4 737.4,218.4 736.8,214.4 737,210.4 737.7,207.4 738.8,205 740.7,202.4 742.8,200.3 748.9,196.4 752.8,195Z"/><path fill="#0C8931" d="M647.8,90.4 837.8,90.4 837.8,231.7 835.6,228.4 834.5,223.4 836.2,192.4 835.4,177.4 833.4,165.4 831.1,157.4 826.8,146.4 820.8,135.4 816.7,129.4 808.8,120 798.8,111.1 793.8,107.4 786.8,103.2 778.8,99.1 766.8,94.7 753.8,91.9 741.8,91.1 729.8,92.1 718.8,94.5 707.8,98.5 701.8,101.3 691.7,107.4 686.4,111.4 679.2,118.4 675.3,123.4 672,129.4 670.4,134.4 669.8,142.4 668.2,148.4 665.4,164.4 663.6,171.4 658.9,206.4 658.9,214.4 657.3,217.4 657.2,218.4 657.9,223.4 660.6,233.4 660.6,237.4 660.1,242.4 658.8,247 656.6,251.4 652.8,256.6 647.8,262.2ZM757.2,195.4 760.8,195.6 764.1,196.4 767.8,198.1 770.9,200.4 773.3,203.4 774.6,206.4 775,209.4 774.8,212.8 773.6,216.4 771.3,220.4 768.3,224.4 764.8,227.7 761.8,229.7 757.8,231.4 753.8,232.4 749.8,232.3 747.3,231.4 744.8,229.6 742.8,227.3 741.1,224.4 739.8,221.2 738.8,217.3 738.4,213.4 738.8,209.9 740.8,204.9 742.7,202.4 744.9,200.4 747.8,198.4 750.8,196.9 753.8,195.9Z"/><path fill="#0A813A" d="M647.8,90.4 733.8,90.4 724.8,91.9 717.8,93.7 706.8,97.9 699.8,101.5 689.8,107.7 684.1,112.4 676.4,120.4 671.4,128.4 669.2,134.4 669,142.4 667.3,148.4 664.7,163.4 662.8,171.4 659.5,195.4 659,201.4 657.7,206.4 656.8,212.4 655,217.4 655.5,220.4 659.3,232.4 659.5,236.4 659,241.4 657.8,246 655.7,250.4 652.2,255.4 647.8,260.3ZM750.1,90.4 837.8,90.4 837.8,228.7 836.5,225.4 835.9,221.4 837.1,193.4 836.4,179.4 835.5,172.4 833.2,161.4 829.3,150.4 826.1,143.4 820.4,133.4 816,127.4 808.2,118.4 798.8,110.2 792.8,106 781.8,99.6 770.8,95.1 762.8,92.7ZM753.3,197.4 756.8,196.6 759.8,196.6 763.8,197.7 767.2,199.4 769.8,201.5 771.9,204.4 773.1,207.4 773.5,211.4 772.9,214.4 771,218.4 768.2,222.4 765.4,225.4 762.8,227.4 758.8,229.5 754.8,230.7 751.8,230.8 749.5,230.4 747.4,229.4 745.8,228.2 743.8,225.8 742,222.4 741,219.4 740.2,213.4 741.1,208.4 743.8,203.7 747.8,200.1Z"/><path fill="#0A784A" d="M647.8,90.4 726.7,90.4 717.8,92.6 706.8,96.9 700.8,99.9 689.8,106.7 684.8,110.6 676.8,118.4 673.1,123.4 669.7,129.4 668,134.4 667.7,137.4 668.1,142.4 666.3,148.4 665.1,156.4 662.1,171.4 658.6,195.4 658.2,200.4 653.3,216.4 653.8,220.4 658,232.4 658.3,236.4 657.9,240.4 656.8,244.9 654.8,249.2 651.8,253.7 647.8,258.4ZM756.7,90.4 837.8,90.4 837.8,187.7 837,176.4 835,165.4 833.4,159.4 830.1,150.4 826.9,143.4 821.8,134.4 818.4,129.4 812.8,122.4 807.8,117.1 798.9,109.4 785.8,100.9 779.8,97.8 769.8,93.8 763.8,92ZM754.9,198.4 757.8,197.9 760.8,198.2 764.1,199.4 766.8,201.1 768.8,203 770.5,205.4 771.5,208.4 771.8,211.4 771.2,214.4 769.8,217.4 767.8,220.4 764.8,223.8 761.8,226.1 758.8,227.7 755.8,228.7 752.8,229 748.8,227.9 746.8,226.4 745.2,224.4 743,219.4 742.3,213.4 743.3,208.4 745.7,204.4 749.8,200.8ZM837.8,204.4 837.8,223.5 837.3,218.4Z"/><path fill="#0C6F5C" d="M647.8,90.4 721.9,90.4 713.8,93 703.8,97.3 687.8,107.1 682.7,111.4 675.6,118.4 671.9,123.4 668,130.4 666.4,135.4 666.3,138.4 666.9,142.4 665.3,148.4 664.3,156.4 661.4,171.4 659.5,186.4 657.7,195.4 657.1,200.4 654.3,206.4 651.7,215.4 651.6,217.4 652.1,220.4 656.5,232.4 656.9,235.4 656.7,239.4 655.8,243.4 653.8,248.1 651,252.4 647.8,256.3ZM761.3,90.4 837.8,90.4 837.8,176.2 834.8,161.4 829.2,146.4 821.4,132.4 811.9,120.4 807.8,116.2 798.8,108.4 785.8,100.1 779.8,97 771.8,93.6ZM754.3,200.4 757.8,199.5 759.8,199.6 762.2,200.4 764.8,201.9 766.8,203.6 768.7,206.4 769.7,209.4 769.8,211.4 769.5,213.4 768.3,216.4 766.3,219.4 763.8,222.2 758.8,225.6 756.3,226.4 753.8,226.7 751.8,226.4 749.8,225.6 747.4,223.4 745.4,219.4 744.7,214.4 745.2,210.4 747,206.4 749.8,203.2Z"/><path fill="#116770" d="M647.8,90.4 718.2,90.4 710.8,93.2 702.8,96.8 690.8,104.1 685.8,107.6 678.8,113.8 674.4,118.4 669.4,125.4 666.2,131.4 664.4,137.4 664.3,139.4 665,142.4 664,149.4 663.7,155.4 661.9,163.4 660,175.4 658.8,186.4 655.8,199.2 652.5,205.4 650.8,211.4 650.1,215.4 650.1,218.4 650.8,221.4 654.9,232.4 655.4,235.4 655.2,239.4 654.2,243.4 653,246.4 650.6,250.4 647.8,254.1ZM765,90.4 837.8,90.4 837.8,171.2 834.7,158.4 829.1,144.4 821.6,131.4 812,119.4 807.8,115.2 799.8,108.3 787.8,100.4 778.8,95.7 770.8,92.3ZM755.4,202.4 758.8,201.8 760.8,202.2 763.1,203.4 765.2,205.4 766.5,207.4 767.3,211.4 766.2,215.4 762.8,219.9 758.8,222.7 754.8,223.7 751.8,223 749.8,221.3 748.4,218.4 747.8,214.4 748.5,210.4 749.8,207.4 752.3,204.4Z"/><path fill="#175E84" d="M647.8,90.4 715.1,90.4 706.8,93.9 700.8,96.9 688.8,104.3 683.4,108.4 676.8,114.4 672.3,119.4 666.9,127.4 663.9,133.4 662.5,137.4 662.2,139.4 663,144.4 662.8,155.4 660.8,164.4 658.9,177.4 658.1,186.4 654.8,197.1 653.8,199.1 651.9,201.4 651,203.4 648.6,213.4 648.4,217.4 648.9,220.4 652.9,231.4 653.6,234.4 653.7,237.4 653.1,241.4 652.1,244.4 650,248.4 647.8,251.6ZM768,90.4 837.8,90.4 837.8,167 834.8,156.4 831.3,147.4 828.9,142.4 821.7,130.4 812.8,119.3 802.2,109.4 794.8,103.9 782.8,96.7ZM756.2,206.4 758.8,205.6 760.8,206.2 762.8,208.2 763.6,210.4 763.1,213.4 761.8,215.6 759.8,217.4 756.8,218.4 754.8,217.7 753.7,215.4 754.2,209.4 755.2,207.4Z"/><path fill="#1F5597" d="M647.8,90.4 712.3,90.4 699.8,96.4 688.8,103.3 683.8,106.9 676.8,113.1 672.6,117.4 668.1,123.4 664.3,129.4 661.9,134.4 660.7,138.4 661.8,155.4 660,163.4 659.3,170.4 658,177.4 657.3,186.4 653.8,195.6 649.4,202.4 647.8,207.8ZM770.6,90.4 837.8,90.4 837.8,163.4 834.1,152.4 829.2,141.4 821.9,129.4 813,118.4 803.3,109.4 795.8,103.7 783.8,96.3ZM647.8,223.4 647.8,222.6 651,231.4 651.9,236.4 651.7,239.4 650.9,242.4 647.8,248.7Z"/><path fill="#274CA9" d="M647.8,90.4 709.8,90.4 697.8,96.5 687.8,102.9 681.8,107.4 675.8,112.7 671.3,117.4 666,124.4 662.3,130.4 659.9,135.4 659.1,139.4 660.5,155.4 659,162.4 658.5,170.4 657.1,177.4 656.7,185.4 655.8,188.2 652.8,194.3 647.8,202ZM772.9,90.4 837.8,90.4 837.8,160.3 832.9,147.4 828.4,138.4 822.1,128.4 813,117.4 803.2,108.4 795.8,102.8 784.8,96ZM647.8,228.4 647.8,227.8 649.3,232.4 649.9,236.4 649.5,240.4 647.8,245Z"/><path fill="#2F42AF" d="M647.8,90.4 707.4,90.4 699.8,94.3 690.8,99.8 684.8,103.9 679.1,108.4 673.7,113.4 669.1,118.4 664.5,124.4 660.7,130.4 658.4,135.4 657.5,139.4 657.5,143.4 658.6,156.4 657.6,163.4 657.6,170.4 656,177.4 655.7,185.4 651.8,192.9 647.8,198.6ZM775.1,90.4 837.8,90.4 837.8,157.7 832.9,145.4 827.5,135.4 821.8,126.8 813.8,117.2 805.8,109.7 797.8,103.3 785.8,95.7Z"/><path fill="#3838AD" d="M647.8,90.4 705.1,90.4 698.8,93.7 688.8,100 682.8,104.2 677.6,108.4 672.2,113.4 667.7,118.4 663,124.4 659.2,130.4 656.9,135.4 655.9,140.4 656,153.4 656.5,157.4 656.1,164.4 656.3,169.4 655,176.4 654.5,184.4 652.8,188.2 647.8,195.7ZM777.2,90.4 837.8,90.4 837.8,155.3 833.3,144.4 827.1,133.4 821.6,125.4 814,116.4 805.8,108.7 797.8,102.4 786.8,95.3Z"/><path fill="#4533AD" d="M647.8,90.4 702.9,90.4 695.8,94.4 685.8,100.8 675,109.4 669.8,114.4 665.4,119.4 660.8,125.4 657.6,130.4 655.4,135.4 654.2,141.4 653.9,152.4 654.5,159.4 654.3,170.4 653,182.4 651.8,186 647.8,192.7ZM779.2,90.4 837.8,90.4 837.8,153 833.1,142.4 827.4,132.4 821.8,124.4 814.8,116.2 806.8,108.6 798.8,102.2 787.8,95Z"/><path fill="#5431AF" d="M647.8,90.4 700.8,90.4 684.8,100.4 673.4,109.4 668.3,114.4 663.9,119.4 659.2,125.4 656.1,130.4 653.6,136.4 652.5,142.4 652,152.4 652.5,162.4 651.8,169.4 652,173.4 651.6,179.4 650.6,183.4 647.8,189.2ZM781.1,90.4 837.8,90.4 837.8,150.8 833.5,141.4 827.7,131.4 821.9,123.4 815.1,115.4 807.8,108.5 799.8,102 789.8,95.3Z"/><path fill="#6232B4" d="M647.8,90.4 698.7,90.4 683.8,99.8 671.9,109.4 666.7,114.4 661.5,120.4 657.7,125.4 654.6,130.4 652.1,136.4 650.8,142.4 650.2,151.4 650.4,161.4 649.8,169.4 649.9,176.4 649.3,180.4 647.8,184.5ZM782.9,90.4 837.8,90.4 837.8,148.7 833.3,139.4 827.9,130.4 822.8,123.3 815.8,115.1 808.8,108.4 800.8,101.8 790.8,95Z"/><path fill="#6E35BA" d="M647.8,90.4 696.7,90.4 682.8,99.3 671.8,108 662.4,117.4 654.8,127.4 651.3,134.4 649.4,141.4 648.4,149.4 647.8,167.8ZM784.7,90.4 837.8,90.4 837.8,146.7 833.7,138.4 828.2,129.4 822.8,122.1 816.2,114.4 809.8,108.2 801.8,101.6 792.8,95.3Z"/><path fill="#7A38C0" d="M647.8,90.4 694.8,90.4 684.8,96.7 676.9,102.4 669.7,108.4 662.6,115.4 656.7,122.4 652.6,128.4 649.7,134.4 647.8,141.1ZM786.4,90.4 837.8,90.4 837.8,144.7 833.4,136.4 828.4,128.4 823.2,121.4 816.8,114 810,107.4 802.8,101.4 794.8,95.7Z"/><path fill="#7A38C0" d="M647.8,90.4 692.8,90.4 683.8,96.1 676.8,101.2 669.8,106.9 663.9,112.4 658.3,118.4 653.6,124.4 650.5,129.4 647.8,135.5ZM788,90.4 837.8,90.4 837.8,142.9 833.8,135.4 828.7,127.4 823.4,120.4 817.3,113.4 810.8,107.1 803.8,101.2 796.8,96Z"/></g><circle cx="742.9" cy="185.5" r="92.1" fill="none" stroke="#787878" stroke-width="2.0"/><g shape-rendering="crispEdges"><path fill="#2E3FA0" d="M110.74 430.08h2.94v2.94h-2.94zM107.80 433.02h5.88v2.94h-5.88zM107.80 435.96h5.88v2.94h-5.88zM107.80 438.90h5.88v2.94h-5.88zM107.80 441.84h5.88v2.94h-5.88zM107.80 444.78h5.88v2.94h-5.88zM107.80 447.72h5.88v2.94h-5.88zM107.80 450.66h5.88v2.94h-5.88zM107.80 453.60h5.88v2.94h-5.88zM107.80 456.54h5.88v2.94h-5.88zM107.80 459.48h5.88v2.94h-5.88zM107.80 462.42h5.88v2.94h-5.88zM107.80 465.36h5.88v2.94h-5.88zM107.80 468.30h5.88v2.94h-5.88zM107.80 471.24h5.88v2.94h-5.88zM107.80 474.18h5.88v2.94h-5.88zM107.80 477.12h5.88v2.94h-5.88zM107.80 480.06h5.88v2.94h-5.88zM107.80 483.00h5.88v2.94h-5.88zM107.80 485.94h8.82v2.94h-8.82zM110.74 488.88h5.88v2.94h-5.88zM110.74 491.82h5.88v2.94h-5.88zM113.68 494.76h8.82v2.94h-8.82zM119.56 497.70h5.88v2.94h-5.88zM128.38 500.64h2.94v2.94h-2.94zM134.26 503.58h2.94v2.94h-2.94zM140.14 506.52h5.88v2.94h-5.88zM148.96 509.46h2.94v2.94h-2.94zM154.84 512.40h5.88v2.94h-5.88zM163.66 515.34h2.94v2.94h-2.94zM172.48 518.28h2.94v2.94h-2.94zM178.36 521.22h5.88v2.94h-5.88zM187.18 524.16h2.94v2.94h-2.94zM196.00 527.10h2.94v2.94h-2.94z"/><path fill="#2F5BB5" d="M122.50 421.26h2.94v2.94h-2.94zM119.56 424.20h5.88v2.94h-5.88zM116.62 427.14h20.58v2.94h-20.58zM113.68 430.08h20.58v2.94h-20.58zM113.68 433.02h17.64v2.94h-17.64zM113.68 435.96h17.64v2.94h-17.64zM113.68 438.90h14.70v2.94h-14.70zM113.68 441.84h11.76v2.94h-11.76zM113.68 444.78h11.76v2.94h-11.76zM113.68 447.72h8.82v2.94h-8.82zM113.68 450.66h8.82v2.94h-8.82zM113.68 453.60h8.82v2.94h-8.82zM113.68 456.54h8.82v2.94h-8.82zM113.68 459.48h8.82v2.94h-8.82zM113.68 462.42h8.82v2.94h-8.82zM113.68 465.36h8.82v2.94h-8.82zM113.68 468.30h11.76v2.94h-11.76zM113.68 471.24h11.76v2.94h-11.76zM113.68 474.18h11.76v2.94h-11.76zM113.68 477.12h11.76v2.94h-11.76zM113.68 480.06h11.76v2.94h-11.76zM113.68 483.00h11.76v2.94h-11.76zM116.62 485.94h8.82v2.94h-8.82zM116.62 488.88h11.76v2.94h-11.76zM178.36 488.88h8.82v2.94h-8.82zM116.62 491.82h14.70v2.94h-14.70zM172.48 491.82h14.70v2.94h-14.70zM122.50 494.76h11.76v2.94h-11.76zM169.54 494.76h17.64v2.94h-17.64zM125.44 497.70h17.64v2.94h-17.64zM166.60 497.70h20.58v2.94h-20.58zM131.32 500.64h55.86v2.94h-55.86zM137.20 503.58h49.98v2.94h-49.98zM146.02 506.52h44.10v2.94h-44.10zM151.90 509.46h38.22v2.94h-38.22zM160.72 512.40h32.34v2.94h-32.34zM166.60 515.34h26.46v2.94h-26.46zM175.42 518.28h17.64v2.94h-17.64zM184.24 521.22h11.76v2.94h-11.76zM190.12 524.16h5.88v2.94h-5.88z"/><path fill="#3F80C5" d="M219.52 385.98h2.94v2.94h-2.94zM219.52 388.92h5.88v2.94h-5.88zM219.52 391.86h8.82v2.94h-8.82zM219.52 394.80h11.76v2.94h-11.76zM225.40 397.74h11.76v2.94h-11.76zM225.40 400.68h14.70v2.94h-14.70zM225.40 403.62h17.64v2.94h-17.64zM140.14 406.56h2.94v2.94h-2.94zM225.40 406.56h20.58v2.94h-20.58zM137.20 409.50h5.88v2.94h-5.88zM225.40 409.50h23.52v2.94h-23.52zM134.26 412.44h47.04v2.94h-47.04zM225.40 412.44h26.46v2.94h-26.46zM128.38 415.38h58.80v2.94h-58.80zM234.22 415.38h20.58v2.94h-20.58zM125.44 418.32h49.98v2.94h-49.98zM234.22 418.32h23.52v2.94h-23.52zM125.44 421.26h41.16v2.94h-41.16zM243.04 421.26h17.64v2.94h-17.64zM125.44 424.20h32.34v2.94h-32.34zM245.98 424.20h17.64v2.94h-17.64zM137.20 427.14h17.64v2.94h-17.64zM251.86 427.14h14.70v2.94h-14.70zM134.26 430.08h17.64v2.94h-17.64zM251.86 430.08h17.64v2.94h-17.64zM131.32 433.02h20.58v2.94h-20.58zM251.86 433.02h17.64v2.94h-17.64zM131.32 435.96h20.58v2.94h-20.58zM257.74 435.96h11.76v2.94h-11.76zM128.38 438.90h26.46v2.94h-26.46zM257.74 438.90h11.76v2.94h-11.76zM125.44 441.84h35.28v2.94h-35.28zM257.74 441.84h11.76v2.94h-11.76zM125.44 444.78h47.04v2.94h-47.04zM257.74 444.78h11.76v2.94h-11.76zM122.50 447.72h17.64v2.94h-17.64zM166.60 447.72h8.82v2.94h-8.82zM257.74 447.72h11.76v2.94h-11.76zM122.50 450.66h11.76v2.94h-11.76zM169.54 450.66h8.82v2.94h-8.82zM257.74 450.66h11.76v2.94h-11.76zM122.50 453.60h8.82v2.94h-8.82zM172.48 453.60h5.88v2.94h-5.88zM257.74 453.60h8.82v2.94h-8.82zM122.50 456.54h5.88v2.94h-5.88zM172.48 456.54h5.88v2.94h-5.88zM254.80 456.54h11.76v2.94h-11.76zM122.50 459.48h5.88v2.94h-5.88zM172.48 459.48h8.82v2.94h-8.82zM251.86 459.48h14.70v2.94h-14.70zM122.50 462.42h5.88v2.94h-5.88zM172.48 462.42h8.82v2.94h-8.82zM248.92 462.42h14.70v2.94h-14.70zM122.50 465.36h5.88v2.94h-5.88zM172.48 465.36h8.82v2.94h-8.82zM248.92 465.36h14.70v2.94h-14.70zM125.44 468.30h2.94v2.94h-2.94zM172.48 468.30h11.76v2.94h-11.76zM245.98 468.30h17.64v2.94h-17.64zM125.44 471.24h2.94v2.94h-2.94zM172.48 471.24h14.70v2.94h-14.70zM243.04 471.24h17.64v2.94h-17.64zM125.44 474.18h2.94v2.94h-2.94zM172.48 474.18h17.64v2.94h-17.64zM243.04 474.18h17.64v2.94h-17.64zM125.44 477.12h2.94v2.94h-2.94zM172.48 477.12h20.58v2.94h-20.58zM243.04 477.12h14.70v2.94h-14.70zM125.44 480.06h2.94v2.94h-2.94zM172.48 480.06h26.46v2.94h-26.46zM243.04 480.06h14.70v2.94h-14.70zM125.44 483.00h2.94v2.94h-2.94zM172.48 483.00h29.40v2.94h-29.40zM240.10 483.00h14.70v2.94h-14.70zM125.44 485.94h5.88v2.94h-5.88zM172.48 485.94h29.40v2.94h-29.40zM240.10 485.94h14.70v2.94h-14.70zM128.38 488.88h8.82v2.94h-8.82zM172.48 488.88h5.88v2.94h-5.88zM187.18 488.88h14.70v2.94h-14.70zM240.10 488.88h14.70v2.94h-14.70zM131.32 491.82h14.70v2.94h-14.70zM169.54 491.82h2.94v2.94h-2.94zM187.18 491.82h14.70v2.94h-14.70zM237.16 491.82h14.70v2.94h-14.70zM134.26 494.76h35.28v2.94h-35.28zM187.18 494.76h14.70v2.94h-14.70zM237.16 494.76h14.70v2.94h-14.70zM143.08 497.70h23.52v2.94h-23.52zM187.18 497.70h11.76v2.94h-11.76zM234.22 497.70h14.70v2.94h-14.70zM187.18 500.64h14.70v2.94h-14.70zM234.22 500.64h14.70v2.94h-14.70zM187.18 503.58h14.70v2.94h-14.70zM231.28 503.58h14.70v2.94h-14.70zM190.12 506.52h14.70v2.94h-14.70zM231.28 506.52h14.70v2.94h-14.70zM190.12 509.46h14.70v2.94h-14.70zM228.34 509.46h14.70v2.94h-14.70zM193.06 512.40h11.76v2.94h-11.76zM225.40 512.40h14.70v2.94h-14.70zM193.06 515.34h14.70v2.94h-14.70zM222.46 515.34h11.76v2.94h-11.76zM193.06 518.28h14.70v2.94h-14.70zM216.58 518.28h11.76v2.94h-11.76zM196.00 521.22h11.76v2.94h-11.76zM210.70 521.22h8.82v2.94h-8.82zM196.00 524.16h17.64v2.94h-17.64zM198.94 527.10h11.76v2.94h-11.76z"/><path fill="#55A5D8" d="M196.00 385.98h23.52v2.94h-23.52zM196.00 388.92h23.52v2.94h-23.52zM196.00 391.86h23.52v2.94h-23.52zM196.00 394.80h23.52v2.94h-23.52zM148.96 397.74h32.34v2.94h-32.34zM196.00 397.74h29.40v2.94h-29.40zM146.02 400.68h79.38v2.94h-79.38zM143.08 403.62h82.32v2.94h-82.32zM143.08 406.56h82.32v2.94h-82.32zM143.08 409.50h82.32v2.94h-82.32zM181.30 412.44h44.10v2.94h-44.10zM187.18 415.38h47.04v2.94h-47.04zM175.42 418.32h29.40v2.94h-29.40zM213.64 418.32h20.58v2.94h-20.58zM166.60 421.26h32.34v2.94h-32.34zM222.46 421.26h20.58v2.94h-20.58zM157.78 424.20h35.28v2.94h-35.28zM225.40 424.20h20.58v2.94h-20.58zM154.84 427.14h29.40v2.94h-29.40zM231.28 427.14h20.58v2.94h-20.58zM151.90 430.08h29.40v2.94h-29.40zM234.22 430.08h17.64v2.94h-17.64zM151.90 433.02h20.58v2.94h-20.58zM234.22 433.02h17.64v2.94h-17.64zM151.90 435.96h17.64v2.94h-17.64zM240.10 435.96h17.64v2.94h-17.64zM154.84 438.90h17.64v2.94h-17.64zM243.04 438.90h14.70v2.94h-14.70zM160.72 441.84h17.64v2.94h-17.64zM245.98 441.84h11.76v2.94h-11.76zM172.48 444.78h8.82v2.94h-8.82zM248.92 444.78h8.82v2.94h-8.82zM140.14 447.72h26.46v2.94h-26.46zM175.42 447.72h11.76v2.94h-11.76zM248.92 447.72h8.82v2.94h-8.82zM134.26 450.66h35.28v2.94h-35.28zM178.36 450.66h11.76v2.94h-11.76zM248.92 450.66h8.82v2.94h-8.82zM131.32 453.60h41.16v2.94h-41.16zM178.36 453.60h17.64v2.94h-17.64zM245.98 453.60h11.76v2.94h-11.76zM128.38 456.54h44.10v2.94h-44.10zM178.36 456.54h20.58v2.94h-20.58zM245.98 456.54h8.82v2.94h-8.82zM128.38 459.48h20.58v2.94h-20.58zM157.78 459.48h14.70v2.94h-14.70zM181.30 459.48h20.58v2.94h-20.58zM243.04 459.48h8.82v2.94h-8.82zM128.38 462.42h14.70v2.94h-14.70zM160.72 462.42h11.76v2.94h-11.76zM181.30 462.42h23.52v2.94h-23.52zM243.04 462.42h5.88v2.94h-5.88zM128.38 465.36h8.82v2.94h-8.82zM160.72 465.36h11.76v2.94h-11.76zM181.30 465.36h26.46v2.94h-26.46zM240.10 465.36h8.82v2.94h-8.82zM128.38 468.30h8.82v2.94h-8.82zM160.72 468.30h11.76v2.94h-11.76zM184.24 468.30h26.46v2.94h-26.46zM240.10 468.30h5.88v2.94h-5.88zM128.38 471.24h8.82v2.94h-8.82zM160.72 471.24h11.76v2.94h-11.76zM187.18 471.24h55.86v2.94h-55.86zM128.38 474.18h8.82v2.94h-8.82zM160.72 474.18h11.76v2.94h-11.76zM190.12 474.18h52.92v2.94h-52.92zM128.38 477.12h8.82v2.94h-8.82zM160.72 477.12h11.76v2.94h-11.76zM193.06 477.12h49.98v2.94h-49.98zM128.38 480.06h14.70v2.94h-14.70zM160.72 480.06h11.76v2.94h-11.76zM198.94 480.06h44.10v2.94h-44.10zM128.38 483.00h23.52v2.94h-23.52zM160.72 483.00h11.76v2.94h-11.76zM201.88 483.00h38.22v2.94h-38.22zM131.32 485.94h41.16v2.94h-41.16zM201.88 485.94h38.22v2.94h-38.22zM137.20 488.88h35.28v2.94h-35.28zM201.88 488.88h38.22v2.94h-38.22zM146.02 491.82h23.52v2.94h-23.52zM201.88 491.82h35.28v2.94h-35.28zM201.88 494.76h35.28v2.94h-35.28zM198.94 497.70h35.28v2.94h-35.28zM201.88 500.64h32.34v2.94h-32.34zM201.88 503.58h29.40v2.94h-29.40zM204.82 506.52h26.46v2.94h-26.46zM204.82 509.46h23.52v2.94h-23.52zM204.82 512.40h20.58v2.94h-20.58zM207.76 515.34h14.70v2.94h-14.70zM207.76 518.28h8.82v2.94h-8.82zM207.76 521.22h2.94v2.94h-2.94z"/><path fill="#7CCBE8" d="M166.60 383.04h20.58v2.94h-20.58zM163.66 385.98h32.34v2.94h-32.34zM160.72 388.92h35.28v2.94h-35.28zM157.78 391.86h38.22v2.94h-38.22zM154.84 394.80h41.16v2.94h-41.16zM181.30 397.74h14.70v2.94h-14.70zM204.82 418.32h8.82v2.94h-8.82zM198.94 421.26h5.88v2.94h-5.88zM207.76 421.26h14.70v2.94h-14.70zM193.06 424.20h8.82v2.94h-8.82zM216.58 424.20h8.82v2.94h-8.82zM184.24 427.14h11.76v2.94h-11.76zM219.52 427.14h11.76v2.94h-11.76zM181.30 430.08h11.76v2.94h-11.76zM225.40 430.08h8.82v2.94h-8.82zM172.48 433.02h11.76v2.94h-11.76zM228.34 433.02h5.88v2.94h-5.88zM169.54 435.96h11.76v2.94h-11.76zM231.28 435.96h8.82v2.94h-8.82zM172.48 438.90h11.76v2.94h-11.76zM234.22 438.90h8.82v2.94h-8.82zM178.36 441.84h11.76v2.94h-11.76zM237.16 441.84h8.82v2.94h-8.82zM181.30 444.78h11.76v2.94h-11.76zM240.10 444.78h8.82v2.94h-8.82zM187.18 447.72h11.76v2.94h-11.76zM243.04 447.72h5.88v2.94h-5.88zM190.12 450.66h14.70v2.94h-14.70zM243.04 450.66h5.88v2.94h-5.88zM196.00 453.60h17.64v2.94h-17.64zM240.10 453.60h5.88v2.94h-5.88zM198.94 456.54h17.64v2.94h-17.64zM237.16 456.54h8.82v2.94h-8.82zM148.96 459.48h8.82v2.94h-8.82zM201.88 459.48h17.64v2.94h-17.64zM237.16 459.48h5.88v2.94h-5.88zM143.08 462.42h17.64v2.94h-17.64zM204.82 462.42h38.22v2.94h-38.22zM137.20 465.36h23.52v2.94h-23.52zM207.76 465.36h32.34v2.94h-32.34zM137.20 468.30h23.52v2.94h-23.52zM210.70 468.30h29.40v2.94h-29.40zM137.20 471.24h23.52v2.94h-23.52zM137.20 474.18h23.52v2.94h-23.52zM137.20 477.12h23.52v2.94h-23.52zM143.08 480.06h17.64v2.94h-17.64zM151.90 483.00h8.82v2.94h-8.82z"/><path fill="#8FE0D5" d="M204.82 421.26h2.94v2.94h-2.94zM201.88 424.20h14.70v2.94h-14.70zM196.00 427.14h8.82v2.94h-8.82zM207.76 427.14h11.76v2.94h-11.76zM193.06 430.08h5.88v2.94h-5.88zM210.70 430.08h14.70v2.94h-14.70zM184.24 433.02h11.76v2.94h-11.76zM216.58 433.02h11.76v2.94h-11.76zM181.30 435.96h8.82v2.94h-8.82zM219.52 435.96h11.76v2.94h-11.76zM184.24 438.90h11.76v2.94h-11.76zM222.46 438.90h11.76v2.94h-11.76zM190.12 441.84h8.82v2.94h-8.82zM225.40 441.84h11.76v2.94h-11.76zM193.06 444.78h11.76v2.94h-11.76zM228.34 444.78h11.76v2.94h-11.76zM198.94 447.72h11.76v2.94h-11.76zM231.28 447.72h11.76v2.94h-11.76zM204.82 450.66h11.76v2.94h-11.76zM234.22 450.66h8.82v2.94h-8.82zM213.64 453.60h8.82v2.94h-8.82zM234.22 453.60h5.88v2.94h-5.88zM216.58 456.54h20.58v2.94h-20.58zM219.52 459.48h17.64v2.94h-17.64z"/><path fill="#86D98F" d="M204.82 427.14h2.94v2.94h-2.94zM198.94 430.08h5.88v2.94h-5.88zM207.76 430.08h2.94v2.94h-2.94zM196.00 433.02h2.94v2.94h-2.94zM210.70 433.02h5.88v2.94h-5.88zM190.12 435.96h5.88v2.94h-5.88zM213.64 435.96h5.88v2.94h-5.88zM196.00 438.90h5.88v2.94h-5.88zM207.76 438.90h14.70v2.94h-14.70zM198.94 441.84h26.46v2.94h-26.46zM204.82 444.78h23.52v2.94h-23.52zM210.70 447.72h20.58v2.94h-20.58zM216.58 450.66h17.64v2.94h-17.64zM222.46 453.60h11.76v2.94h-11.76z"/><path fill="#76C843" d="M204.82 430.08h2.94v2.94h-2.94zM198.94 433.02h5.88v2.94h-5.88zM207.76 433.02h2.94v2.94h-2.94zM196.00 435.96h8.82v2.94h-8.82zM207.76 435.96h5.88v2.94h-5.88zM201.88 438.90h5.88v2.94h-5.88z"/><path fill="#7BC410" d="M204.82 433.02h2.94v2.94h-2.94zM204.82 435.96h2.94v2.94h-2.94z"/></g><g shape-rendering="crispEdges"><path fill="#31308C" d="M562.60 412.44h5.88v2.94h-5.88zM562.60 415.38h5.88v2.94h-5.88zM562.60 418.32h5.88v2.94h-5.88zM562.60 421.26h5.88v2.94h-5.88zM562.60 424.20h5.88v2.94h-5.88zM562.60 427.14h5.88v2.94h-5.88zM562.60 430.08h5.88v2.94h-5.88zM562.60 433.02h8.82v2.94h-8.82zM562.60 435.96h8.82v2.94h-8.82zM562.60 438.90h8.82v2.94h-8.82zM562.60 441.84h8.82v2.94h-8.82zM562.60 444.78h8.82v2.94h-8.82zM562.60 447.72h8.82v2.94h-8.82zM562.60 450.66h8.82v2.94h-8.82zM565.54 453.60h5.88v2.94h-5.88zM565.54 456.54h5.88v2.94h-5.88zM565.54 459.48h5.88v2.94h-5.88zM565.54 462.42h5.88v2.94h-5.88zM565.54 465.36h2.94v2.94h-2.94zM571.42 509.46h29.40v2.94h-29.40zM574.36 512.40h26.46v2.94h-26.46zM577.30 515.34h23.52v2.94h-23.52z"/><path fill="#2E3FA0" d="M559.66 412.44h2.94v2.94h-2.94zM559.66 415.38h2.94v2.94h-2.94zM568.48 415.38h2.94v2.94h-2.94zM559.66 418.32h2.94v2.94h-2.94zM568.48 418.32h2.94v2.94h-2.94zM559.66 421.26h2.94v2.94h-2.94zM568.48 421.26h5.88v2.94h-5.88zM559.66 424.20h2.94v2.94h-2.94zM568.48 424.20h5.88v2.94h-5.88zM559.66 427.14h2.94v2.94h-2.94zM568.48 427.14h8.82v2.94h-8.82zM556.72 430.08h5.88v2.94h-5.88zM568.48 430.08h8.82v2.94h-8.82zM556.72 433.02h5.88v2.94h-5.88zM571.42 433.02h5.88v2.94h-5.88zM556.72 435.96h5.88v2.94h-5.88zM571.42 435.96h8.82v2.94h-8.82zM556.72 438.90h5.88v2.94h-5.88zM571.42 438.90h8.82v2.94h-8.82zM556.72 441.84h5.88v2.94h-5.88zM571.42 441.84h8.82v2.94h-8.82zM556.72 444.78h5.88v2.94h-5.88zM571.42 444.78h8.82v2.94h-8.82zM556.72 447.72h5.88v2.94h-5.88zM571.42 447.72h8.82v2.94h-8.82zM556.72 450.66h5.88v2.94h-5.88zM571.42 450.66h8.82v2.94h-8.82zM556.72 453.60h8.82v2.94h-8.82zM571.42 453.60h8.82v2.94h-8.82zM556.72 456.54h8.82v2.94h-8.82zM571.42 456.54h8.82v2.94h-8.82zM556.72 459.48h8.82v2.94h-8.82zM571.42 459.48h11.76v2.94h-11.76zM559.66 462.42h5.88v2.94h-5.88zM571.42 462.42h14.70v2.94h-14.70zM559.66 465.36h5.88v2.94h-5.88zM568.48 465.36h23.52v2.94h-23.52zM559.66 468.30h32.34v2.94h-32.34zM559.66 471.24h32.34v2.94h-32.34zM559.66 474.18h29.40v2.94h-29.40zM562.60 477.12h23.52v2.94h-23.52zM603.76 477.12h17.64v2.94h-17.64zM562.60 480.06h20.58v2.94h-20.58zM597.88 480.06h29.40v2.94h-29.40zM562.60 483.00h17.64v2.94h-17.64zM594.94 483.00h35.28v2.94h-35.28zM562.60 485.94h14.70v2.94h-14.70zM592.00 485.94h41.16v2.94h-41.16zM562.60 488.88h14.70v2.94h-14.70zM586.12 488.88h47.04v2.94h-47.04zM565.54 491.82h8.82v2.94h-8.82zM583.18 491.82h47.04v2.94h-47.04zM565.54 494.76h5.88v2.94h-5.88zM580.24 494.76h47.04v2.94h-47.04zM565.54 497.70h2.94v2.94h-2.94zM574.36 497.70h52.92v2.94h-52.92zM571.42 500.64h52.92v2.94h-52.92zM568.48 503.58h55.86v2.94h-55.86zM568.48 506.52h52.92v2.94h-52.92zM600.82 509.46h20.58v2.94h-20.58zM600.82 512.40h20.58v2.94h-20.58zM600.82 515.34h20.58v2.94h-20.58z"/><path fill="#2F5BB5" d="M612.58 397.74h2.94v2.94h-2.94zM562.60 400.68h2.94v2.94h-2.94zM600.82 400.68h14.70v2.94h-14.70zM562.60 403.62h5.88v2.94h-5.88zM600.82 403.62h17.64v2.94h-17.64zM559.66 406.56h11.76v2.94h-11.76zM600.82 406.56h20.58v2.94h-20.58zM559.66 409.50h14.70v2.94h-14.70zM600.82 409.50h20.58v2.94h-20.58zM568.48 412.44h5.88v2.94h-5.88zM603.76 412.44h20.58v2.94h-20.58zM571.42 415.38h5.88v2.94h-5.88zM606.70 415.38h20.58v2.94h-20.58zM571.42 418.32h8.82v2.94h-8.82zM609.64 418.32h20.58v2.94h-20.58zM574.36 421.26h8.82v2.94h-8.82zM615.52 421.26h17.64v2.94h-17.64zM574.36 424.20h11.76v2.94h-11.76zM621.40 424.20h14.70v2.94h-14.70zM577.30 427.14h8.82v2.94h-8.82zM627.28 427.14h14.70v2.94h-14.70zM577.30 430.08h11.76v2.94h-11.76zM630.22 430.08h11.76v2.94h-11.76zM577.30 433.02h11.76v2.94h-11.76zM636.10 433.02h8.82v2.94h-8.82zM580.24 435.96h8.82v2.94h-8.82zM639.04 435.96h8.82v2.94h-8.82zM580.24 438.90h8.82v2.94h-8.82zM639.04 438.90h8.82v2.94h-8.82zM580.24 441.84h8.82v2.94h-8.82zM641.98 441.84h5.88v2.94h-5.88zM580.24 444.78h8.82v2.94h-8.82zM641.98 444.78h8.82v2.94h-8.82zM580.24 447.72h8.82v2.94h-8.82zM641.98 447.72h8.82v2.94h-8.82zM683.14 447.72h8.82v2.94h-8.82zM580.24 450.66h8.82v2.94h-8.82zM680.20 450.66h14.70v2.94h-14.70zM580.24 453.60h8.82v2.94h-8.82zM680.20 453.60h14.70v2.94h-14.70zM580.24 456.54h8.82v2.94h-8.82zM683.14 456.54h11.76v2.94h-11.76zM583.18 459.48h8.82v2.94h-8.82zM686.08 459.48h5.88v2.94h-5.88zM586.12 462.42h17.64v2.94h-17.64zM592.00 465.36h23.52v2.94h-23.52zM633.16 465.36h8.82v2.94h-8.82zM592.00 468.30h23.52v2.94h-23.52zM630.22 468.30h11.76v2.94h-11.76zM592.00 471.24h52.92v2.94h-52.92zM589.06 474.18h58.80v2.94h-58.80zM586.12 477.12h17.64v2.94h-17.64zM621.40 477.12h26.46v2.94h-26.46zM583.18 480.06h14.70v2.94h-14.70zM627.28 480.06h20.58v2.94h-20.58zM580.24 483.00h14.70v2.94h-14.70zM630.22 483.00h17.64v2.94h-17.64zM577.30 485.94h14.70v2.94h-14.70zM633.16 485.94h14.70v2.94h-14.70zM577.30 488.88h8.82v2.94h-8.82zM633.16 488.88h14.70v2.94h-14.70zM574.36 491.82h8.82v2.94h-8.82zM630.22 491.82h14.70v2.94h-14.70zM571.42 494.76h8.82v2.94h-8.82zM627.28 494.76h17.64v2.94h-17.64zM568.48 497.70h5.88v2.94h-5.88zM627.28 497.70h17.64v2.94h-17.64zM565.54 500.64h5.88v2.94h-5.88zM624.34 500.64h17.64v2.94h-17.64zM565.54 503.58h2.94v2.94h-2.94zM624.34 503.58h17.64v2.94h-17.64zM621.40 506.52h17.64v2.94h-17.64zM621.40 509.46h17.64v2.94h-17.64zM621.40 512.40h17.64v2.94h-17.64zM621.40 515.34h17.64v2.94h-17.64z"/><path fill="#3F80C5" d="M603.76 374.22h8.82v2.94h-8.82zM597.88 377.16h17.64v2.94h-17.64zM589.06 380.10h29.40v2.94h-29.40zM580.24 383.04h38.22v2.94h-38.22zM574.36 385.98h44.10v2.94h-44.10zM562.60 388.92h58.80v2.94h-58.80zM562.60 391.86h58.80v2.94h-58.80zM562.60 394.80h61.74v2.94h-61.74zM562.60 397.74h49.98v2.94h-49.98zM615.52 397.74h8.82v2.94h-8.82zM565.54 400.68h35.28v2.94h-35.28zM615.52 400.68h8.82v2.94h-8.82zM568.48 403.62h32.34v2.94h-32.34zM618.46 403.62h8.82v2.94h-8.82zM571.42 406.56h29.40v2.94h-29.40zM621.40 406.56h5.88v2.94h-5.88zM574.36 409.50h26.46v2.94h-26.46zM621.40 409.50h8.82v2.94h-8.82zM574.36 412.44h29.40v2.94h-29.40zM624.34 412.44h5.88v2.94h-5.88zM577.30 415.38h29.40v2.94h-29.40zM627.28 415.38h5.88v2.94h-5.88zM580.24 418.32h29.40v2.94h-29.40zM630.22 418.32h5.88v2.94h-5.88zM583.18 421.26h32.34v2.94h-32.34zM633.16 421.26h2.94v2.94h-2.94zM586.12 424.20h35.28v2.94h-35.28zM636.10 424.20h2.94v2.94h-2.94zM586.12 427.14h41.16v2.94h-41.16zM589.06 430.08h41.16v2.94h-41.16zM589.06 433.02h47.04v2.94h-47.04zM683.14 433.02h8.82v2.94h-8.82zM589.06 435.96h49.98v2.94h-49.98zM680.20 435.96h17.64v2.94h-17.64zM589.06 438.90h49.98v2.94h-49.98zM668.44 438.90h32.34v2.94h-32.34zM589.06 441.84h52.92v2.94h-52.92zM647.86 441.84h2.94v2.94h-2.94zM668.44 441.84h32.34v2.94h-32.34zM589.06 444.78h52.92v2.94h-52.92zM665.50 444.78h35.28v2.94h-35.28zM589.06 447.72h49.98v2.94h-49.98zM665.50 447.72h17.64v2.94h-17.64zM691.96 447.72h8.82v2.94h-8.82zM589.06 450.66h49.98v2.94h-49.98zM668.44 450.66h11.76v2.94h-11.76zM694.90 450.66h5.88v2.94h-5.88zM589.06 453.60h47.04v2.94h-47.04zM668.44 453.60h11.76v2.94h-11.76zM694.90 453.60h5.88v2.94h-5.88zM589.06 456.54h47.04v2.94h-47.04zM647.86 456.54h5.88v2.94h-5.88zM671.38 456.54h11.76v2.94h-11.76zM694.90 456.54h5.88v2.94h-5.88zM592.00 459.48h41.16v2.94h-41.16zM644.92 459.48h11.76v2.94h-11.76zM674.32 459.48h11.76v2.94h-11.76zM691.96 459.48h8.82v2.94h-8.82zM603.76 462.42h29.40v2.94h-29.40zM641.98 462.42h14.70v2.94h-14.70zM674.32 462.42h23.52v2.94h-23.52zM615.52 465.36h17.64v2.94h-17.64zM641.98 465.36h17.64v2.94h-17.64zM677.26 465.36h20.58v2.94h-20.58zM615.52 468.30h14.70v2.94h-14.70zM641.98 468.30h20.58v2.94h-20.58zM683.14 468.30h11.76v2.94h-11.76zM644.92 471.24h17.64v2.94h-17.64zM686.08 471.24h5.88v2.94h-5.88zM647.86 474.18h17.64v2.94h-17.64zM647.86 477.12h17.64v2.94h-17.64zM647.86 480.06h17.64v2.94h-17.64zM647.86 483.00h17.64v2.94h-17.64zM647.86 485.94h17.64v2.94h-17.64zM647.86 488.88h17.64v2.94h-17.64zM644.92 491.82h20.58v2.94h-20.58zM644.92 494.76h17.64v2.94h-17.64zM644.92 497.70h17.64v2.94h-17.64zM641.98 500.64h17.64v2.94h-17.64zM641.98 503.58h17.64v2.94h-17.64zM639.04 506.52h20.58v2.94h-20.58zM639.04 509.46h17.64v2.94h-17.64zM639.04 512.40h17.64v2.94h-17.64zM639.04 515.34h11.76v2.94h-11.76z"/><path fill="#55A5D8" d="M612.58 374.22h14.70v2.94h-14.70zM615.52 377.16h14.70v2.94h-14.70zM618.46 380.10h17.64v2.94h-17.64zM618.46 383.04h17.64v2.94h-17.64zM618.46 385.98h20.58v2.94h-20.58zM621.40 388.92h17.64v2.94h-17.64zM621.40 391.86h20.58v2.94h-20.58zM624.34 394.80h17.64v2.94h-17.64zM624.34 397.74h17.64v2.94h-17.64zM624.34 400.68h20.58v2.94h-20.58zM627.28 403.62h17.64v2.94h-17.64zM627.28 406.56h20.58v2.94h-20.58zM630.22 409.50h17.64v2.94h-17.64zM630.22 412.44h17.64v2.94h-17.64zM633.16 415.38h17.64v2.94h-17.64zM689.02 415.38h2.94v2.94h-2.94zM636.10 418.32h14.70v2.94h-14.70zM683.14 418.32h11.76v2.94h-11.76zM636.10 421.26h14.70v2.94h-14.70zM677.26 421.26h20.58v2.94h-20.58zM639.04 424.20h14.70v2.94h-14.70zM671.38 424.20h29.40v2.94h-29.40zM641.98 427.14h11.76v2.94h-11.76zM668.44 427.14h32.34v2.94h-32.34zM641.98 430.08h61.74v2.94h-61.74zM644.92 433.02h38.22v2.94h-38.22zM691.96 433.02h11.76v2.94h-11.76zM647.86 435.96h32.34v2.94h-32.34zM697.84 435.96h5.88v2.94h-5.88zM647.86 438.90h20.58v2.94h-20.58zM700.78 438.90h5.88v2.94h-5.88zM650.80 441.84h17.64v2.94h-17.64zM700.78 441.84h5.88v2.94h-5.88zM650.80 444.78h14.70v2.94h-14.70zM700.78 444.78h8.82v2.94h-8.82zM639.04 447.72h2.94v2.94h-2.94zM650.80 447.72h14.70v2.94h-14.70zM700.78 447.72h8.82v2.94h-8.82zM639.04 450.66h29.40v2.94h-29.40zM700.78 450.66h8.82v2.94h-8.82zM636.10 453.60h32.34v2.94h-32.34zM700.78 453.60h5.88v2.94h-5.88zM636.10 456.54h11.76v2.94h-11.76zM653.74 456.54h17.64v2.94h-17.64zM700.78 456.54h5.88v2.94h-5.88zM633.16 459.48h11.76v2.94h-11.76zM656.68 459.48h17.64v2.94h-17.64zM700.78 459.48h2.94v2.94h-2.94zM633.16 462.42h8.82v2.94h-8.82zM656.68 462.42h17.64v2.94h-17.64zM697.84 462.42h5.88v2.94h-5.88zM659.62 465.36h17.64v2.94h-17.64zM697.84 465.36h2.94v2.94h-2.94zM662.56 468.30h20.58v2.94h-20.58zM694.90 468.30h5.88v2.94h-5.88zM662.56 471.24h23.52v2.94h-23.52zM691.96 471.24h5.88v2.94h-5.88zM665.50 474.18h32.34v2.94h-32.34zM665.50 477.12h32.34v2.94h-32.34zM665.50 480.06h29.40v2.94h-29.40zM665.50 483.00h23.52v2.94h-23.52zM691.96 483.00h2.94v2.94h-2.94zM665.50 485.94h20.58v2.94h-20.58zM691.96 485.94h2.94v2.94h-2.94zM665.50 488.88h17.64v2.94h-17.64zM665.50 491.82h17.64v2.94h-17.64zM662.56 494.76h17.64v2.94h-17.64zM662.56 497.70h17.64v2.94h-17.64zM659.62 500.64h20.58v2.94h-20.58zM659.62 503.58h17.64v2.94h-17.64zM659.62 506.52h17.64v2.94h-17.64zM656.68 509.46h20.58v2.94h-20.58zM656.68 512.40h8.82v2.94h-8.82z"/><path fill="#7CCBE8" d="M636.10 383.04h5.88v2.94h-5.88zM639.04 385.98h5.88v2.94h-5.88zM639.04 388.92h11.76v2.94h-11.76zM641.98 391.86h14.70v2.94h-14.70zM641.98 394.80h17.64v2.94h-17.64zM641.98 397.74h23.52v2.94h-23.52zM644.92 400.68h26.46v2.94h-26.46zM644.92 403.62h29.40v2.94h-29.40zM647.86 406.56h32.34v2.94h-32.34zM647.86 409.50h38.22v2.94h-38.22zM647.86 412.44h41.16v2.94h-41.16zM650.80 415.38h38.22v2.94h-38.22zM650.80 418.32h32.34v2.94h-32.34zM650.80 421.26h26.46v2.94h-26.46zM653.74 424.20h17.64v2.94h-17.64zM653.74 427.14h14.70v2.94h-14.70zM689.02 483.00h2.94v2.94h-2.94zM686.08 485.94h5.88v2.94h-5.88zM683.14 488.88h8.82v2.94h-8.82zM683.14 491.82h8.82v2.94h-8.82zM680.20 494.76h8.82v2.94h-8.82zM680.20 497.70h8.82v2.94h-8.82zM680.20 500.64h5.88v2.94h-5.88zM677.26 503.58h8.82v2.94h-8.82zM677.26 506.52h2.94v2.94h-2.94z"/></g><circle cx="206.2" cy="453.6" r="29.6" fill="none" stroke="#fff" stroke-width="1.6" stroke-dasharray="6.2 4.1"/><circle cx="644.2" cy="460" r="29.7" fill="none" stroke="#fff" stroke-width="1.6" stroke-dasharray="6.2 4.1"/>
<circle cx="122.7" cy="174.9" r="33.4" fill="none" stroke="#fff" stroke-width="0.75" opacity="0.9"/><circle cx="122.7" cy="174.9" r="33.4" fill="none" stroke="#111" stroke-width="0.7" stroke-dasharray="2.6 2.4"/>
<circle cx="320.9" cy="174.5" r="33.3" fill="none" stroke="#fff" stroke-width="0.75" opacity="0.9"/><circle cx="320.9" cy="174.5" r="33.3" fill="none" stroke="#111" stroke-width="0.7" stroke-dasharray="2.6 2.4"/>
<circle cx="542.7" cy="174.5" r="31.2" fill="none" stroke="#fff" stroke-width="0.75" opacity="0.9"/><circle cx="542.7" cy="174.5" r="31.2" fill="none" stroke="#111" stroke-width="0.7" stroke-dasharray="2.6 2.4"/>
<circle cx="741.8" cy="174.2" r="31" fill="none" stroke="#fff" stroke-width="0.75" opacity="0.9"/><circle cx="741.8" cy="174.2" r="31" fill="none" stroke="#111" stroke-width="0.7" stroke-dasharray="2.6 2.4"/>
<path d="M136.79999999999998 209.2L139.7 206.29999999999998L142.6 209.2L139.7 212.1Z" fill="#fff"/>
<path d="M570.6 223.4L573.5 220.5L576.4 223.4L573.5 226.3Z" fill="#fff"/>
<circle cx="307.8" cy="195" r="2.3" fill="none" stroke="#111" stroke-width="0.6"/><path d="M306.3 195H309.3" stroke="#111" stroke-width="0.5"/>
<rect x="117.3" y="110.10000000000001" width="10.6" height="7.2" fill="#fff"/><text x="122.6" y="116.2" font-size="6.8" text-anchor="middle" class="sm" textLength="9.4" lengthAdjust="spacingAndGlyphs">642</text>
<rect x="55.400000000000006" y="172.70000000000002" width="10.6" height="7.2" fill="#fff"/><text x="60.7" y="178.8" font-size="6.8" text-anchor="middle" class="sm" textLength="9.4" lengthAdjust="spacingAndGlyphs">560</text>
<rect x="117.3" y="172.70000000000002" width="10.6" height="7.2" fill="#fff"/><text x="122.6" y="178.8" font-size="6.8" text-anchor="middle" class="sm" textLength="9.4" lengthAdjust="spacingAndGlyphs">502</text>
<rect x="179.7" y="172.70000000000002" width="10.6" height="7.2" fill="#fff"/><text x="185" y="178.8" font-size="6.8" text-anchor="middle" class="sm" textLength="9.4" lengthAdjust="spacingAndGlyphs">582</text>
<rect x="117.3" y="234.8" width="10.6" height="7.2" fill="#fff"/><text x="122.6" y="240.9" font-size="6.8" text-anchor="middle" class="sm" textLength="9.4" lengthAdjust="spacingAndGlyphs">565</text>
<rect x="536.9000000000001" y="109.0" width="10.6" height="7.2" fill="#fff"/><text x="542.2" y="115.1" font-size="6.8" text-anchor="middle" class="sm" textLength="9.4" lengthAdjust="spacingAndGlyphs">616</text>
<rect x="474.9" y="171.3" width="10.6" height="7.2" fill="#fff"/><text x="480.2" y="177.4" font-size="6.8" text-anchor="middle" class="sm" textLength="9.4" lengthAdjust="spacingAndGlyphs">583</text>
<rect x="536.9000000000001" y="171.3" width="10.6" height="7.2" fill="#fff"/><text x="542.2" y="177.4" font-size="6.8" text-anchor="middle" class="sm" textLength="9.4" lengthAdjust="spacingAndGlyphs">502</text>
<rect x="599.4000000000001" y="171.3" width="10.6" height="7.2" fill="#fff"/><text x="604.7" y="177.4" font-size="6.8" text-anchor="middle" class="sm" textLength="9.4" lengthAdjust="spacingAndGlyphs">550</text>
<rect x="536.9000000000001" y="233.3" width="10.6" height="7.2" fill="#fff"/><text x="542.2" y="239.4" font-size="6.8" text-anchor="middle" class="sm" textLength="9.4" lengthAdjust="spacingAndGlyphs">538</text>
<g font-size="5.9" text-anchor="middle" class="sm" fill="#1a1a1a"><text x="292.9" y="131.0">-32</text><text x="318.8" y="124.6">-17</text><text x="345.3" y="131.0">+3</text><text x="269.9" y="148.0">-21</text><text x="318.8" y="145.79999999999998">-47</text><text x="347.8" y="157.1">-16</text><text x="366.6" y="148.0">+14</text><text x="290.4" y="157.1">-43</text><text x="258.2" y="172.79999999999998">-4</text><text x="303.5" y="172.79999999999998">-26</text><text x="332.9" y="172.79999999999998">-24</text><text x="378.6" y="172.79999999999998">+15</text><text x="277.7" y="186.6">+7</text><text x="318.8" y="186.6" fill="#fff">+12</text><text x="359.5" y="186.6">-5</text><text x="258.2" y="200.0">+7</text><text x="304.2" y="200.7">+45</text><text x="332.9" y="200.7">+23</text><text x="378.6" y="200.0">-3</text><text x="289.4" y="215.6">+28</text><text x="347.1" y="215.6">+1</text><text x="270.6" y="225.2">-7</text><text x="318.8" y="227.29999999999998">+27</text><text x="366.6" y="225.2">-20</text><text x="291.8" y="241.4">-5</text><text x="318.8" y="247.79999999999998">-15</text><text x="346" y="241.4">-26</text><text x="717.9" y="131.0">0</text><text x="743.8" y="124.6">-11</text><text x="771.7" y="131.0">-38</text><text x="696" y="148.0">-1</text><text x="745.2" y="145.79999999999998">-43</text><text x="792.3" y="148.0">-34</text><text x="716.1" y="157.1">-28</text><text x="774.6" y="157.1" fill="#fff">-49</text><text x="684.3" y="172.79999999999998">+14</text><text x="730.3" y="172.79999999999998">-39</text><text x="758.6" y="172.79999999999998">-26</text><text x="804.7" y="172.79999999999998">-16</text><text x="703" y="186.6">-28</text><text x="744.5" y="186.6" fill="#fff">+6</text><text x="785.2" y="186.6">+8</text><text x="684.3" y="200.0">-5</text><text x="729.6" y="200.7">+16</text><text x="758.6" y="200.7" fill="#fff">+64</text><text x="804" y="200.0">+14</text><text x="714.4" y="215.6">-1</text><text x="772.8" y="215.6" fill="#fff">+58</text><text x="695.6" y="225.2">-17</text><text x="744.5" y="227.29999999999998" fill="#fff">+60</text><text x="791.6" y="225.2">+10</text><text x="717.9" y="241.4">-24</text><text x="744.5" y="247.79999999999998">+8</text><text x="771" y="241.4">+12</text></g>
<path d="M89.4 292.6V556.6" stroke="#000" stroke-width="1.7" fill="none"/>
<path d="M84.2 306.9H89.4M84.2 336.3H89.4M84.2 365.7H89.4M84.2 395.1H89.4M84.2 424.5H89.4M84.2 453.9H89.4M84.2 483.3H89.4M84.2 512.7H89.4M84.2 542.1H89.4" stroke="#000" stroke-width="1.4" fill="none"/>
<path d="M94 559.6H357.4" stroke="#000" stroke-width="1.5" fill="none"/>
<path d="M108.0 559.6V565.6M137.4 559.6V565.6M166.8 559.6V565.6M196.2 559.6V565.6M225.6 559.6V565.6M255.0 559.6V565.6M284.4 559.6V565.6M313.8 559.6V565.6M343.2 559.6V565.6" stroke="#000" stroke-width="1.4" fill="none"/>
<g clip-path="url(#bclip)"><circle cx="225.4" cy="424.2" r="131.6" fill="none" stroke="#000" stroke-width="1.7"/>
<path d="M357.0 424.2L350.8 424.2M339.4 490.0L334.0 486.9M291.2 538.2L288.1 532.8M225.4 555.8L225.4 549.6M159.6 538.2L162.7 532.8M111.4 490.0L116.8 486.9M93.8 424.2L100.0 424.2M111.4 358.4L116.8 361.5M159.6 310.2L162.7 315.6M225.4 292.6L225.4 298.8M291.2 310.2L288.1 315.6M339.4 358.4L334.0 361.5" stroke="#000" stroke-width="1.4" fill="none"/></g>
<text x="74.6" y="317" font-size="20.4" text-anchor="end" fill="#000" >-4</text>
<text x="71.2" y="433.4" font-size="20.4" text-anchor="end" fill="#000" >0</text>
<text x="72" y="551.6" font-size="20.4" text-anchor="end" fill="#000" >4</text>
<text x="105.6" y="587" font-size="20.4" text-anchor="middle" fill="#000" >-4</text>
<text x="222.8" y="589.6" font-size="20.4" text-anchor="middle" fill="#000" >0</text>
<text x="339.4" y="587" font-size="20.4" text-anchor="middle" fill="#000" >4</text>
<text x="221" y="317.6" font-size="20.4" text-anchor="middle" fill="#000" >Brillouin map</text>
<path d="M485.4 292.6V556.6" stroke="#000" stroke-width="1.7" fill="none"/>
<path d="M480.2 306.9H485.4M480.2 336.3H485.4M480.2 365.7H485.4M480.2 395.1H485.4M480.2 424.5H485.4M480.2 453.9H485.4M480.2 483.3H485.4M480.2 512.7H485.4M480.2 542.1H485.4" stroke="#000" stroke-width="1.4" fill="none"/>
<path d="M490 559.6H753.4" stroke="#000" stroke-width="1.5" fill="none"/>
<path d="M504.0 559.6V565.6M533.4 559.6V565.6M562.8 559.6V565.6M592.2 559.6V565.6M621.6 559.6V565.6M651.0 559.6V565.6M680.4 559.6V565.6M709.8 559.6V565.6M739.2 559.6V565.6" stroke="#000" stroke-width="1.4" fill="none"/>
<g clip-path="url(#bclip)"><circle cx="621.4" cy="424.2" r="131.6" fill="none" stroke="#000" stroke-width="1.7"/>
<path d="M753.0 424.2L746.8 424.2M735.4 490.0L730.0 486.9M687.2 538.2L684.1 532.8M621.4 555.8L621.4 549.6M555.6 538.2L558.7 532.8M507.4 490.0L512.8 486.9M489.8 424.2L496.0 424.2M507.4 358.4L512.8 361.5M555.6 310.2L558.7 315.6M621.4 292.6L621.4 298.8M687.2 310.2L684.1 315.6M735.4 358.4L730.0 361.5" stroke="#000" stroke-width="1.4" fill="none"/></g>
<text x="470.6" y="317" font-size="20.4" text-anchor="end" fill="#000" >-4</text>
<text x="467.2" y="433.4" font-size="20.4" text-anchor="end" fill="#000" >0</text>
<text x="468" y="551.6" font-size="20.4" text-anchor="end" fill="#000" >4</text>
<text x="501.6" y="587" font-size="20.4" text-anchor="middle" fill="#000" >-4</text>
<text x="618.8" y="589.6" font-size="20.4" text-anchor="middle" fill="#000" >0</text>
<text x="735.4" y="587" font-size="20.4" text-anchor="middle" fill="#000" >4</text>
<text x="617" y="317.6" font-size="20.4" text-anchor="middle" fill="#000" >Brillouin map</text>
<rect x="768" y="332.00" width="14" height="12.26" fill="#E391CD"/>
<rect x="768" y="343.96" width="14" height="12.26" fill="#C970C8"/>
<rect x="768" y="355.92" width="14" height="12.26" fill="#AE52C2"/>
<rect x="768" y="367.87" width="14" height="12.26" fill="#943DB7"/>
<rect x="768" y="379.83" width="14" height="12.26" fill="#6F30AB"/>
<rect x="768" y="391.79" width="14" height="12.26" fill="#4F27A0"/>
<rect x="768" y="403.75" width="14" height="12.26" fill="#33288C"/>
<rect x="768" y="415.71" width="14" height="12.26" fill="#2C2672"/>
<rect x="768" y="427.66" width="14" height="12.26" fill="#31308C"/>
<rect x="768" y="439.62" width="14" height="12.26" fill="#2E3FA0"/>
<rect x="768" y="451.58" width="14" height="12.26" fill="#2F5BB5"/>
<rect x="768" y="463.54" width="14" height="12.26" fill="#3F80C5"/>
<rect x="768" y="475.49" width="14" height="12.26" fill="#55A5D8"/>
<rect x="768" y="487.45" width="14" height="12.26" fill="#7CCBE8"/>
<rect x="768" y="499.41" width="14" height="12.26" fill="#8FE0D5"/>
<rect x="768" y="511.37" width="14" height="12.26" fill="#86D98F"/>
<rect x="768" y="523.33" width="14" height="12.26" fill="#76C843"/>
<rect x="768" y="535.28" width="14" height="12.26" fill="#7BC410"/>
<rect x="768" y="547.24" width="14" height="12.26" fill="#B5D215"/>
<path d="M780 362.8H789.6" stroke="#000" stroke-width="1.5"/>
<text x="797" y="372.1" font-size="20.4" text-anchor="start" fill="#000" >5.80</text>
<path d="M780 444.4H789.6" stroke="#000" stroke-width="1.5"/>
<text x="797" y="453.7" font-size="20.4" text-anchor="start" fill="#000" >5.75</text>
<path d="M780 524H789.6" stroke="#000" stroke-width="1.5"/>
<text x="797" y="533.3" font-size="20.4" text-anchor="start" fill="#000" >5.70</text>
<text x="784.9" y="318" font-size="20.4" text-anchor="middle" fill="#000" >GHz</text>
<path d="M1016.6 36.9V501.2H1650" stroke="#000" stroke-width="1.5" fill="none"/>
<text x="1007.3" y="509.09999999999997" font-size="23.8" text-anchor="end" fill="#000" >0</text>
<text x="1007.3" y="442.86999999999995" font-size="23.8" text-anchor="end" fill="#000" >5</text>
<text x="1007.3" y="376.64" font-size="23.8" text-anchor="end" fill="#000" >10</text>
<text x="1007.3" y="310.40999999999997" font-size="23.8" text-anchor="end" fill="#000" >15</text>
<text x="1007.3" y="244.17999999999998" font-size="23.8" text-anchor="end" fill="#000" >20</text>
<text x="1007.3" y="177.94999999999996" font-size="23.8" text-anchor="end" fill="#000" >25</text>
<text x="1007.3" y="111.72" font-size="23.8" text-anchor="end" fill="#000" >30</text>
<text x="1007.3" y="45.489999999999974" font-size="23.8" text-anchor="end" fill="#000" >35</text>
<path d="M1016.6 435.0H1023.2M1016.6 368.7H1023.2M1016.6 302.5H1023.2M1016.6 236.3H1023.2M1016.6 170.0H1023.2M1016.6 103.8H1023.2M1016.6 37.6H1023.2" stroke="#000" stroke-width="1.5" fill="none"/>
<path d="M1153 501.2V511.6M1366.2 501.2V511.6M1579.8 501.2V511.6" stroke="#000" stroke-width="1.5" fill="none"/>
<text transform="translate(956.3 264.8) rotate(-90)" font-size="24.25" text-anchor="middle" fill="#2a2a2a">Bilaterial asymmetry, |OD−OS| (MHz)</text>
<text x="1153.4" y="540" font-size="23.8" text-anchor="middle" fill="#000" >Center</text>
<text x="1367.4" y="540" font-size="23.8" text-anchor="middle" fill="#000" >Center</text>
<text x="1582.8" y="540" font-size="23.8" text-anchor="middle" fill="#000" >Thinnest</text>
<text x="1153.8" y="587.6" font-size="23.8" text-anchor="middle" fill="#000" >Normal</text>
<text x="1481.2" y="587.4" font-size="23.8" text-anchor="middle" fill="#000" >KC stage I</text>
<path d="M1099.3 554.7H1197M1326 554.9H1618.5" stroke="#858585" stroke-width="3.6" fill="none"/>
<path d="M1152.8 86.6V79.4H1580.2V86.6M1152.8 165.6V157.6H1363.4V165.6" stroke="#000" stroke-width="1.5" fill="none"/>
<text x="1358.9" y="76" font-size="35" text-anchor="start" fill="#000" letter-spacing="0.9" style="stroke-width:0.7px">***</text>
<text x="1251.9" y="158.7" font-size="35" text-anchor="start" fill="#000" letter-spacing="0.9" style="stroke-width:0.7px">**</text>
<path d="M1149.3 358.5V396.8M1149.3 450.5V474.8M1084.3 358.5H1214.5M1084.3 474.8H1214.5" stroke="#5a5a5a" stroke-width="1.2" fill="none"/><rect x="1071" y="396.8" width="156" height="53.7" fill="none" stroke="#3A62B8" stroke-width="1.6"/><path d="M1071 422.6H1227" stroke="#E8450F" stroke-width="1.7"/>
<path d="M1366.3 225.6V273.4M1366.3 396.5V436.1M1339.2 225.6H1393.9M1339.2 436.1H1393.9" stroke="#5a5a5a" stroke-width="1.2" fill="none"/><rect x="1318.3" y="273.4" width="96.10000000000014" height="123.1" fill="none" stroke="#3A62B8" stroke-width="1.6"/><path d="M1318.3 338.6H1414.4" stroke="#E02A20" stroke-width="1.7"/><path d="M1358.3 334.9H1374.3M1366.3 326.9V342.9" stroke="#E02A20" stroke-width="1.5"/>
<path d="M1579.8 127.1V144.7M1579.8 210.8V253.4M1553.1 127.1H1606.5M1553.1 253.4H1606.5" stroke="#5a5a5a" stroke-width="1.2" fill="none"/><rect x="1531.5" y="144.7" width="96.59999999999991" height="66.1" fill="none" stroke="#3A62B8" stroke-width="1.6"/><path d="M1531.5 164.9H1628.1" stroke="#E8450F" stroke-width="1.7"/><path d="M1571.8 177.9H1587.8M1579.8 169.9V185.9" stroke="#E8450F" stroke-width="1.5"/>
<g fill="#72C004" stroke="#000" stroke-width="1.4"><circle cx="1158.8" cy="396.3" r="10.8"/><circle cx="1160.8" cy="383.8" r="10.8"/><circle cx="1149.3" cy="363.5" r="10.8"/><circle cx="1149.7" cy="380.1" r="10.8"/><circle cx="1140.6" cy="395.3" r="10.8"/><circle cx="1139.2" cy="387.8" r="10.8"/><circle cx="1119.3" cy="391.9" r="10.8"/><circle cx="1179" cy="398.3" r="10.8"/><circle cx="1149.7" cy="409.5" r="10.8"/><circle cx="1159.8" cy="432.7" r="10.8"/><circle cx="1169.9" cy="420.6" r="10.8"/><circle cx="1167.9" cy="423.6" r="10.8"/><circle cx="1130.5" cy="423.6" r="10.8"/><circle cx="1129" cy="410.1" r="10.8"/><circle cx="1170.9" cy="408.9" r="10.8"/><circle cx="1111.2" cy="422" r="10.8"/><circle cx="1187.1" cy="428.7" r="10.8"/><circle cx="1148.7" cy="427.7" r="10.8"/><circle cx="1140.6" cy="443.9" r="10.8"/><circle cx="1138.6" cy="433.1" r="10.8"/><circle cx="1119.3" cy="444.9" r="10.8"/><circle cx="1179" cy="447.9" r="10.8"/><circle cx="1150.7" cy="469.2" r="10.8"/><circle cx="1159.8" cy="450.9" r="10.8"/><circle cx="1138.6" cy="455" r="10.8"/><circle cx="1104.6" cy="476.2" r="10.8"/><circle cx="1122.8" cy="471.8" r="10.8"/><circle cx="1139.6" cy="473.2" r="10.8"/><circle cx="1157.8" cy="478.3" r="10.8"/><circle cx="1176.6" cy="479.9" r="10.8"/><circle cx="1194.2" cy="475.2" r="10.8"/><circle cx="1149.3" cy="332.7" r="10.8"/><circle cx="1149.3" cy="308.4" r="10.8"/><circle cx="1149.3" cy="284.2" r="10.8"/></g>
<g fill="#DDD193" stroke="#000" stroke-width="1.4"><circle cx="1366.1" cy="225.6" r="10.8"/><circle cx="1366.1" cy="356.4" r="10.8"/><circle cx="1366.1" cy="320.6" r="10.8"/><circle cx="1366.1" cy="436.1" r="10.8"/></g>
<g fill="#DD2C1C" stroke="#000" stroke-width="1.4"><circle cx="1579.8" cy="127.1" r="10.8"/><circle cx="1579.8" cy="167.6" r="10.8"/><circle cx="1579.8" cy="161.2" r="10.8"/><circle cx="1579.8" cy="253.4" r="10.8"/></g>
</svg>
</body></html>
